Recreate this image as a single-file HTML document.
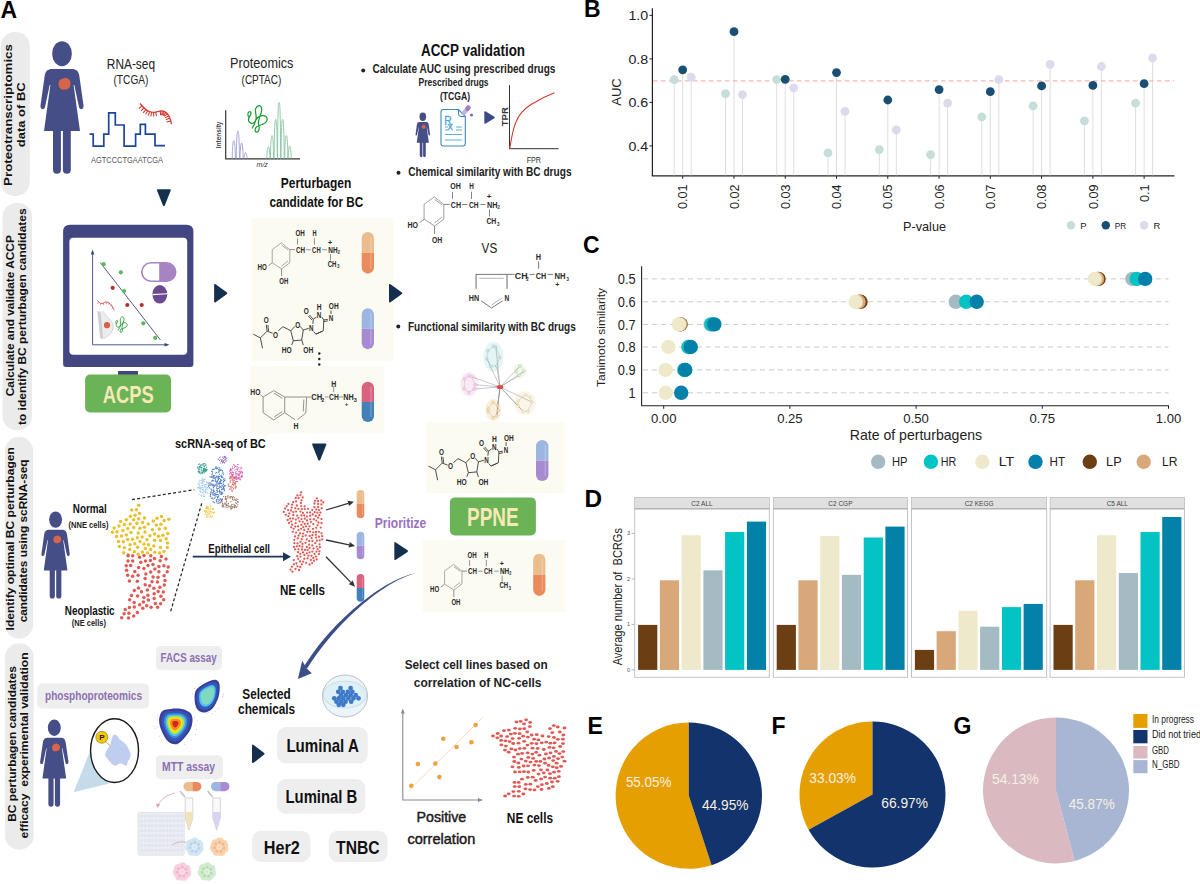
<!DOCTYPE html>
<html><head><meta charset="utf-8"><title>Figure</title>
<style>
html,body{margin:0;padding:0;background:#fff;}
body{width:1200px;height:884px;overflow:hidden;}
svg{display:block;font-family:"Liberation Sans", sans-serif;}
</style></head>
<body>
<svg width="1200" height="884" viewBox="0 0 1200 884">
<rect x="0" y="0" width="1200" height="884" fill="#fff"/>
<defs>
<filter id="soft" x="-20%" y="-20%" width="140%" height="140%"><feGaussianBlur stdDeviation="0.5"/></filter>
<g id="woman">
<ellipse cx="0" cy="0" rx="9.85" ry="12.5" fill="#454e86"/>
<path d="M-10,15.4 L10,15.4 C14,15.4 16.6,17.5 17.3,22 L21.5,51.8 C22,55.8 17.8,56.8 17,53.3 L12.3,31.3 L11.6,31.3 L18,77.3 L-18,77.3 L-11.6,31.3 L-12.3,31.3 L-17,53.3 C-17.8,56.8 -22,55.8 -21.5,51.8 L-17.3,22 C-16.6,17.5 -14,15.4 -10,15.4 Z" fill="#454e86"/>
<rect x="-9" y="72" width="7.9" height="48" rx="3.9" fill="#454e86"/>
<rect x="0.9" y="72" width="7.9" height="48" rx="3.9" fill="#454e86"/>
<path d="M2.8,24.2 C4.6,23.8 5.5,25.2 6.8,25.6 C8.6,26.6 8.3,28.6 8.5,30.2 C8.6,32.6 7.6,34.4 5.6,35.2 C4.2,36.2 2.4,35.6 1,36 C-1.6,35.9 -3.2,34 -3.3,31.6 C-3.8,29.8 -3.2,27.6 -2,26.4 C-0.9,24.9 1,24.5 2.8,24.2 Z" fill="#d6654b"/>
</g>
</defs>
<rect x="0.8" y="32.0" width="29.0" height="164.0" rx="14" fill="#ebebeb" />
<rect x="2.5" y="203.0" width="29.5" height="227.0" rx="14" fill="#ebebeb" />
<rect x="4.9" y="436.8" width="28.2" height="201.8" rx="14" fill="#ebebeb" />
<rect x="5.0" y="643.3" width="28.7" height="206.4" rx="14" fill="#ebebeb" />
<text transform="translate(11.8,115.0) rotate(-90)" font-size="11.2" font-weight="bold" fill="#111" text-anchor="middle" textLength="141.8" lengthAdjust="spacingAndGlyphs">Proteotranscriptomics</text>
<text transform="translate(25.0,114.8) rotate(-90)" font-size="11.2" font-weight="bold" fill="#111" text-anchor="middle" textLength="64.8" lengthAdjust="spacingAndGlyphs">data of BC</text>
<text transform="translate(14.0,315.7) rotate(-90)" font-size="10.9" font-weight="bold" fill="#111" text-anchor="middle" textLength="161.0" lengthAdjust="spacingAndGlyphs">Calculate and validate ACCP</text>
<text transform="translate(25.9,316.7) rotate(-90)" font-size="10.9" font-weight="bold" fill="#111" text-anchor="middle" textLength="216.6" lengthAdjust="spacingAndGlyphs">to identify BC perturbagen candidates</text>
<text transform="translate(14.3,538.8) rotate(-90)" font-size="11" font-weight="bold" fill="#111" text-anchor="middle" textLength="183.2" lengthAdjust="spacingAndGlyphs">Identify optimal BC perturbagen</text>
<text transform="translate(26.9,540.9) rotate(-90)" font-size="11" font-weight="bold" fill="#111" text-anchor="middle" textLength="162.9" lengthAdjust="spacingAndGlyphs">candidates using scRNA-seq</text>
<text transform="translate(15.7,744.0) rotate(-90)" font-size="11" font-weight="bold" fill="#111" text-anchor="middle" textLength="155.7" lengthAdjust="spacingAndGlyphs">BC perturbagen candidates</text>
<text transform="translate(27.6,745.5) rotate(-90)" font-size="11" font-weight="bold" fill="#111" text-anchor="middle" textLength="186.2" lengthAdjust="spacingAndGlyphs">efficacy&#160; experimental validation</text>
<text x="0.5" y="17.8" font-size="23" font-weight="bold" fill="#000" text-anchor="start">A</text>
<use href="#woman" transform="translate(62,53.7) scale(1.0)"/>
<text x="106.8" y="68.7" font-size="14" fill="#222" text-anchor="start" textLength="48.2" lengthAdjust="spacingAndGlyphs">RNA-seq</text>
<text x="113.5" y="84.1" font-size="13" fill="#222" text-anchor="start" textLength="34.9" lengthAdjust="spacingAndGlyphs">(TCGA)</text>
<polyline points="89.6,134.1 93.2,134.1 93.2,146.2 103.8,146.2 103.8,134.1 108.7,134.1 108.7,112.8 115.3,112.8 115.3,125 124.1,125 124.1,146.2 135.6,146.2 135.6,134.1 140.3,134.1 140.3,124.3 145.4,124.3 145.4,134.1 155,134.1 155,145.6 165,145.6" fill="none" stroke="#1c45a0" stroke-width="1.7"/>
<text x="91.0" y="162.8" font-size="8.5" fill="#555" text-anchor="start" textLength="72.0" lengthAdjust="spacingAndGlyphs">AGTCCCTGAATCGA</text>
<path d="M140,103.5 C146,111 151,114 158,111.5 C165,109 169.5,114 171.5,124" fill="none" stroke="#d2352f" stroke-width="1.3"/>
<path d="M142.0,105.8 l-3.12,2.81 M143.9,107.8 l-2.89,3.05 M145.8,109.5 l-2.55,3.33 M147.7,110.7 l-2.08,3.65 M149.6,111.7 l-1.45,3.94 M151.6,112.2 l-0.69,4.14 M153.6,112.4 l0.11,4.20 M155.7,112.1 l0.84,4.12 M160.2,110.9 l0.51,4.17 M162.3,110.9 l-0.55,4.16 M164.2,111.4 l-1.66,3.86 M165.9,112.4 l-2.60,3.30 M167.4,113.8 l-3.25,2.66 M168.7,115.8 l-3.66,2.07 M169.8,118.1 l-3.90,1.56 M170.7,120.9 l-4.04,1.15" stroke="#d2352f" stroke-width="1.05" fill="none"/>
<text x="230.1" y="68.4" font-size="14" fill="#222" text-anchor="start" textLength="63.3" lengthAdjust="spacingAndGlyphs">Proteomics</text>
<text x="241.6" y="84.0" font-size="13" fill="#222" text-anchor="start" textLength="39.7" lengthAdjust="spacingAndGlyphs">(CPTAC)</text>
<path d="M225.7,110.3 L225.7,158.8 L300,158.8" fill="none" stroke="#333" stroke-width="1.2"/>
<text transform="translate(221,134.9) rotate(-90)" font-size="6.5" font-weight="bold" fill="#444" text-anchor="middle">Intensity</text>
<text x="256.6" y="167" font-size="7" font-style="italic" fill="#333">m/z</text>
<path d="M232.2,158.5 C232.5,143.7 233.2,140.7 233.8,140.7 C234.4,140.7 235.1,143.7 235.4,158.5 M236.3,158.5 C236.6,134.2 237.3,131.2 237.9,131.2 C238.5,131.2 239.2,134.2 239.5,158.5 M240.0,158.5 C240.3,146.0 241.0,143.0 241.6,143.0 C242.2,143.0 242.9,146.0 243.2,158.5 M244.0,158.5 C244.3,155.5 245.0,152.5 245.6,152.5 C246.2,152.5 246.9,155.5 247.2,158.5" fill="none" stroke="#a09cd0" stroke-width="0.9"/>
<path d="M266.8,158.5 C267.1,149.8 267.8,146.8 268.4,146.8 C269.0,146.8 269.7,149.8 270.0,158.5 M270.4,158.5 C270.7,138.6 271.4,135.6 272.0,135.6 C272.6,135.6 273.3,138.6 273.6,158.5 M274.1,158.5 C274.4,122.4 275.1,119.4 275.7,119.4 C276.3,119.4 277.0,122.4 277.3,158.5 M277.5,158.5 C277.8,105.5 278.5,102.5 279.1,102.5 C279.7,102.5 280.4,105.5 280.7,158.5 M281.0,158.5 C281.3,122.4 282.0,119.4 282.6,119.4 C283.2,119.4 283.9,122.4 284.2,158.5 M284.7,158.5 C285.0,138.6 285.7,135.6 286.3,135.6 C286.9,135.6 287.6,138.6 287.9,158.5 M288.1,158.5 C288.4,149.0 289.1,146.0 289.7,146.0 C290.3,146.0 291.0,149.0 291.3,158.5" fill="none" stroke="#86c3a0" stroke-width="0.9"/>
<path d="M220,700 C260,640 300,560 320,470 C340,380 290,300 310,220 C330,140 420,110 450,180 C480,260 440,340 410,420 C380,500 370,580 390,640 C410,720 380,800 330,790 C280,780 290,680 350,645 C420,610 560,600 590,500 C610,420 540,370 460,385 C380,400 330,460 300,520 C270,580 190,590 150,540 C110,480 150,420 180,380 C210,330 190,270 150,290 C110,310 110,380 150,440" transform="translate(243,100) scale(0.0407)" fill="none" stroke="#1a9a2e" stroke-width="30"/>
<path d="M157.8,189.3 L169.9,189.3 Q171.4,189.3 170.6,190.8 L164.7,205.8 Q163.9,206.6 163.1,205.8 L157.1,190.8 Q156.3,189.3 157.8,189.3 Z" fill="#15304f"/>
<path d="M70,224.7 L186.4,224.7 Q193.4,224.7 193.4,231.7 L193.4,364 Q193.4,366.9 190.5,366.9 L66,366.9 Q63.1,366.9 63.1,364 L63.1,231.7 Q63.1,224.7 70,224.7 Z" fill="#434781"/>
<rect x="69.4" y="237.7" width="117.8" height="117.1" rx="4" fill="#ffffff" />
<rect x="118.0" y="371.0" width="20.0" height="4.0" rx="0" fill="#434781" />
<rect x="85.1" y="374.5" width="85.9" height="38.0" rx="5" fill="#6ab457" />
<text x="128.2" y="402.9" font-size="24.5" font-weight="bold" fill="#f7e8b6" text-anchor="middle" textLength="51.0" lengthAdjust="spacingAndGlyphs">ACPS</text>
<path d="M92.6,252 L92.6,344.8 L167.5,344.8" fill="none" stroke="#3d4a7c" stroke-width="0.9"/>
<polygon points="92.6,249.5 90.8,254.5 94.4,254.5" fill="#3d4a7c" />
<polygon points="169.5,344.8 164.5,343.0 164.5,346.6" fill="#3d4a7c" />
<line x1="100.20" y1="262.50" x2="160.50" y2="340.00" stroke="#3d4a7c" stroke-width="0.9" />
<circle cx="103.70" cy="264.20" r="2.1" fill="#5cb85c" />
<circle cx="120.80" cy="272.30" r="2.1" fill="#5cb85c" />
<circle cx="124.10" cy="291.00" r="2.1" fill="#5cb85c" />
<circle cx="143.30" cy="323.30" r="2.1" fill="#5cb85c" />
<circle cx="155.20" cy="337.90" r="2.1" fill="#5cb85c" />
<circle cx="112.70" cy="287.80" r="2.1" fill="#b03030" />
<circle cx="127.30" cy="305.00" r="2.1" fill="#b03030" />
<circle cx="141.70" cy="305.00" r="2.1" fill="#b03030" />
<path d="M151,262.8 L166.5,262.8 A9.2,9.2 0 0 1 166.5,281.2 L151,281.2 A9.2,9.2 0 0 1 151,262.8 Z" fill="#fff" stroke="#a683c3" stroke-width="1.6"/>
<path d="M159.2,262.8 L166.5,262.8 A9.2,9.2 0 0 1 166.5,281.2 L159.2,281.2 Z" fill="#a683c3"/>
<ellipse cx="159.8" cy="294.3" rx="7.4" ry="9.3" fill="#6b4a91"/>
<line x1="152.50" y1="294.60" x2="167.20" y2="293.80" stroke="#ffffff" stroke-width="1.1" />
<path d="M97.5,300.5 C99,302 100,303.5 102,303.5 C104,303 105,301.5 107,302 C109.5,302.5 111,304.5 112,306 C113,307.5 113.5,309 114.3,310.3" fill="none" stroke="#d04848" stroke-width="0.9"/>
<path d="M98.5,302 l-0.8,1.8 M100.8,303.4 l-0.4,1.9 M103.5,303 l0.1,1.9 M106.2,302.3 l0.2,1.9 M108.8,302.9 l0.1,1.9 M111,304.6 l-0.3,1.8 M112.7,306.9 l-0.6,1.6" stroke="#d04848" stroke-width="0.6" fill="none"/>
<path d="M97.3,311.4 L103.2,311.4 C106.5,317 112.5,320.5 113.3,326 C113.8,332 108.5,336.5 103.2,338.6 L100.2,338.6 Z" fill="#ececec"/>
<path d="M103.2,311.4 C106.5,317 112.5,320.5 113.3,326 C113.8,332 108.5,336.5 103.2,338.6" fill="none" stroke="#c8c8c8" stroke-width="0.7"/>
<path d="M97.5,311.5 L100.5,311.5 L103.2,338.5 L100.2,338.5 Z" fill="#cfcfcf"/>
<circle cx="107.00" cy="325.20" r="3.1" fill="#d86048" />
<path d="M220,700 C260,640 300,560 320,470 C340,380 290,300 310,220 C330,140 420,110 450,180 C480,260 440,340 410,420 C380,500 370,580 390,640 C410,720 380,800 330,790 C280,780 290,680 350,645 C420,610 560,600 590,500 C610,420 540,370 460,385 C380,400 330,460 300,520 C270,580 190,590 150,540 C110,480 150,420 180,380 C210,330 190,270 150,290 C110,310 110,380 150,440" transform="translate(112.94,313.5) scale(0.024)" fill="none" stroke="#1f9a32" stroke-width="36"/>
<path d="M214.1,285.0 Q214.1,283.5 215.6,284.3 L227.0,292.4 Q227.8,293.2 227.0,294.1 L215.6,302.2 Q214.1,303.0 214.1,301.5 Z" fill="#15304f"/>
<text x="280.8" y="188.2" font-size="15.5" font-weight="bold" fill="#111" text-anchor="start" textLength="70.5" lengthAdjust="spacingAndGlyphs">Perturbagen</text>
<text x="269.4" y="206.6" font-size="15.5" font-weight="bold" fill="#111" text-anchor="start" textLength="93.8" lengthAdjust="spacingAndGlyphs">candidate for BC</text>
<rect x="251.3" y="218.0" width="142.2" height="143.0" rx="0" fill="#fbfbf1" />
<rect x="250.4" y="366.0" width="134.0" height="67.7" rx="0" fill="#fbfbf1" />
<path d="M361.7,252.8 L361.7,238.2 A6.15,6.15 0 0 1 374.0,238.2 L374.0,252.8 Z" fill="#ebbd8c"/>
<path d="M361.7,252.8 L361.7,267.5 A6.15,6.15 0 0 0 374.0,267.5 L374.0,252.8 Z" fill="#e98b5c"/>
<rect x="370.3" y="236.9" width="1.23" height="31.9" fill="#fff" opacity="0.25"/>
<path d="M361.7,328.8 L361.7,314.5 A6.15,6.15 0 0 1 374.0,314.5 L374.0,328.8 Z" fill="#9cb5e1"/>
<path d="M361.7,328.8 L361.7,343.0 A6.15,6.15 0 0 0 374.0,343.0 L374.0,328.8 Z" fill="#a78bd2"/>
<rect x="370.3" y="313.2" width="1.23" height="31.1" fill="#fff" opacity="0.25"/>
<path d="M361.7,401.9 L361.7,387.9 A6.15,6.15 0 0 1 374.0,387.9 L374.0,401.9 Z" fill="#d9637f"/>
<path d="M361.7,401.9 L361.7,415.9 A6.15,6.15 0 0 0 374.0,415.9 L374.0,401.9 Z" fill="#4380b9"/>
<rect x="370.3" y="386.6" width="1.23" height="30.5" fill="#fff" opacity="0.25"/>
<circle cx="319.30" cy="353.50" r="1.2" fill="#222" />
<circle cx="319.30" cy="359.00" r="1.2" fill="#222" />
<circle cx="319.30" cy="364.50" r="1.2" fill="#222" />
<path d="M389.0,285.0 Q389.0,283.5 390.5,284.3 L401.9,292.4 Q402.7,293.2 401.9,294.1 L390.5,302.2 Q389.0,303.0 389.0,301.5 Z" fill="#15304f"/>
<defs><g id="epi"><polygon points="424.1,204.4 434.3,196.8 443.8,204.4 443.8,219.2 434.6,226 424.1,219.2" fill="none" stroke="#888" stroke-width="0.8"/><path d="M434.6,199.4 L442.1,204.8 M441.8,217.2 L434.6,222.9" stroke="#888" stroke-width="0.8" fill="none"/><path d="M443.8,204.4 L449.6,204.4 M452.5,192 L452.5,198.7 M471.5,191.7 L471.5,199 M462.2,204.5 L467.4,204.5 M480.3,204.5 L485.5,204.5 M489.5,209.5 L489.5,216.5 M419.7,222.6 L424.1,219.2 M434.6,226 L434.6,234.1" stroke="#666" stroke-width="0.8" fill="none"/><text x="450.2" y="189" font-size="9.3" font-weight="bold" fill="#2a2a2a" text-anchor="start" textLength="10.5" lengthAdjust="spacingAndGlyphs">OH</text><text x="469.2" y="189" font-size="9.3" font-weight="bold" fill="#2a2a2a" text-anchor="start" textLength="4.6" lengthAdjust="spacingAndGlyphs">H</text><text x="450.8" y="207.9" font-size="9.3" font-weight="bold" fill="#2a2a2a" text-anchor="start" textLength="10.2" lengthAdjust="spacingAndGlyphs">CH</text><text x="468.9" y="207.9" font-size="9.3" font-weight="bold" fill="#2a2a2a" text-anchor="start" textLength="9.6" lengthAdjust="spacingAndGlyphs">CH</text><text x="487" y="207.9" font-size="9.3" font-weight="bold" fill="#2a2a2a" text-anchor="start" textLength="10.5" lengthAdjust="spacingAndGlyphs">NH</text><text x="497.6" y="209.2" font-size="6" font-weight="bold" fill="#2a2a2a" text-anchor="start" textLength="2.4" lengthAdjust="spacingAndGlyphs">2</text><text x="489.2" y="198.9" font-size="8" font-weight="bold" fill="#2a2a2a" text-anchor="middle">+</text><text x="486.4" y="224" font-size="9.3" font-weight="bold" fill="#2a2a2a" text-anchor="start" textLength="9.9" lengthAdjust="spacingAndGlyphs">CH</text><text x="497" y="225.5" font-size="6" font-weight="bold" fill="#2a2a2a" text-anchor="start" textLength="2.5" lengthAdjust="spacingAndGlyphs">3</text><text x="407.5" y="227.7" font-size="9.3" font-weight="bold" fill="#2a2a2a" text-anchor="start" textLength="10.5" lengthAdjust="spacingAndGlyphs">HO</text><text x="431.9" y="242.8" font-size="9.3" font-weight="bold" fill="#2a2a2a" text-anchor="start" textLength="10.2" lengthAdjust="spacingAndGlyphs">OH</text></g><g id="nuc"><path d="M253.3,334.2 L260.4,337.9 L262.5,348.3 M260.4,337.9 L267.1,331.2 L272.6,333.2 M267.1,331.2 L266.3,324.8 M268.6,331 L267.8,325 M278.3,330.8 L282.9,326.7 L290.8,330.8 L295,326.3 M300,326.3 L303.3,330 L301.7,340 L293.3,340.8 L290.8,330.8 M293.3,340.8 L291.7,345 M301.7,340 L303.3,345 M303.3,330 L308.8,328.3 M312.8,323.8 L313.3,319.2 L316.5,317 M313.3,319.2 L309.5,315 M312,320 L308.3,316 M321.8,317 L323.8,320 L323.3,330.8 L315.8,334.2 L313.6,331.5 M322.3,331.3 L316.3,334 M323.8,320 L327.8,319.3 M323.8,321.6 L327.8,320.9 M331,314 L331,310.5" stroke="#3a3a3a" stroke-width="0.9" fill="none"/><text x="266.3" y="323.3" font-size="9" font-weight="bold" fill="#2a2a2a" text-anchor="middle" textLength="5" lengthAdjust="spacingAndGlyphs">O</text><text x="275.4" y="337.5" font-size="9" font-weight="bold" fill="#2a2a2a" text-anchor="middle" textLength="5" lengthAdjust="spacingAndGlyphs">O</text><text x="297.7" y="327.5" font-size="9" font-weight="bold" fill="#2a2a2a" text-anchor="middle" textLength="5" lengthAdjust="spacingAndGlyphs">O</text><text x="286.7" y="352.9" font-size="9.3" font-weight="bold" fill="#2a2a2a" text-anchor="middle" textLength="10" lengthAdjust="spacingAndGlyphs">HO</text><text x="308.3" y="352.9" font-size="9.3" font-weight="bold" fill="#2a2a2a" text-anchor="middle" textLength="10" lengthAdjust="spacingAndGlyphs">OH</text><text x="311.3" y="330.8" font-size="9" font-weight="bold" fill="#2a2a2a" text-anchor="middle" textLength="4.5" lengthAdjust="spacingAndGlyphs">N</text><text x="306.3" y="314.2" font-size="9" font-weight="bold" fill="#2a2a2a" text-anchor="middle" textLength="5" lengthAdjust="spacingAndGlyphs">O</text><text x="319.1" y="318.3" font-size="9" font-weight="bold" fill="#2a2a2a" text-anchor="middle" textLength="4.5" lengthAdjust="spacingAndGlyphs">N</text><text x="319.2" y="310" font-size="9" font-weight="bold" fill="#2a2a2a" text-anchor="middle" textLength="4.8" lengthAdjust="spacingAndGlyphs">H</text><text x="331" y="321.3" font-size="9" font-weight="bold" fill="#2a2a2a" text-anchor="middle" textLength="4.5" lengthAdjust="spacingAndGlyphs">N</text><text x="333.7" y="308.8" font-size="9.3" font-weight="bold" fill="#2a2a2a" text-anchor="middle" textLength="9.8" lengthAdjust="spacingAndGlyphs">OH</text></g></defs>
<use href="#epi" transform="translate(-105.2,67.7) scale(0.89)"/>
<use href="#nuc"/>
<path d="M263.1,397 L273.7,390.6 L284.7,397 L284.7,412.6 L273.7,420 L263.1,412.6 Z M274,393.2 L282.3,398.3 M282.3,411.5 L274,417.2 M284.7,397 L306.7,397 L305.8,413.1 L297.6,419.6 M303.9,399.5 L303.2,411.5 M284.7,412.6 L294.8,419.6 M260.4,394.6 L263.1,397 M306.7,397 L311,397 M325,397 L328.5,397 M339,397 L343,397 M333.7,386 L333.7,392" stroke="#777" stroke-width="0.8" fill="none"/>
<text x="250.3" y="394.6" font-size="9" font-weight="bold" fill="#2a2a2a" text-anchor="start" textLength="10.1" lengthAdjust="spacingAndGlyphs">HO</text>
<text x="296.1" y="428.5" font-size="9" font-weight="bold" fill="#2a2a2a" text-anchor="middle" textLength="5" lengthAdjust="spacingAndGlyphs">H</text>
<text x="311.3" y="400.4" font-size="9" font-weight="bold" fill="#2a2a2a" text-anchor="start" textLength="11" lengthAdjust="spacingAndGlyphs">CH</text>
<text x="321.3" y="402" font-size="5.5" font-weight="bold" fill="#2a2a2a" text-anchor="start">2</text>
<text x="329.1" y="400.4" font-size="9" font-weight="bold" fill="#2a2a2a" text-anchor="start" textLength="9.7" lengthAdjust="spacingAndGlyphs">CH</text>
<text x="333.7" y="386.5" font-size="9" font-weight="bold" fill="#2a2a2a" text-anchor="middle" textLength="5" lengthAdjust="spacingAndGlyphs">H</text>
<text x="343.3" y="400.4" font-size="9" font-weight="bold" fill="#2a2a2a" text-anchor="start" textLength="10.5" lengthAdjust="spacingAndGlyphs">NH</text>
<text x="353.8" y="402" font-size="5.5" font-weight="bold" fill="#2a2a2a" text-anchor="start">3</text>
<text x="346.5" y="406" font-size="6" font-weight="bold" fill="#2a2a2a" text-anchor="middle">+</text>
<text x="421.0" y="56.0" font-size="16" font-weight="bold" fill="#111" text-anchor="start" textLength="104.0" lengthAdjust="spacingAndGlyphs">ACCP validation</text>
<circle cx="363.20" cy="70.60" r="2" fill="#222" />
<text x="372.4" y="73.4" font-size="13" font-weight="bold" fill="#222" text-anchor="start" textLength="183.0" lengthAdjust="spacingAndGlyphs">Calculate AUC using prescribed drugs</text>
<text x="418.6" y="86.0" font-size="10" font-weight="bold" fill="#222" text-anchor="start" textLength="70.0" lengthAdjust="spacingAndGlyphs">Prescribed drugs</text>
<text x="440.0" y="100.4" font-size="10.5" font-weight="bold" fill="#222" text-anchor="start" textLength="30.0" lengthAdjust="spacingAndGlyphs">(TCGA)</text>
<use href="#woman" transform="translate(422.8,116.7) scale(0.337)"/>
<path d="M443.5,109.5 L458.5,109.5 L465.3,116.5 L465.3,143.5 Q465.3,146 462.8,146 L443.5,146 Q441,146 441,143.5 L441,112 Q441,109.5 443.5,109.5 Z" fill="#fff" stroke="#3a89b5" stroke-width="1.1"/>
<path d="M458.5,109.5 L458.5,114 Q458.5,116.5 461,116.5 L465.3,116.5" fill="none" stroke="#3a89b5" stroke-width="1"/>
<text x="444.3" y="125.3" font-size="13" fill="#4aa6dc" stroke="#4aa6dc" stroke-width="0.3" textLength="7.5" lengthAdjust="spacingAndGlyphs">R</text>
<text x="447.6" y="129.8" font-size="10.5" fill="#4aa6dc" stroke="#4aa6dc" stroke-width="0.3">x</text>
<path d="M445,127 L448,127 M445,130 L448,130 M456,127 L462,127 M456,130 L462,130 M445,134.5 L462,134.5 M445,140 L462,140" stroke="#4aa6dc" stroke-width="0.9" fill="none"/>
<g transform="translate(466,110.5) rotate(-50)"><rect x="-6" y="-2.2" width="12" height="4.4" rx="2.2" fill="#c7b0e0"/><rect x="0" y="-2.2" width="6" height="4.4" rx="2.2" fill="#9d7cc9"/></g>
<circle cx="471.50" cy="115.00" r="1.6" fill="#8a68b8" />
<path d="M484.3,112.2 Q484.3,110.7 485.8,111.5 L494.4,116.7 Q495.2,117.5 494.4,118.2 L485.8,123.4 Q484.3,124.2 484.3,122.7 Z" fill="#3d4a88"/>
<path d="M509.5,85.2 L509.5,148.7 L558.7,148.7" fill="none" stroke="#333" stroke-width="1"/>
<path d="M509.8,148 C511.5,138 513,128 516,122 C519,114 524,109 531,104.5 C539,99.5 547,95.5 554.5,92.7" fill="none" stroke="#d63a2a" stroke-width="1.1"/>
<text transform="translate(507.8,116.7) rotate(-90)" font-size="9.5" font-weight="bold" fill="#333" text-anchor="middle">TPR</text>
<text x="526.7" y="162.5" font-size="9" fill="#333" text-anchor="start" textLength="14.3" lengthAdjust="spacingAndGlyphs">FPR</text>
<circle cx="398.50" cy="172.70" r="2" fill="#222" />
<text x="408.3" y="176.1" font-size="12.5" font-weight="bold" fill="#222" text-anchor="start" textLength="163.2" lengthAdjust="spacingAndGlyphs">Chemical similarity with BC drugs</text>
<use href="#epi"/>
<text x="481.6" y="252.5" font-size="14" fill="#222" text-anchor="start" textLength="15.6" lengthAdjust="spacingAndGlyphs">VS</text>
<path d="M475.8,274.4 L512.5,274.4 M512.5,274.4 L514.5,274.4 M476.1,274.4 L476.1,288.8 M507,274.4 L507,288.8 M481.1,300.8 L491.6,308 L502.6,300.8 M529.5,274.4 L534.7,274.4 M547.7,274.4 L553,274.4 M538.6,261.5 L538.6,268.7" stroke="#555" stroke-width="0.8" fill="none"/>
<path d="M479.2,278.3 L503.6,278.3 M476.1,276 L476.1,288.8 M507,276 L507,288.8 M491.6,305.1 L502.2,297.9" stroke="#aaa" stroke-width="0.9" fill="none"/>
<text x="468.8" y="300.6" font-size="9" font-weight="bold" fill="#2a2a2a" text-anchor="start" textLength="10.4" lengthAdjust="spacingAndGlyphs">HN</text>
<text x="504.6" y="300.6" font-size="9" font-weight="bold" fill="#2a2a2a" text-anchor="start" textLength="4.8" lengthAdjust="spacingAndGlyphs">N</text>
<text x="535.7" y="259.6" font-size="9" font-weight="bold" fill="#2a2a2a" text-anchor="start" textLength="5.3" lengthAdjust="spacingAndGlyphs">H</text>
<text x="514.8" y="278.7" font-size="9" font-weight="bold" fill="#2a2a2a" text-anchor="start" textLength="12.8" lengthAdjust="spacingAndGlyphs">CH</text>
<text x="526.2" y="280.5" font-size="5.5" font-weight="bold" fill="#2a2a2a" text-anchor="start" textLength="2.4" lengthAdjust="spacingAndGlyphs">2</text>
<text x="535.7" y="278.7" font-size="9" font-weight="bold" fill="#2a2a2a" text-anchor="start" textLength="10.5" lengthAdjust="spacingAndGlyphs">CH</text>
<text x="554.4" y="278.7" font-size="9" font-weight="bold" fill="#2a2a2a" text-anchor="start" textLength="11" lengthAdjust="spacingAndGlyphs">NH</text>
<text x="566.4" y="280.5" font-size="5.5" font-weight="bold" fill="#2a2a2a" text-anchor="start" textLength="2.4" lengthAdjust="spacingAndGlyphs">3</text>
<text x="557.3" y="286.5" font-size="7" font-weight="bold" fill="#2a2a2a" text-anchor="middle">+</text>
<circle cx="398.30" cy="326.60" r="2" fill="#222" />
<text x="408.0" y="331.3" font-size="12.5" font-weight="bold" fill="#222" text-anchor="start" textLength="167.8" lengthAdjust="spacingAndGlyphs">Functional similarity with BC drugs</text>
<ellipse cx="493.3" cy="356.7" rx="10" ry="15" fill="#d4eeee" opacity="0.6" filter="url(#soft)"/><ellipse cx="520" cy="370.8" rx="6.5" ry="7" fill="#e6f4df" opacity="0.6" filter="url(#soft)"/><ellipse cx="469.2" cy="384.2" rx="9" ry="12" fill="#f6dcf0" opacity="0.6" filter="url(#soft)"/><ellipse cx="493.3" cy="410" rx="8" ry="11" fill="#f7e5c4" opacity="0.6" filter="url(#soft)"/><ellipse cx="525" cy="403.3" rx="11" ry="12" fill="#f8f0da" opacity="0.6" filter="url(#soft)"/><line x1="499.8" y1="357.5" x2="496.6" y2="365.8" stroke="#999" stroke-width="0.3"/><line x1="496.6" y1="365.8" x2="490.8" y2="366.4" stroke="#999" stroke-width="0.3"/><line x1="490.8" y1="366.4" x2="486.9" y2="358.6" stroke="#999" stroke-width="0.3"/><line x1="486.9" y1="358.6" x2="487.9" y2="350.8" stroke="#999" stroke-width="0.3"/><line x1="487.9" y1="350.8" x2="493.5" y2="346.2" stroke="#999" stroke-width="0.3"/><line x1="493.5" y1="346.2" x2="495.8" y2="347.0" stroke="#999" stroke-width="0.3"/><line x1="495.8" y1="347.0" x2="499.8" y2="357.5" stroke="#999" stroke-width="0.3"/><line x1="500" y1="387" x2="486.9" y2="358.6" stroke="#666" stroke-width="0.35"/><line x1="500" y1="387" x2="495.8" y2="347.0" stroke="#666" stroke-width="0.35"/><line x1="500" y1="387" x2="496.6" y2="365.8" stroke="#666" stroke-width="0.35"/><circle cx="499.8" cy="357.5" r="1.3" fill="#d4eeee" stroke="#7fbcbc" stroke-width="0.45"/><circle cx="496.6" cy="365.8" r="1.3" fill="#d4eeee" stroke="#7fbcbc" stroke-width="0.45"/><circle cx="490.8" cy="366.4" r="1.3" fill="#d4eeee" stroke="#7fbcbc" stroke-width="0.45"/><circle cx="486.9" cy="358.6" r="1.3" fill="#d4eeee" stroke="#7fbcbc" stroke-width="0.45"/><circle cx="487.9" cy="350.8" r="1.3" fill="#d4eeee" stroke="#7fbcbc" stroke-width="0.45"/><circle cx="493.5" cy="346.2" r="1.3" fill="#d4eeee" stroke="#7fbcbc" stroke-width="0.45"/><circle cx="495.8" cy="347.0" r="1.3" fill="#d4eeee" stroke="#7fbcbc" stroke-width="0.45"/><line x1="524.2" y1="371.2" x2="519.0" y2="375.6" stroke="#999" stroke-width="0.3"/><line x1="519.0" y1="375.6" x2="515.9" y2="371.9" stroke="#999" stroke-width="0.3"/><line x1="515.9" y1="371.9" x2="519.9" y2="365.9" stroke="#999" stroke-width="0.3"/><line x1="519.9" y1="365.9" x2="524.2" y2="371.2" stroke="#999" stroke-width="0.3"/><line x1="500" y1="387" x2="519.0" y2="375.6" stroke="#666" stroke-width="0.35"/><line x1="500" y1="387" x2="519.9" y2="365.9" stroke="#666" stroke-width="0.35"/><line x1="500" y1="387" x2="524.2" y2="371.2" stroke="#666" stroke-width="0.35"/><circle cx="524.2" cy="371.2" r="1.3" fill="#e6f4df" stroke="#9acb8a" stroke-width="0.45"/><circle cx="519.0" cy="375.6" r="1.3" fill="#e6f4df" stroke="#9acb8a" stroke-width="0.45"/><circle cx="515.9" cy="371.9" r="1.3" fill="#e6f4df" stroke="#9acb8a" stroke-width="0.45"/><circle cx="519.9" cy="365.9" r="1.3" fill="#e6f4df" stroke="#9acb8a" stroke-width="0.45"/><line x1="475.0" y1="384.6" x2="474.0" y2="389.0" stroke="#999" stroke-width="0.3"/><line x1="474.0" y1="389.0" x2="468.9" y2="392.6" stroke="#999" stroke-width="0.3"/><line x1="468.9" y1="392.6" x2="464.3" y2="388.8" stroke="#999" stroke-width="0.3"/><line x1="464.3" y1="388.8" x2="464.7" y2="378.8" stroke="#999" stroke-width="0.3"/><line x1="464.7" y1="378.8" x2="468.8" y2="375.8" stroke="#999" stroke-width="0.3"/><line x1="468.8" y1="375.8" x2="471.8" y2="376.7" stroke="#999" stroke-width="0.3"/><line x1="471.8" y1="376.7" x2="475.0" y2="384.6" stroke="#999" stroke-width="0.3"/><line x1="500" y1="387" x2="471.8" y2="376.7" stroke="#666" stroke-width="0.35"/><line x1="500" y1="387" x2="475.0" y2="384.6" stroke="#666" stroke-width="0.35"/><line x1="500" y1="387" x2="474.0" y2="389.0" stroke="#666" stroke-width="0.35"/><circle cx="475.0" cy="384.6" r="1.3" fill="#f6dcf0" stroke="#d59acb" stroke-width="0.45"/><circle cx="474.0" cy="389.0" r="1.3" fill="#f6dcf0" stroke="#d59acb" stroke-width="0.45"/><circle cx="468.9" cy="392.6" r="1.3" fill="#f6dcf0" stroke="#d59acb" stroke-width="0.45"/><circle cx="464.3" cy="388.8" r="1.3" fill="#f6dcf0" stroke="#d59acb" stroke-width="0.45"/><circle cx="464.7" cy="378.8" r="1.3" fill="#f6dcf0" stroke="#d59acb" stroke-width="0.45"/><circle cx="468.8" cy="375.8" r="1.3" fill="#f6dcf0" stroke="#d59acb" stroke-width="0.45"/><circle cx="471.8" cy="376.7" r="1.3" fill="#f6dcf0" stroke="#d59acb" stroke-width="0.45"/><line x1="498.5" y1="410.5" x2="496.7" y2="415.9" stroke="#999" stroke-width="0.3"/><line x1="496.7" y1="415.9" x2="493.3" y2="417.7" stroke="#999" stroke-width="0.3"/><line x1="493.3" y1="417.7" x2="488.2" y2="411.3" stroke="#999" stroke-width="0.3"/><line x1="488.2" y1="411.3" x2="488.2" y2="408.8" stroke="#999" stroke-width="0.3"/><line x1="488.2" y1="408.8" x2="493.0" y2="402.3" stroke="#999" stroke-width="0.3"/><line x1="493.0" y1="402.3" x2="497.5" y2="405.5" stroke="#999" stroke-width="0.3"/><line x1="497.5" y1="405.5" x2="498.5" y2="410.5" stroke="#999" stroke-width="0.3"/><line x1="500" y1="387" x2="496.7" y2="415.9" stroke="#666" stroke-width="0.35"/><line x1="500" y1="387" x2="497.5" y2="405.5" stroke="#666" stroke-width="0.35"/><line x1="500" y1="387" x2="496.7" y2="415.9" stroke="#666" stroke-width="0.35"/><circle cx="498.5" cy="410.5" r="1.3" fill="#f7e5c4" stroke="#d6b070" stroke-width="0.45"/><circle cx="496.7" cy="415.9" r="1.3" fill="#f7e5c4" stroke="#d6b070" stroke-width="0.45"/><circle cx="493.3" cy="417.7" r="1.3" fill="#f7e5c4" stroke="#d6b070" stroke-width="0.45"/><circle cx="488.2" cy="411.3" r="1.3" fill="#f7e5c4" stroke="#d6b070" stroke-width="0.45"/><circle cx="488.2" cy="408.8" r="1.3" fill="#f7e5c4" stroke="#d6b070" stroke-width="0.45"/><circle cx="493.0" cy="402.3" r="1.3" fill="#f7e5c4" stroke="#d6b070" stroke-width="0.45"/><circle cx="497.5" cy="405.5" r="1.3" fill="#f7e5c4" stroke="#d6b070" stroke-width="0.45"/><line x1="532.1" y1="402.2" x2="527.8" y2="411.0" stroke="#999" stroke-width="0.3"/><line x1="527.8" y1="411.0" x2="523.2" y2="411.4" stroke="#999" stroke-width="0.3"/><line x1="523.2" y1="411.4" x2="518.3" y2="406.1" stroke="#999" stroke-width="0.3"/><line x1="518.3" y1="406.1" x2="518.1" y2="401.0" stroke="#999" stroke-width="0.3"/><line x1="518.1" y1="401.0" x2="525.3" y2="394.9" stroke="#999" stroke-width="0.3"/><line x1="525.3" y1="394.9" x2="530.1" y2="397.4" stroke="#999" stroke-width="0.3"/><line x1="530.1" y1="397.4" x2="532.1" y2="402.2" stroke="#999" stroke-width="0.3"/><line x1="500" y1="387" x2="518.3" y2="406.1" stroke="#666" stroke-width="0.35"/><line x1="500" y1="387" x2="523.2" y2="411.4" stroke="#666" stroke-width="0.35"/><line x1="500" y1="387" x2="532.1" y2="402.2" stroke="#666" stroke-width="0.35"/><circle cx="532.1" cy="402.2" r="1.3" fill="#f8f0da" stroke="#d8c48e" stroke-width="0.45"/><circle cx="527.8" cy="411.0" r="1.3" fill="#f8f0da" stroke="#d8c48e" stroke-width="0.45"/><circle cx="523.2" cy="411.4" r="1.3" fill="#f8f0da" stroke="#d8c48e" stroke-width="0.45"/><circle cx="518.3" cy="406.1" r="1.3" fill="#f8f0da" stroke="#d8c48e" stroke-width="0.45"/><circle cx="518.1" cy="401.0" r="1.3" fill="#f8f0da" stroke="#d8c48e" stroke-width="0.45"/><circle cx="525.3" cy="394.9" r="1.3" fill="#f8f0da" stroke="#d8c48e" stroke-width="0.45"/><circle cx="530.1" cy="397.4" r="1.3" fill="#f8f0da" stroke="#d8c48e" stroke-width="0.45"/><rect x="496.6" y="385.3" width="6.8" height="3.6" rx="1.8" fill="#dd4a48"/>
<path d="M313.0,443.5 L325.5,443.5 Q327.0,443.5 326.2,445.0 L320.1,460.2 Q319.2,461.0 318.4,460.2 L312.3,445.0 Q311.5,443.5 313.0,443.5 Z" fill="#15304f"/>
<use href="#woman" transform="translate(55.6,519.6) scale(0.657)"/>
<text x="72.8" y="512.6" font-size="12" font-weight="bold" fill="#111" text-anchor="start" textLength="33.9" lengthAdjust="spacingAndGlyphs">Normal</text>
<text x="68.6" y="528.3" font-size="9" font-weight="bold" fill="#222" text-anchor="start" textLength="39.8" lengthAdjust="spacingAndGlyphs">(NNE cells)</text>
<text x="64.8" y="614.6" font-size="12" font-weight="bold" fill="#111" text-anchor="start" textLength="49.8" lengthAdjust="spacingAndGlyphs">Neoplastic</text>
<text x="71.8" y="626.0" font-size="9" font-weight="bold" fill="#222" text-anchor="start" textLength="34.1" lengthAdjust="spacingAndGlyphs">(NE cells)</text>
<text x="175.0" y="448.3" font-size="13.5" font-weight="bold" fill="#111" text-anchor="start" textLength="90.7" lengthAdjust="spacingAndGlyphs">scRNA-seq of BC</text>
<g fill="#e8c12e"><circle cx="138.3" cy="533.0" r="1.75"/><circle cx="165.4" cy="528.2" r="1.75"/><circle cx="122.9" cy="530.5" r="1.75"/><circle cx="148.5" cy="544.8" r="1.75"/><circle cx="149.9" cy="535.8" r="1.75"/><circle cx="114.1" cy="528.1" r="1.75"/><circle cx="137.6" cy="547.3" r="1.75"/><circle cx="142.1" cy="537.0" r="1.75"/><circle cx="138.6" cy="518.7" r="1.75"/><circle cx="160.5" cy="540.5" r="1.75"/><circle cx="130.4" cy="516.2" r="1.75"/><circle cx="156.3" cy="524.9" r="1.75"/><circle cx="160.9" cy="524.2" r="1.75"/><circle cx="167.3" cy="547.5" r="1.75"/><circle cx="116.5" cy="536.5" r="1.75"/><circle cx="157.0" cy="518.2" r="1.75"/><circle cx="167.6" cy="543.0" r="1.75"/><circle cx="144.4" cy="527.3" r="1.75"/><circle cx="123.3" cy="541.7" r="1.75"/><circle cx="119.0" cy="525.9" r="1.75"/><circle cx="129.8" cy="549.5" r="1.75"/><circle cx="124.4" cy="524.6" r="1.75"/><circle cx="126.3" cy="535.1" r="1.75"/><circle cx="133.7" cy="527.6" r="1.75"/><circle cx="145.3" cy="548.5" r="1.75"/><circle cx="154.8" cy="552.3" r="1.75"/><circle cx="123.6" cy="552.8" r="1.75"/><circle cx="162.9" cy="535.2" r="1.75"/><circle cx="136.5" cy="509.8" r="1.75"/><circle cx="140.0" cy="541.6" r="1.75"/><circle cx="154.6" cy="540.3" r="1.75"/><circle cx="132.5" cy="539.3" r="1.75"/><circle cx="148.2" cy="524.0" r="1.75"/><circle cx="154.5" cy="534.0" r="1.75"/><circle cx="152.4" cy="529.8" r="1.75"/><circle cx="160.4" cy="547.6" r="1.75"/><circle cx="130.1" cy="544.7" r="1.75"/><circle cx="139.6" cy="513.6" r="1.75"/><circle cx="153.8" cy="546.1" r="1.75"/><circle cx="130.2" cy="523.9" r="1.75"/><circle cx="124.3" cy="547.7" r="1.75"/><circle cx="127.8" cy="528.6" r="1.75"/><circle cx="118.4" cy="541.6" r="1.75"/><circle cx="161.5" cy="516.4" r="1.75"/><circle cx="164.1" cy="520.6" r="1.75"/><circle cx="167.8" cy="533.4" r="1.75"/><circle cx="142.4" cy="552.1" r="1.75"/><circle cx="131.0" cy="532.4" r="1.75"/><circle cx="136.9" cy="523.3" r="1.75"/><circle cx="159.2" cy="528.9" r="1.75"/><circle cx="128.1" cy="554.8" r="1.75"/><circle cx="139.9" cy="528.3" r="1.75"/><circle cx="144.5" cy="518.0" r="1.75"/><circle cx="119.4" cy="546.4" r="1.75"/><circle cx="126.3" cy="519.7" r="1.75"/><circle cx="134.4" cy="551.7" r="1.75"/><circle cx="145.0" cy="532.1" r="1.75"/><circle cx="147.6" cy="553.0" r="1.75"/><circle cx="121.5" cy="536.1" r="1.75"/><circle cx="153.4" cy="521.1" r="1.75"/><circle cx="146.9" cy="539.8" r="1.75"/><circle cx="133.5" cy="519.8" r="1.75"/><circle cx="163.9" cy="551.4" r="1.75"/><circle cx="142.6" cy="522.5" r="1.75"/><circle cx="137.3" cy="537.7" r="1.75"/><circle cx="112.4" cy="532.3" r="1.75"/><circle cx="131.7" cy="509.9" r="1.75"/><circle cx="138.7" cy="505.3" r="1.75"/><circle cx="168.9" cy="519.2" r="1.75"/><circle cx="134.8" cy="543.8" r="1.75"/><circle cx="166.2" cy="538.7" r="1.75"/><circle cx="117.0" cy="531.8" r="1.75"/><circle cx="135.1" cy="515.2" r="1.75"/><circle cx="120.6" cy="521.5" r="1.75"/><circle cx="138.2" cy="554.3" r="1.75"/><circle cx="159.6" cy="552.9" r="1.75"/><circle cx="127.7" cy="539.5" r="1.75"/><circle cx="144.0" cy="544.0" r="1.75"/><circle cx="150.7" cy="549.6" r="1.75"/><circle cx="158.5" cy="536.2" r="1.75"/></g>
<g fill="#e05a55"><circle cx="143.9" cy="597.4" r="1.75"/><circle cx="153.0" cy="564.4" r="1.75"/><circle cx="134.3" cy="607.1" r="1.75"/><circle cx="154.2" cy="593.8" r="1.75"/><circle cx="128.9" cy="613.2" r="1.75"/><circle cx="137.3" cy="581.2" r="1.75"/><circle cx="161.4" cy="556.5" r="1.75"/><circle cx="124.1" cy="613.8" r="1.75"/><circle cx="145.5" cy="561.1" r="1.75"/><circle cx="127.6" cy="575.3" r="1.75"/><circle cx="154.5" cy="558.6" r="1.75"/><circle cx="129.4" cy="607.5" r="1.75"/><circle cx="149.7" cy="585.8" r="1.75"/><circle cx="139.6" cy="557.2" r="1.75"/><circle cx="154.2" cy="598.4" r="1.75"/><circle cx="126.6" cy="570.3" r="1.75"/><circle cx="138.5" cy="588.0" r="1.75"/><circle cx="159.9" cy="587.3" r="1.75"/><circle cx="139.7" cy="604.7" r="1.75"/><circle cx="129.7" cy="599.8" r="1.75"/><circle cx="137.6" cy="596.0" r="1.75"/><circle cx="138.6" cy="567.4" r="1.75"/><circle cx="158.0" cy="577.2" r="1.75"/><circle cx="132.7" cy="555.8" r="1.75"/><circle cx="160.9" cy="596.2" r="1.75"/><circle cx="133.7" cy="615.9" r="1.75"/><circle cx="163.9" cy="565.7" r="1.75"/><circle cx="154.9" cy="569.0" r="1.75"/><circle cx="134.8" cy="571.6" r="1.75"/><circle cx="147.9" cy="595.3" r="1.75"/><circle cx="157.5" cy="582.0" r="1.75"/><circle cx="146.7" cy="605.8" r="1.75"/><circle cx="138.1" cy="575.3" r="1.75"/><circle cx="128.0" cy="561.1" r="1.75"/><circle cx="153.1" cy="577.1" r="1.75"/><circle cx="132.6" cy="576.2" r="1.75"/><circle cx="145.1" cy="578.4" r="1.75"/><circle cx="164.1" cy="575.8" r="1.75"/><circle cx="150.7" cy="572.1" r="1.75"/><circle cx="143.9" cy="568.5" r="1.75"/><circle cx="132.7" cy="560.9" r="1.75"/><circle cx="160.6" cy="603.7" r="1.75"/><circle cx="145.2" cy="584.7" r="1.75"/><circle cx="129.4" cy="580.9" r="1.75"/><circle cx="155.4" cy="603.4" r="1.75"/><circle cx="147.4" cy="590.1" r="1.75"/><circle cx="148.4" cy="600.1" r="1.75"/><circle cx="166.0" cy="559.0" r="1.75"/><circle cx="153.9" cy="588.3" r="1.75"/><circle cx="134.3" cy="590.4" r="1.75"/><circle cx="144.0" cy="555.6" r="1.75"/><circle cx="165.0" cy="580.4" r="1.75"/><circle cx="158.9" cy="571.7" r="1.75"/><circle cx="160.1" cy="560.8" r="1.75"/><circle cx="167.2" cy="571.7" r="1.75"/><circle cx="148.0" cy="565.5" r="1.75"/><circle cx="141.5" cy="591.7" r="1.75"/><circle cx="151.1" cy="607.3" r="1.75"/><circle cx="137.4" cy="612.4" r="1.75"/><circle cx="130.7" cy="565.6" r="1.75"/><circle cx="131.5" cy="595.6" r="1.75"/><circle cx="150.8" cy="555.8" r="1.75"/><circle cx="128.5" cy="617.9" r="1.75"/><circle cx="163.3" cy="592.0" r="1.75"/><circle cx="140.8" cy="562.2" r="1.75"/><circle cx="152.0" cy="581.7" r="1.75"/><circle cx="158.9" cy="566.6" r="1.75"/><circle cx="163.7" cy="599.8" r="1.75"/><circle cx="134.1" cy="602.4" r="1.75"/><circle cx="145.9" cy="573.9" r="1.75"/><circle cx="121.7" cy="617.7" r="1.75"/><circle cx="126.2" cy="565.7" r="1.75"/><circle cx="150.4" cy="560.6" r="1.75"/><circle cx="128.1" cy="555.7" r="1.75"/><circle cx="158.2" cy="591.6" r="1.75"/><circle cx="142.8" cy="608.3" r="1.75"/><circle cx="143.4" cy="602.0" r="1.75"/><circle cx="164.3" cy="585.0" r="1.75"/><circle cx="125.2" cy="609.4" r="1.75"/><circle cx="168.2" cy="567.1" r="1.75"/><circle cx="157.6" cy="607.3" r="1.75"/></g>
<path d="M132,499.6 L194.3,489.7 M201.7,503.4 L170.6,611.6" stroke="#222" stroke-width="1.2" stroke-dasharray="3,2.2" fill="none"/>
<circle cx="201.5" cy="470.8" r="0.6" fill="#2f9e8c"/><circle cx="201.6" cy="467.4" r="0.6" fill="#2f9e8c"/><circle cx="199.4" cy="467.9" r="0.6" fill="#2f9e8c"/><circle cx="205.8" cy="470.2" r="0.6" fill="#2f9e8c"/><circle cx="205.7" cy="469.6" r="0.6" fill="#2f9e8c"/><circle cx="203.8" cy="469.5" r="0.6" fill="#2f9e8c"/><circle cx="198.3" cy="471.2" r="0.6" fill="#2f9e8c"/><circle cx="204.1" cy="470.7" r="0.6" fill="#2f9e8c"/><circle cx="198.9" cy="464.5" r="0.6" fill="#2f9e8c"/><circle cx="199.6" cy="466.9" r="0.6" fill="#2f9e8c"/><circle cx="203.5" cy="468.5" r="0.6" fill="#2f9e8c"/><circle cx="204.1" cy="466.2" r="0.6" fill="#2f9e8c"/><circle cx="203.5" cy="470.3" r="0.6" fill="#2f9e8c"/><circle cx="200.7" cy="473.8" r="0.6" fill="#2f9e8c"/><circle cx="204.0" cy="472.8" r="0.6" fill="#2f9e8c"/><circle cx="200.4" cy="465.9" r="0.6" fill="#2f9e8c"/><circle cx="201.2" cy="468.3" r="0.6" fill="#2f9e8c"/><circle cx="204.6" cy="469.7" r="0.6" fill="#2f9e8c"/><circle cx="201.0" cy="465.1" r="0.6" fill="#2f9e8c"/><circle cx="200.9" cy="472.9" r="0.6" fill="#2f9e8c"/><circle cx="199.7" cy="469.7" r="0.6" fill="#2f9e8c"/><circle cx="203.6" cy="463.9" r="0.6" fill="#2f9e8c"/><circle cx="202.5" cy="473.2" r="0.6" fill="#2f9e8c"/><circle cx="197.7" cy="467.8" r="0.6" fill="#2f9e8c"/><circle cx="202.0" cy="465.5" r="0.6" fill="#2f9e8c"/><circle cx="204.1" cy="468.4" r="0.6" fill="#2f9e8c"/><circle cx="198.5" cy="471.3" r="0.6" fill="#2f9e8c"/><circle cx="204.5" cy="472.1" r="0.6" fill="#2f9e8c"/><circle cx="206.4" cy="469.9" r="0.6" fill="#2f9e8c"/><circle cx="202.8" cy="464.2" r="0.6" fill="#2f9e8c"/><circle cx="204.4" cy="466.3" r="0.6" fill="#2f9e8c"/><circle cx="201.1" cy="464.3" r="0.6" fill="#2f9e8c"/><circle cx="199.4" cy="466.7" r="0.6" fill="#2f9e8c"/><circle cx="205.1" cy="463.8" r="0.6" fill="#2f9e8c"/><circle cx="198.3" cy="469.5" r="0.6" fill="#2f9e8c"/><circle cx="206.4" cy="470.6" r="0.6" fill="#2f9e8c"/><circle cx="199.3" cy="463.9" r="0.6" fill="#2f9e8c"/><circle cx="203.6" cy="465.8" r="0.6" fill="#2f9e8c"/><circle cx="199.3" cy="471.9" r="0.6" fill="#2f9e8c"/><circle cx="205.8" cy="469.3" r="0.6" fill="#2f9e8c"/><circle cx="203.3" cy="470.5" r="0.6" fill="#2f9e8c"/><circle cx="206.6" cy="470.6" r="0.6" fill="#2f9e8c"/><circle cx="204.1" cy="470.9" r="0.6" fill="#2f9e8c"/><circle cx="198.7" cy="472.2" r="0.6" fill="#2f9e8c"/><circle cx="205.4" cy="470.7" r="0.6" fill="#2f9e8c"/><circle cx="197.8" cy="467.0" r="0.6" fill="#2f9e8c"/><circle cx="204.4" cy="463.6" r="0.6" fill="#2f9e8c"/><circle cx="201.8" cy="472.5" r="0.6" fill="#2f9e8c"/><circle cx="199.4" cy="473.1" r="0.6" fill="#2f9e8c"/><circle cx="204.3" cy="468.1" r="0.6" fill="#2f9e8c"/><circle cx="203.5" cy="471.3" r="0.6" fill="#2f9e8c"/><circle cx="202.8" cy="472.9" r="0.6" fill="#2f9e8c"/><circle cx="200.2" cy="467.1" r="0.6" fill="#2f9e8c"/><circle cx="205.7" cy="468.8" r="0.6" fill="#2f9e8c"/><circle cx="199.8" cy="472.0" r="0.6" fill="#2f9e8c"/><circle cx="206.5" cy="467.3" r="0.6" fill="#2f9e8c"/><circle cx="198.4" cy="468.2" r="0.6" fill="#2f9e8c"/><circle cx="201.9" cy="467.5" r="0.6" fill="#2f9e8c"/><circle cx="206.0" cy="465.6" r="0.6" fill="#2f9e8c"/><circle cx="205.6" cy="464.9" r="0.6" fill="#2f9e8c"/><circle cx="199.9" cy="471.1" r="0.6" fill="#2f9e8c"/><circle cx="205.6" cy="471.6" r="0.6" fill="#2f9e8c"/><circle cx="203.6" cy="469.3" r="0.6" fill="#2f9e8c"/><circle cx="202.9" cy="471.0" r="0.6" fill="#2f9e8c"/><circle cx="201.8" cy="469.9" r="0.6" fill="#2f9e8c"/><circle cx="204.4" cy="468.7" r="0.6" fill="#2f9e8c"/><circle cx="204.9" cy="470.9" r="0.6" fill="#2f9e8c"/><circle cx="207.1" cy="469.6" r="0.6" fill="#2f9e8c"/><circle cx="200.9" cy="467.2" r="0.6" fill="#2f9e8c"/><circle cx="202.4" cy="472.2" r="0.6" fill="#2f9e8c"/><circle cx="221.6" cy="460.8" r="0.6" fill="#9470c0"/><circle cx="225.2" cy="456.7" r="0.6" fill="#9470c0"/><circle cx="219.5" cy="460.4" r="0.6" fill="#9470c0"/><circle cx="223.8" cy="460.4" r="0.6" fill="#9470c0"/><circle cx="221.3" cy="461.4" r="0.6" fill="#9470c0"/><circle cx="223.5" cy="458.5" r="0.6" fill="#9470c0"/><circle cx="226.9" cy="460.3" r="0.6" fill="#9470c0"/><circle cx="220.9" cy="459.5" r="0.6" fill="#9470c0"/><circle cx="221.9" cy="459.6" r="0.6" fill="#9470c0"/><circle cx="218.2" cy="459.1" r="0.6" fill="#9470c0"/><circle cx="225.1" cy="457.4" r="0.6" fill="#9470c0"/><circle cx="222.4" cy="462.1" r="0.6" fill="#9470c0"/><circle cx="224.6" cy="462.7" r="0.6" fill="#9470c0"/><circle cx="218.7" cy="459.1" r="0.6" fill="#9470c0"/><circle cx="221.6" cy="461.4" r="0.6" fill="#9470c0"/><circle cx="224.3" cy="456.3" r="0.6" fill="#9470c0"/><circle cx="225.0" cy="457.1" r="0.6" fill="#9470c0"/><circle cx="224.2" cy="456.8" r="0.6" fill="#9470c0"/><circle cx="223.1" cy="462.5" r="0.6" fill="#9470c0"/><circle cx="222.1" cy="460.3" r="0.6" fill="#9470c0"/><circle cx="224.9" cy="460.2" r="0.6" fill="#9470c0"/><circle cx="222.4" cy="463.0" r="0.6" fill="#9470c0"/><circle cx="225.5" cy="459.1" r="0.6" fill="#9470c0"/><circle cx="226.7" cy="458.3" r="0.6" fill="#9470c0"/><circle cx="225.2" cy="459.2" r="0.6" fill="#9470c0"/><circle cx="223.0" cy="461.6" r="0.6" fill="#9470c0"/><circle cx="223.3" cy="461.4" r="0.6" fill="#9470c0"/><circle cx="219.6" cy="457.3" r="0.6" fill="#9470c0"/><circle cx="224.3" cy="457.6" r="0.6" fill="#9470c0"/><circle cx="220.3" cy="457.0" r="0.6" fill="#9470c0"/><circle cx="225.8" cy="461.4" r="0.6" fill="#9470c0"/><circle cx="226.0" cy="458.0" r="0.6" fill="#9470c0"/><circle cx="222.6" cy="457.2" r="0.6" fill="#9470c0"/><circle cx="224.3" cy="462.8" r="0.6" fill="#9470c0"/><circle cx="220.6" cy="462.8" r="0.6" fill="#9470c0"/><circle cx="240.5" cy="471.9" r="0.6" fill="#d663b2"/><circle cx="230.9" cy="477.9" r="0.6" fill="#d663b2"/><circle cx="235.9" cy="469.3" r="0.6" fill="#d663b2"/><circle cx="238.1" cy="475.4" r="0.6" fill="#d663b2"/><circle cx="241.3" cy="468.4" r="0.6" fill="#d663b2"/><circle cx="240.1" cy="479.3" r="0.6" fill="#d663b2"/><circle cx="241.8" cy="472.0" r="0.6" fill="#d663b2"/><circle cx="233.3" cy="478.2" r="0.6" fill="#d663b2"/><circle cx="236.9" cy="473.7" r="0.6" fill="#d663b2"/><circle cx="241.7" cy="471.6" r="0.6" fill="#d663b2"/><circle cx="229.8" cy="471.5" r="0.6" fill="#d663b2"/><circle cx="230.5" cy="476.3" r="0.6" fill="#d663b2"/><circle cx="237.7" cy="469.3" r="0.6" fill="#d663b2"/><circle cx="236.3" cy="477.7" r="0.6" fill="#d663b2"/><circle cx="236.6" cy="479.7" r="0.6" fill="#d663b2"/><circle cx="236.0" cy="478.7" r="0.6" fill="#d663b2"/><circle cx="240.7" cy="479.1" r="0.6" fill="#d663b2"/><circle cx="233.5" cy="477.7" r="0.6" fill="#d663b2"/><circle cx="230.7" cy="468.7" r="0.6" fill="#d663b2"/><circle cx="230.6" cy="477.0" r="0.6" fill="#d663b2"/><circle cx="231.3" cy="472.8" r="0.6" fill="#d663b2"/><circle cx="235.4" cy="472.7" r="0.6" fill="#d663b2"/><circle cx="233.6" cy="474.3" r="0.6" fill="#d663b2"/><circle cx="242.4" cy="473.1" r="0.6" fill="#d663b2"/><circle cx="238.5" cy="478.3" r="0.6" fill="#d663b2"/><circle cx="235.5" cy="466.3" r="0.6" fill="#d663b2"/><circle cx="234.1" cy="478.6" r="0.6" fill="#d663b2"/><circle cx="230.6" cy="470.2" r="0.6" fill="#d663b2"/><circle cx="240.3" cy="477.0" r="0.6" fill="#d663b2"/><circle cx="236.3" cy="477.6" r="0.6" fill="#d663b2"/><circle cx="237.0" cy="466.6" r="0.6" fill="#d663b2"/><circle cx="230.8" cy="470.0" r="0.6" fill="#d663b2"/><circle cx="240.2" cy="469.8" r="0.6" fill="#d663b2"/><circle cx="232.6" cy="468.8" r="0.6" fill="#d663b2"/><circle cx="230.7" cy="472.3" r="0.6" fill="#d663b2"/><circle cx="231.6" cy="474.8" r="0.6" fill="#d663b2"/><circle cx="229.8" cy="474.1" r="0.6" fill="#d663b2"/><circle cx="234.3" cy="465.0" r="0.6" fill="#d663b2"/><circle cx="239.5" cy="471.3" r="0.6" fill="#d663b2"/><circle cx="230.2" cy="469.7" r="0.6" fill="#d663b2"/><circle cx="237.6" cy="470.1" r="0.6" fill="#d663b2"/><circle cx="239.6" cy="477.0" r="0.6" fill="#d663b2"/><circle cx="239.3" cy="474.8" r="0.6" fill="#d663b2"/><circle cx="241.3" cy="476.1" r="0.6" fill="#d663b2"/><circle cx="237.7" cy="464.7" r="0.6" fill="#d663b2"/><circle cx="239.6" cy="479.1" r="0.6" fill="#d663b2"/><circle cx="234.9" cy="470.1" r="0.6" fill="#d663b2"/><circle cx="241.3" cy="467.0" r="0.6" fill="#d663b2"/><circle cx="237.6" cy="481.4" r="0.6" fill="#d663b2"/><circle cx="232.5" cy="476.6" r="0.6" fill="#d663b2"/><circle cx="242.5" cy="472.4" r="0.6" fill="#d663b2"/><circle cx="238.7" cy="477.9" r="0.6" fill="#d663b2"/><circle cx="232.4" cy="472.4" r="0.6" fill="#d663b2"/><circle cx="237.6" cy="477.6" r="0.6" fill="#d663b2"/><circle cx="236.1" cy="471.7" r="0.6" fill="#d663b2"/><circle cx="232.0" cy="470.9" r="0.6" fill="#d663b2"/><circle cx="240.2" cy="473.5" r="0.6" fill="#d663b2"/><circle cx="232.8" cy="468.4" r="0.6" fill="#d663b2"/><circle cx="242.5" cy="476.4" r="0.6" fill="#d663b2"/><circle cx="237.9" cy="464.4" r="0.6" fill="#d663b2"/><circle cx="239.1" cy="475.7" r="0.6" fill="#d663b2"/><circle cx="242.1" cy="474.8" r="0.6" fill="#d663b2"/><circle cx="236.0" cy="476.1" r="0.6" fill="#d663b2"/><circle cx="230.6" cy="476.9" r="0.6" fill="#d663b2"/><circle cx="237.8" cy="468.8" r="0.6" fill="#d663b2"/><circle cx="240.2" cy="479.8" r="0.6" fill="#d663b2"/><circle cx="231.2" cy="469.7" r="0.6" fill="#d663b2"/><circle cx="237.7" cy="474.0" r="0.6" fill="#d663b2"/><circle cx="234.6" cy="467.5" r="0.6" fill="#d663b2"/><circle cx="242.2" cy="476.7" r="0.6" fill="#d663b2"/><circle cx="232.3" cy="466.9" r="0.6" fill="#d663b2"/><circle cx="241.7" cy="477.0" r="0.6" fill="#d663b2"/><circle cx="242.1" cy="476.3" r="0.6" fill="#d663b2"/><circle cx="232.5" cy="474.4" r="0.6" fill="#d663b2"/><circle cx="230.1" cy="470.1" r="0.6" fill="#d663b2"/><circle cx="236.0" cy="476.1" r="0.6" fill="#d663b2"/><circle cx="233.0" cy="472.2" r="0.6" fill="#d663b2"/><circle cx="238.4" cy="475.2" r="0.6" fill="#d663b2"/><circle cx="239.2" cy="474.1" r="0.6" fill="#d663b2"/><circle cx="234.9" cy="477.4" r="0.6" fill="#d663b2"/><circle cx="236.5" cy="468.1" r="0.6" fill="#d663b2"/><circle cx="233.4" cy="472.9" r="0.6" fill="#d663b2"/><circle cx="235.8" cy="473.9" r="0.6" fill="#d663b2"/><circle cx="236.3" cy="474.0" r="0.6" fill="#d663b2"/><circle cx="235.8" cy="466.3" r="0.6" fill="#d663b2"/><circle cx="238.0" cy="478.6" r="0.6" fill="#d663b2"/><circle cx="238.3" cy="471.7" r="0.6" fill="#d663b2"/><circle cx="238.2" cy="467.6" r="0.6" fill="#d663b2"/><circle cx="230.1" cy="473.2" r="0.6" fill="#d663b2"/><circle cx="232.5" cy="476.8" r="0.6" fill="#d663b2"/><circle cx="233.7" cy="464.7" r="0.6" fill="#d663b2"/><circle cx="232.9" cy="479.7" r="0.6" fill="#d663b2"/><circle cx="234.8" cy="466.1" r="0.6" fill="#d663b2"/><circle cx="233.0" cy="475.9" r="0.6" fill="#d663b2"/><circle cx="238.6" cy="474.0" r="0.6" fill="#d663b2"/><circle cx="241.6" cy="476.2" r="0.6" fill="#d663b2"/><circle cx="236.2" cy="476.5" r="0.6" fill="#d663b2"/><circle cx="241.7" cy="477.0" r="0.6" fill="#d663b2"/><circle cx="240.1" cy="467.6" r="0.6" fill="#d663b2"/><circle cx="235.6" cy="477.2" r="0.6" fill="#d663b2"/><circle cx="235.1" cy="478.7" r="0.6" fill="#d663b2"/><circle cx="238.8" cy="477.9" r="0.6" fill="#d663b2"/><circle cx="235.7" cy="481.6" r="0.6" fill="#d663b2"/><circle cx="241.3" cy="471.8" r="0.6" fill="#d663b2"/><circle cx="236.5" cy="481.6" r="0.6" fill="#d663b2"/><circle cx="234.8" cy="477.8" r="0.6" fill="#d663b2"/><circle cx="240.5" cy="472.9" r="0.6" fill="#d663b2"/><circle cx="231.5" cy="473.9" r="0.6" fill="#d663b2"/><circle cx="237.8" cy="478.9" r="0.6" fill="#d663b2"/><circle cx="239.8" cy="473.0" r="0.6" fill="#d663b2"/><circle cx="206.0" cy="490.7" r="0.6" fill="#a3cdee"/><circle cx="203.8" cy="487.9" r="0.6" fill="#a3cdee"/><circle cx="202.1" cy="491.8" r="0.6" fill="#a3cdee"/><circle cx="199.4" cy="484.0" r="0.6" fill="#a3cdee"/><circle cx="203.0" cy="479.8" r="0.6" fill="#a3cdee"/><circle cx="201.9" cy="478.8" r="0.6" fill="#a3cdee"/><circle cx="200.5" cy="491.0" r="0.6" fill="#a3cdee"/><circle cx="205.2" cy="487.1" r="0.6" fill="#a3cdee"/><circle cx="202.3" cy="480.0" r="0.6" fill="#a3cdee"/><circle cx="208.0" cy="489.9" r="0.6" fill="#a3cdee"/><circle cx="206.5" cy="482.8" r="0.6" fill="#a3cdee"/><circle cx="202.5" cy="479.0" r="0.6" fill="#a3cdee"/><circle cx="205.6" cy="492.8" r="0.6" fill="#a3cdee"/><circle cx="197.8" cy="487.3" r="0.6" fill="#a3cdee"/><circle cx="204.7" cy="479.4" r="0.6" fill="#a3cdee"/><circle cx="198.3" cy="483.0" r="0.6" fill="#a3cdee"/><circle cx="201.1" cy="480.3" r="0.6" fill="#a3cdee"/><circle cx="203.1" cy="489.2" r="0.6" fill="#a3cdee"/><circle cx="205.3" cy="491.7" r="0.6" fill="#a3cdee"/><circle cx="207.1" cy="492.8" r="0.6" fill="#a3cdee"/><circle cx="198.8" cy="484.8" r="0.6" fill="#a3cdee"/><circle cx="199.7" cy="481.9" r="0.6" fill="#a3cdee"/><circle cx="202.7" cy="487.5" r="0.6" fill="#a3cdee"/><circle cx="204.5" cy="479.6" r="0.6" fill="#a3cdee"/><circle cx="198.8" cy="487.4" r="0.6" fill="#a3cdee"/><circle cx="202.2" cy="485.4" r="0.6" fill="#a3cdee"/><circle cx="202.8" cy="482.7" r="0.6" fill="#a3cdee"/><circle cx="205.6" cy="489.7" r="0.6" fill="#a3cdee"/><circle cx="202.7" cy="483.2" r="0.6" fill="#a3cdee"/><circle cx="202.6" cy="478.1" r="0.6" fill="#a3cdee"/><circle cx="199.5" cy="487.7" r="0.6" fill="#a3cdee"/><circle cx="198.3" cy="488.5" r="0.6" fill="#a3cdee"/><circle cx="203.5" cy="480.1" r="0.6" fill="#a3cdee"/><circle cx="202.0" cy="485.4" r="0.6" fill="#a3cdee"/><circle cx="204.7" cy="491.3" r="0.6" fill="#a3cdee"/><circle cx="202.9" cy="482.3" r="0.6" fill="#a3cdee"/><circle cx="202.4" cy="487.1" r="0.6" fill="#a3cdee"/><circle cx="205.7" cy="489.3" r="0.6" fill="#a3cdee"/><circle cx="200.8" cy="480.5" r="0.6" fill="#a3cdee"/><circle cx="201.6" cy="482.9" r="0.6" fill="#a3cdee"/><circle cx="199.1" cy="486.8" r="0.6" fill="#a3cdee"/><circle cx="201.1" cy="488.2" r="0.6" fill="#a3cdee"/><circle cx="205.0" cy="484.9" r="0.6" fill="#a3cdee"/><circle cx="208.5" cy="486.2" r="0.6" fill="#a3cdee"/><circle cx="206.8" cy="488.2" r="0.6" fill="#a3cdee"/><circle cx="205.4" cy="479.0" r="0.6" fill="#a3cdee"/><circle cx="200.2" cy="489.0" r="0.6" fill="#a3cdee"/><circle cx="204.4" cy="496.4" r="0.6" fill="#a3cdee"/><circle cx="204.1" cy="494.5" r="0.6" fill="#a3cdee"/><circle cx="205.6" cy="492.8" r="0.6" fill="#a3cdee"/><circle cx="205.0" cy="486.5" r="0.6" fill="#a3cdee"/><circle cx="204.7" cy="481.4" r="0.6" fill="#a3cdee"/><circle cx="206.6" cy="482.3" r="0.6" fill="#a3cdee"/><circle cx="203.6" cy="496.4" r="0.6" fill="#a3cdee"/><circle cx="202.1" cy="487.6" r="0.6" fill="#a3cdee"/><circle cx="207.0" cy="487.7" r="0.6" fill="#a3cdee"/><circle cx="200.0" cy="489.1" r="0.6" fill="#a3cdee"/><circle cx="205.1" cy="491.8" r="0.6" fill="#a3cdee"/><circle cx="200.9" cy="495.5" r="0.6" fill="#a3cdee"/><circle cx="207.9" cy="487.6" r="0.6" fill="#a3cdee"/><circle cx="204.0" cy="484.7" r="0.6" fill="#a3cdee"/><circle cx="207.3" cy="483.9" r="0.6" fill="#a3cdee"/><circle cx="205.5" cy="484.5" r="0.6" fill="#a3cdee"/><circle cx="200.5" cy="491.8" r="0.6" fill="#a3cdee"/><circle cx="207.4" cy="487.4" r="0.6" fill="#a3cdee"/><circle cx="200.6" cy="492.3" r="0.6" fill="#a3cdee"/><circle cx="202.8" cy="489.6" r="0.6" fill="#a3cdee"/><circle cx="207.2" cy="492.7" r="0.6" fill="#a3cdee"/><circle cx="201.8" cy="496.5" r="0.6" fill="#a3cdee"/><circle cx="203.0" cy="492.4" r="0.6" fill="#a3cdee"/><circle cx="200.5" cy="487.2" r="0.6" fill="#a3cdee"/><circle cx="199.1" cy="494.1" r="0.6" fill="#a3cdee"/><circle cx="206.8" cy="481.8" r="0.6" fill="#a3cdee"/><circle cx="199.3" cy="480.8" r="0.6" fill="#a3cdee"/><circle cx="206.9" cy="484.9" r="0.6" fill="#a3cdee"/><circle cx="202.8" cy="485.4" r="0.6" fill="#a3cdee"/><circle cx="202.6" cy="481.2" r="0.6" fill="#a3cdee"/><circle cx="203.1" cy="479.9" r="0.6" fill="#a3cdee"/><circle cx="202.7" cy="489.5" r="0.6" fill="#a3cdee"/><circle cx="204.8" cy="486.0" r="0.6" fill="#a3cdee"/><circle cx="199.7" cy="488.5" r="0.6" fill="#a3cdee"/><circle cx="201.6" cy="495.3" r="0.6" fill="#a3cdee"/><circle cx="205.9" cy="486.8" r="0.6" fill="#a3cdee"/><circle cx="201.3" cy="483.2" r="0.6" fill="#a3cdee"/><circle cx="199.7" cy="485.4" r="0.6" fill="#a3cdee"/><circle cx="204.1" cy="490.8" r="0.6" fill="#a3cdee"/><circle cx="204.4" cy="496.2" r="0.6" fill="#a3cdee"/><circle cx="200.3" cy="487.6" r="0.6" fill="#a3cdee"/><circle cx="207.7" cy="482.2" r="0.6" fill="#a3cdee"/><circle cx="201.0" cy="488.6" r="0.6" fill="#a3cdee"/><circle cx="203.6" cy="490.2" r="0.6" fill="#a3cdee"/><circle cx="202.1" cy="489.9" r="0.6" fill="#a3cdee"/><circle cx="203.2" cy="492.3" r="0.6" fill="#a3cdee"/><circle cx="198.1" cy="483.7" r="0.6" fill="#a3cdee"/><circle cx="203.0" cy="481.4" r="0.6" fill="#a3cdee"/><circle cx="199.5" cy="491.0" r="0.6" fill="#a3cdee"/><circle cx="200.6" cy="491.4" r="0.6" fill="#a3cdee"/><circle cx="205.8" cy="489.4" r="0.6" fill="#a3cdee"/><circle cx="205.0" cy="486.8" r="0.6" fill="#a3cdee"/><circle cx="198.5" cy="487.3" r="0.6" fill="#a3cdee"/><circle cx="219.6" cy="478.6" r="0.6" fill="#4d7cc2"/><circle cx="216.4" cy="494.4" r="0.6" fill="#4d7cc2"/><circle cx="212.4" cy="492.6" r="0.6" fill="#4d7cc2"/><circle cx="224.5" cy="480.3" r="0.6" fill="#4d7cc2"/><circle cx="217.9" cy="483.2" r="0.6" fill="#4d7cc2"/><circle cx="224.0" cy="488.4" r="0.6" fill="#4d7cc2"/><circle cx="221.6" cy="477.4" r="0.6" fill="#4d7cc2"/><circle cx="216.9" cy="485.1" r="0.6" fill="#4d7cc2"/><circle cx="210.6" cy="496.5" r="0.6" fill="#4d7cc2"/><circle cx="220.6" cy="469.8" r="0.6" fill="#4d7cc2"/><circle cx="221.2" cy="483.6" r="0.6" fill="#4d7cc2"/><circle cx="219.6" cy="489.8" r="0.6" fill="#4d7cc2"/><circle cx="210.0" cy="483.0" r="0.6" fill="#4d7cc2"/><circle cx="223.7" cy="479.5" r="0.6" fill="#4d7cc2"/><circle cx="212.5" cy="472.1" r="0.6" fill="#4d7cc2"/><circle cx="210.9" cy="488.9" r="0.6" fill="#4d7cc2"/><circle cx="224.3" cy="489.3" r="0.6" fill="#4d7cc2"/><circle cx="217.9" cy="503.0" r="0.6" fill="#4d7cc2"/><circle cx="214.1" cy="477.0" r="0.6" fill="#4d7cc2"/><circle cx="220.0" cy="492.0" r="0.6" fill="#4d7cc2"/><circle cx="212.3" cy="473.4" r="0.6" fill="#4d7cc2"/><circle cx="218.7" cy="488.4" r="0.6" fill="#4d7cc2"/><circle cx="210.6" cy="483.0" r="0.6" fill="#4d7cc2"/><circle cx="213.9" cy="490.9" r="0.6" fill="#4d7cc2"/><circle cx="216.3" cy="484.1" r="0.6" fill="#4d7cc2"/><circle cx="215.2" cy="497.2" r="0.6" fill="#4d7cc2"/><circle cx="223.6" cy="481.4" r="0.6" fill="#4d7cc2"/><circle cx="221.4" cy="476.6" r="0.6" fill="#4d7cc2"/><circle cx="217.4" cy="494.5" r="0.6" fill="#4d7cc2"/><circle cx="223.9" cy="481.4" r="0.6" fill="#4d7cc2"/><circle cx="216.6" cy="487.8" r="0.6" fill="#4d7cc2"/><circle cx="210.0" cy="485.4" r="0.6" fill="#4d7cc2"/><circle cx="213.2" cy="489.8" r="0.6" fill="#4d7cc2"/><circle cx="212.9" cy="469.6" r="0.6" fill="#4d7cc2"/><circle cx="217.2" cy="488.6" r="0.6" fill="#4d7cc2"/><circle cx="214.1" cy="495.5" r="0.6" fill="#4d7cc2"/><circle cx="215.4" cy="477.6" r="0.6" fill="#4d7cc2"/><circle cx="219.1" cy="469.8" r="0.6" fill="#4d7cc2"/><circle cx="213.2" cy="484.9" r="0.6" fill="#4d7cc2"/><circle cx="221.7" cy="483.2" r="0.6" fill="#4d7cc2"/><circle cx="218.7" cy="477.1" r="0.6" fill="#4d7cc2"/><circle cx="218.3" cy="501.2" r="0.6" fill="#4d7cc2"/><circle cx="214.7" cy="502.7" r="0.6" fill="#4d7cc2"/><circle cx="213.3" cy="485.4" r="0.6" fill="#4d7cc2"/><circle cx="217.9" cy="497.1" r="0.6" fill="#4d7cc2"/><circle cx="212.8" cy="469.5" r="0.6" fill="#4d7cc2"/><circle cx="220.2" cy="494.5" r="0.6" fill="#4d7cc2"/><circle cx="218.9" cy="503.2" r="0.6" fill="#4d7cc2"/><circle cx="218.2" cy="488.5" r="0.6" fill="#4d7cc2"/><circle cx="222.0" cy="489.5" r="0.6" fill="#4d7cc2"/><circle cx="223.4" cy="474.7" r="0.6" fill="#4d7cc2"/><circle cx="216.1" cy="466.6" r="0.6" fill="#4d7cc2"/><circle cx="221.4" cy="480.7" r="0.6" fill="#4d7cc2"/><circle cx="220.2" cy="501.8" r="0.6" fill="#4d7cc2"/><circle cx="217.0" cy="481.9" r="0.6" fill="#4d7cc2"/><circle cx="214.3" cy="475.3" r="0.6" fill="#4d7cc2"/><circle cx="213.6" cy="492.9" r="0.6" fill="#4d7cc2"/><circle cx="217.2" cy="486.1" r="0.6" fill="#4d7cc2"/><circle cx="216.1" cy="496.1" r="0.6" fill="#4d7cc2"/><circle cx="219.9" cy="483.4" r="0.6" fill="#4d7cc2"/><circle cx="220.8" cy="483.3" r="0.6" fill="#4d7cc2"/><circle cx="212.2" cy="498.5" r="0.6" fill="#4d7cc2"/><circle cx="219.4" cy="474.1" r="0.6" fill="#4d7cc2"/><circle cx="222.6" cy="489.1" r="0.6" fill="#4d7cc2"/><circle cx="211.3" cy="498.1" r="0.6" fill="#4d7cc2"/><circle cx="218.8" cy="495.8" r="0.6" fill="#4d7cc2"/><circle cx="218.2" cy="483.2" r="0.6" fill="#4d7cc2"/><circle cx="210.5" cy="494.2" r="0.6" fill="#4d7cc2"/><circle cx="217.2" cy="481.5" r="0.6" fill="#4d7cc2"/><circle cx="219.1" cy="486.2" r="0.6" fill="#4d7cc2"/><circle cx="220.8" cy="480.6" r="0.6" fill="#4d7cc2"/><circle cx="216.9" cy="467.5" r="0.6" fill="#4d7cc2"/><circle cx="214.6" cy="493.5" r="0.6" fill="#4d7cc2"/><circle cx="223.4" cy="481.3" r="0.6" fill="#4d7cc2"/><circle cx="216.5" cy="501.0" r="0.6" fill="#4d7cc2"/><circle cx="215.2" cy="494.2" r="0.6" fill="#4d7cc2"/><circle cx="224.4" cy="485.6" r="0.6" fill="#4d7cc2"/><circle cx="222.9" cy="477.7" r="0.6" fill="#4d7cc2"/><circle cx="218.2" cy="484.2" r="0.6" fill="#4d7cc2"/><circle cx="217.6" cy="498.0" r="0.6" fill="#4d7cc2"/><circle cx="225.0" cy="480.3" r="0.6" fill="#4d7cc2"/><circle cx="213.8" cy="491.3" r="0.6" fill="#4d7cc2"/><circle cx="211.6" cy="490.8" r="0.6" fill="#4d7cc2"/><circle cx="220.3" cy="481.7" r="0.6" fill="#4d7cc2"/><circle cx="219.4" cy="470.0" r="0.6" fill="#4d7cc2"/><circle cx="220.3" cy="470.4" r="0.6" fill="#4d7cc2"/><circle cx="213.2" cy="478.5" r="0.6" fill="#4d7cc2"/><circle cx="214.8" cy="495.4" r="0.6" fill="#4d7cc2"/><circle cx="217.5" cy="480.1" r="0.6" fill="#4d7cc2"/><circle cx="219.4" cy="500.5" r="0.6" fill="#4d7cc2"/><circle cx="217.0" cy="490.0" r="0.6" fill="#4d7cc2"/><circle cx="223.2" cy="488.1" r="0.6" fill="#4d7cc2"/><circle cx="213.1" cy="501.7" r="0.6" fill="#4d7cc2"/><circle cx="223.3" cy="472.8" r="0.6" fill="#4d7cc2"/><circle cx="216.8" cy="490.6" r="0.6" fill="#4d7cc2"/><circle cx="221.9" cy="492.7" r="0.6" fill="#4d7cc2"/><circle cx="215.6" cy="473.1" r="0.6" fill="#4d7cc2"/><circle cx="217.5" cy="497.2" r="0.6" fill="#4d7cc2"/><circle cx="211.9" cy="474.7" r="0.6" fill="#4d7cc2"/><circle cx="216.9" cy="468.0" r="0.6" fill="#4d7cc2"/><circle cx="215.5" cy="479.6" r="0.6" fill="#4d7cc2"/><circle cx="219.5" cy="476.7" r="0.6" fill="#4d7cc2"/><circle cx="212.3" cy="480.5" r="0.6" fill="#4d7cc2"/><circle cx="216.7" cy="476.9" r="0.6" fill="#4d7cc2"/><circle cx="217.1" cy="494.5" r="0.6" fill="#4d7cc2"/><circle cx="221.6" cy="499.6" r="0.6" fill="#4d7cc2"/><circle cx="212.7" cy="480.2" r="0.6" fill="#4d7cc2"/><circle cx="210.3" cy="496.5" r="0.6" fill="#4d7cc2"/><circle cx="212.9" cy="484.8" r="0.6" fill="#4d7cc2"/><circle cx="219.5" cy="471.1" r="0.6" fill="#4d7cc2"/><circle cx="219.7" cy="484.9" r="0.6" fill="#4d7cc2"/><circle cx="209.4" cy="487.9" r="0.6" fill="#4d7cc2"/><circle cx="221.4" cy="470.1" r="0.6" fill="#4d7cc2"/><circle cx="221.5" cy="487.7" r="0.6" fill="#4d7cc2"/><circle cx="219.7" cy="490.7" r="0.6" fill="#4d7cc2"/><circle cx="223.4" cy="482.8" r="0.6" fill="#4d7cc2"/><circle cx="221.7" cy="480.4" r="0.6" fill="#4d7cc2"/><circle cx="220.8" cy="475.9" r="0.6" fill="#4d7cc2"/><circle cx="216.5" cy="501.7" r="0.6" fill="#4d7cc2"/><circle cx="219.6" cy="483.2" r="0.6" fill="#4d7cc2"/><circle cx="211.5" cy="476.8" r="0.6" fill="#4d7cc2"/><circle cx="218.0" cy="496.3" r="0.6" fill="#4d7cc2"/><circle cx="219.4" cy="491.8" r="0.6" fill="#4d7cc2"/><circle cx="216.8" cy="499.7" r="0.6" fill="#4d7cc2"/><circle cx="214.8" cy="478.3" r="0.6" fill="#4d7cc2"/><circle cx="221.9" cy="486.0" r="0.6" fill="#4d7cc2"/><circle cx="215.4" cy="478.0" r="0.6" fill="#4d7cc2"/><circle cx="215.5" cy="493.0" r="0.6" fill="#4d7cc2"/><circle cx="218.8" cy="471.9" r="0.6" fill="#4d7cc2"/><circle cx="219.5" cy="487.5" r="0.6" fill="#4d7cc2"/><circle cx="212.0" cy="493.7" r="0.6" fill="#4d7cc2"/><circle cx="215.4" cy="480.9" r="0.6" fill="#4d7cc2"/><circle cx="220.7" cy="498.6" r="0.6" fill="#4d7cc2"/><circle cx="213.2" cy="490.5" r="0.6" fill="#4d7cc2"/><circle cx="214.1" cy="502.3" r="0.6" fill="#4d7cc2"/><circle cx="214.6" cy="498.2" r="0.6" fill="#4d7cc2"/><circle cx="213.6" cy="494.6" r="0.6" fill="#4d7cc2"/><circle cx="222.6" cy="471.1" r="0.6" fill="#4d7cc2"/><circle cx="214.5" cy="491.5" r="0.6" fill="#4d7cc2"/><circle cx="216.5" cy="476.8" r="0.6" fill="#4d7cc2"/><circle cx="225.1" cy="485.9" r="0.6" fill="#4d7cc2"/><circle cx="210.2" cy="493.0" r="0.6" fill="#4d7cc2"/><circle cx="210.4" cy="495.0" r="0.6" fill="#4d7cc2"/><circle cx="213.7" cy="487.0" r="0.6" fill="#4d7cc2"/><circle cx="223.3" cy="486.5" r="0.6" fill="#4d7cc2"/><circle cx="211.9" cy="471.4" r="0.6" fill="#4d7cc2"/><circle cx="222.7" cy="493.0" r="0.6" fill="#4d7cc2"/><circle cx="212.8" cy="494.8" r="0.6" fill="#4d7cc2"/><circle cx="219.8" cy="493.1" r="0.6" fill="#4d7cc2"/><circle cx="208.9" cy="482.8" r="0.6" fill="#4d7cc2"/><circle cx="221.6" cy="493.5" r="0.6" fill="#4d7cc2"/><circle cx="219.8" cy="467.9" r="0.6" fill="#4d7cc2"/><circle cx="218.0" cy="491.5" r="0.6" fill="#4d7cc2"/><circle cx="224.9" cy="478.7" r="0.6" fill="#4d7cc2"/><circle cx="215.0" cy="485.7" r="0.6" fill="#4d7cc2"/><circle cx="221.7" cy="480.0" r="0.6" fill="#4d7cc2"/><circle cx="222.5" cy="476.9" r="0.6" fill="#4d7cc2"/><circle cx="218.5" cy="478.5" r="0.6" fill="#4d7cc2"/><circle cx="217.9" cy="476.6" r="0.6" fill="#4d7cc2"/><circle cx="210.5" cy="494.9" r="0.6" fill="#4d7cc2"/><circle cx="218.7" cy="478.2" r="0.6" fill="#4d7cc2"/><circle cx="218.1" cy="496.8" r="0.6" fill="#4d7cc2"/><circle cx="211.8" cy="483.9" r="0.6" fill="#4d7cc2"/><circle cx="220.0" cy="491.7" r="0.6" fill="#4d7cc2"/><circle cx="215.7" cy="467.7" r="0.6" fill="#4d7cc2"/><circle cx="223.2" cy="488.8" r="0.6" fill="#4d7cc2"/><circle cx="217.1" cy="481.6" r="0.6" fill="#4d7cc2"/><circle cx="218.5" cy="479.7" r="0.6" fill="#4d7cc2"/><circle cx="211.9" cy="477.1" r="0.6" fill="#4d7cc2"/><circle cx="213.7" cy="477.8" r="0.6" fill="#4d7cc2"/><circle cx="211.3" cy="492.1" r="0.6" fill="#4d7cc2"/><circle cx="210.8" cy="492.0" r="0.6" fill="#4d7cc2"/><circle cx="211.7" cy="489.3" r="0.6" fill="#4d7cc2"/><circle cx="223.6" cy="487.4" r="0.6" fill="#4d7cc2"/><circle cx="212.9" cy="485.8" r="0.6" fill="#4d7cc2"/><circle cx="217.6" cy="468.7" r="0.6" fill="#4d7cc2"/><circle cx="213.5" cy="487.3" r="0.6" fill="#4d7cc2"/><circle cx="214.3" cy="486.2" r="0.6" fill="#4d7cc2"/><circle cx="220.9" cy="494.1" r="0.6" fill="#4d7cc2"/><circle cx="221.7" cy="492.0" r="0.6" fill="#4d7cc2"/><circle cx="215.3" cy="485.0" r="0.6" fill="#4d7cc2"/><circle cx="215.4" cy="481.1" r="0.6" fill="#4d7cc2"/><circle cx="216.2" cy="468.8" r="0.6" fill="#4d7cc2"/><circle cx="215.0" cy="484.9" r="0.6" fill="#4d7cc2"/><circle cx="211.8" cy="484.9" r="0.6" fill="#4d7cc2"/><circle cx="220.0" cy="483.1" r="0.6" fill="#4d7cc2"/><circle cx="222.3" cy="470.6" r="0.6" fill="#4d7cc2"/><circle cx="216.1" cy="468.4" r="0.6" fill="#4d7cc2"/><circle cx="219.9" cy="502.6" r="0.6" fill="#4d7cc2"/><circle cx="208.7" cy="486.1" r="0.6" fill="#4d7cc2"/><circle cx="220.0" cy="481.4" r="0.6" fill="#4d7cc2"/><circle cx="219.0" cy="467.7" r="0.6" fill="#4d7cc2"/><circle cx="221.6" cy="489.6" r="0.6" fill="#4d7cc2"/><circle cx="217.1" cy="477.8" r="0.6" fill="#4d7cc2"/><circle cx="220.5" cy="479.3" r="0.6" fill="#4d7cc2"/><circle cx="218.3" cy="478.7" r="0.6" fill="#4d7cc2"/><circle cx="208.8" cy="485.0" r="0.6" fill="#4d7cc2"/><circle cx="218.1" cy="494.5" r="0.6" fill="#4d7cc2"/><circle cx="212.2" cy="484.8" r="0.6" fill="#4d7cc2"/><circle cx="220.5" cy="487.0" r="0.6" fill="#4d7cc2"/><circle cx="221.4" cy="500.6" r="0.6" fill="#4d7cc2"/><circle cx="213.6" cy="469.2" r="0.6" fill="#4d7cc2"/><circle cx="220.7" cy="499.7" r="0.6" fill="#4d7cc2"/><circle cx="221.6" cy="494.2" r="0.6" fill="#4d7cc2"/><circle cx="213.7" cy="476.7" r="0.6" fill="#4d7cc2"/><circle cx="221.4" cy="475.2" r="0.6" fill="#4d7cc2"/><circle cx="210.0" cy="476.7" r="0.6" fill="#4d7cc2"/><circle cx="223.7" cy="496.6" r="0.6" fill="#4d7cc2"/><circle cx="213.3" cy="476.7" r="0.6" fill="#4d7cc2"/><circle cx="218.3" cy="476.0" r="0.6" fill="#4d7cc2"/><circle cx="223.4" cy="484.4" r="0.6" fill="#4d7cc2"/><circle cx="212.3" cy="497.8" r="0.6" fill="#4d7cc2"/><circle cx="213.7" cy="488.0" r="0.6" fill="#4d7cc2"/><circle cx="216.9" cy="481.1" r="0.6" fill="#4d7cc2"/><circle cx="218.8" cy="476.7" r="0.6" fill="#4d7cc2"/><circle cx="211.6" cy="471.0" r="0.6" fill="#4d7cc2"/><circle cx="211.1" cy="477.4" r="0.6" fill="#4d7cc2"/><circle cx="216.9" cy="485.9" r="0.6" fill="#4d7cc2"/><circle cx="220.2" cy="486.7" r="0.6" fill="#4d7cc2"/><circle cx="212.8" cy="477.0" r="0.6" fill="#4d7cc2"/><circle cx="209.0" cy="483.8" r="0.6" fill="#4d7cc2"/><circle cx="219.7" cy="491.8" r="0.6" fill="#4d7cc2"/><circle cx="216.3" cy="482.9" r="0.6" fill="#4d7cc2"/><circle cx="222.1" cy="485.4" r="0.6" fill="#4d7cc2"/><circle cx="221.0" cy="492.1" r="0.6" fill="#4d7cc2"/><circle cx="218.0" cy="499.3" r="0.6" fill="#4d7cc2"/><circle cx="213.7" cy="480.7" r="0.6" fill="#4d7cc2"/><circle cx="212.8" cy="476.1" r="0.6" fill="#4d7cc2"/><circle cx="222.4" cy="498.8" r="0.6" fill="#4d7cc2"/><circle cx="217.1" cy="492.4" r="0.6" fill="#4d7cc2"/><circle cx="222.6" cy="493.7" r="0.6" fill="#4d7cc2"/><circle cx="222.2" cy="473.2" r="0.6" fill="#4d7cc2"/><circle cx="213.4" cy="490.8" r="0.6" fill="#4d7cc2"/><circle cx="223.8" cy="486.3" r="0.6" fill="#4d7cc2"/><circle cx="212.3" cy="481.0" r="0.6" fill="#4d7cc2"/><circle cx="213.5" cy="475.3" r="0.6" fill="#4d7cc2"/><circle cx="223.7" cy="479.0" r="0.6" fill="#4d7cc2"/><circle cx="217.1" cy="503.0" r="0.6" fill="#4d7cc2"/><circle cx="223.0" cy="488.9" r="0.6" fill="#4d7cc2"/><circle cx="213.6" cy="490.3" r="0.6" fill="#4d7cc2"/><circle cx="224.0" cy="491.1" r="0.6" fill="#4d7cc2"/><circle cx="223.3" cy="486.3" r="0.6" fill="#4d7cc2"/><circle cx="220.0" cy="482.6" r="0.6" fill="#4d7cc2"/><circle cx="219.1" cy="499.1" r="0.6" fill="#4d7cc2"/><circle cx="210.2" cy="484.5" r="0.6" fill="#4d7cc2"/><circle cx="218.4" cy="478.0" r="0.6" fill="#4d7cc2"/><circle cx="215.3" cy="494.7" r="0.6" fill="#4d7cc2"/><circle cx="224.6" cy="490.5" r="0.6" fill="#4d7cc2"/><circle cx="218.5" cy="469.7" r="0.6" fill="#4d7cc2"/><circle cx="224.8" cy="485.9" r="0.6" fill="#4d7cc2"/><circle cx="216.8" cy="472.5" r="0.6" fill="#4d7cc2"/><circle cx="216.7" cy="472.6" r="0.6" fill="#4d7cc2"/><circle cx="217.4" cy="491.2" r="0.6" fill="#4d7cc2"/><circle cx="217.2" cy="488.9" r="0.6" fill="#4d7cc2"/><circle cx="213.2" cy="499.1" r="0.6" fill="#4d7cc2"/><circle cx="214.4" cy="469.0" r="0.6" fill="#4d7cc2"/><circle cx="216.0" cy="475.8" r="0.6" fill="#4d7cc2"/><circle cx="211.7" cy="481.1" r="0.6" fill="#4d7cc2"/><circle cx="218.5" cy="472.1" r="0.6" fill="#4d7cc2"/><circle cx="216.3" cy="500.1" r="0.6" fill="#4d7cc2"/><circle cx="234.3" cy="482.7" r="0.6" fill="#e0706a"/><circle cx="232.7" cy="482.8" r="0.6" fill="#e0706a"/><circle cx="232.2" cy="487.4" r="0.6" fill="#e0706a"/><circle cx="232.1" cy="475.7" r="0.6" fill="#e0706a"/><circle cx="232.2" cy="478.9" r="0.6" fill="#e0706a"/><circle cx="234.2" cy="480.4" r="0.6" fill="#e0706a"/><circle cx="232.6" cy="491.1" r="0.6" fill="#e0706a"/><circle cx="229.7" cy="478.6" r="0.6" fill="#e0706a"/><circle cx="230.0" cy="476.7" r="0.6" fill="#e0706a"/><circle cx="228.3" cy="484.9" r="0.6" fill="#e0706a"/><circle cx="231.0" cy="476.5" r="0.6" fill="#e0706a"/><circle cx="228.8" cy="486.1" r="0.6" fill="#e0706a"/><circle cx="230.0" cy="481.6" r="0.6" fill="#e0706a"/><circle cx="233.1" cy="489.6" r="0.6" fill="#e0706a"/><circle cx="236.1" cy="487.1" r="0.6" fill="#e0706a"/><circle cx="232.8" cy="484.5" r="0.6" fill="#e0706a"/><circle cx="235.7" cy="488.3" r="0.6" fill="#e0706a"/><circle cx="231.3" cy="486.0" r="0.6" fill="#e0706a"/><circle cx="233.2" cy="483.8" r="0.6" fill="#e0706a"/><circle cx="231.0" cy="477.5" r="0.6" fill="#e0706a"/><circle cx="231.0" cy="477.0" r="0.6" fill="#e0706a"/><circle cx="235.5" cy="486.0" r="0.6" fill="#e0706a"/><circle cx="229.6" cy="489.0" r="0.6" fill="#e0706a"/><circle cx="234.1" cy="476.7" r="0.6" fill="#e0706a"/><circle cx="236.1" cy="486.5" r="0.6" fill="#e0706a"/><circle cx="236.1" cy="479.5" r="0.6" fill="#e0706a"/><circle cx="233.9" cy="485.8" r="0.6" fill="#e0706a"/><circle cx="232.9" cy="484.5" r="0.6" fill="#e0706a"/><circle cx="234.6" cy="477.6" r="0.6" fill="#e0706a"/><circle cx="229.6" cy="478.1" r="0.6" fill="#e0706a"/><circle cx="230.7" cy="480.3" r="0.6" fill="#e0706a"/><circle cx="233.4" cy="485.0" r="0.6" fill="#e0706a"/><circle cx="232.4" cy="479.9" r="0.6" fill="#e0706a"/><circle cx="231.1" cy="488.2" r="0.6" fill="#e0706a"/><circle cx="234.6" cy="484.0" r="0.6" fill="#e0706a"/><circle cx="231.5" cy="490.1" r="0.6" fill="#e0706a"/><circle cx="230.6" cy="486.8" r="0.6" fill="#e0706a"/><circle cx="235.4" cy="482.2" r="0.6" fill="#e0706a"/><circle cx="234.4" cy="478.4" r="0.6" fill="#e0706a"/><circle cx="235.1" cy="484.5" r="0.6" fill="#e0706a"/><circle cx="228.7" cy="486.2" r="0.6" fill="#e0706a"/><circle cx="230.1" cy="489.0" r="0.6" fill="#e0706a"/><circle cx="230.3" cy="482.6" r="0.6" fill="#e0706a"/><circle cx="233.2" cy="481.7" r="0.6" fill="#e0706a"/><circle cx="233.1" cy="480.5" r="0.6" fill="#e0706a"/><circle cx="234.3" cy="483.5" r="0.6" fill="#e0706a"/><circle cx="232.6" cy="475.6" r="0.6" fill="#e0706a"/><circle cx="235.5" cy="483.7" r="0.6" fill="#e0706a"/><circle cx="228.3" cy="483.9" r="0.6" fill="#e0706a"/><circle cx="233.6" cy="488.7" r="0.6" fill="#e0706a"/><circle cx="229.9" cy="489.5" r="0.6" fill="#e0706a"/><circle cx="232.0" cy="491.3" r="0.6" fill="#e0706a"/><circle cx="231.9" cy="487.1" r="0.6" fill="#e0706a"/><circle cx="231.3" cy="478.1" r="0.6" fill="#e0706a"/><circle cx="235.1" cy="487.6" r="0.6" fill="#e0706a"/><circle cx="235.8" cy="487.0" r="0.6" fill="#e0706a"/><circle cx="231.0" cy="476.8" r="0.6" fill="#e0706a"/><circle cx="230.4" cy="480.1" r="0.6" fill="#e0706a"/><circle cx="230.0" cy="486.4" r="0.6" fill="#e0706a"/><circle cx="233.3" cy="482.0" r="0.6" fill="#e0706a"/><circle cx="230.9" cy="501.7" r="0.6" fill="#9d6f5c"/><circle cx="231.0" cy="505.9" r="0.6" fill="#9d6f5c"/><circle cx="235.2" cy="499.5" r="0.6" fill="#9d6f5c"/><circle cx="223.2" cy="506.9" r="0.6" fill="#9d6f5c"/><circle cx="230.4" cy="507.1" r="0.6" fill="#9d6f5c"/><circle cx="221.6" cy="501.2" r="0.6" fill="#9d6f5c"/><circle cx="229.8" cy="496.8" r="0.6" fill="#9d6f5c"/><circle cx="226.6" cy="505.7" r="0.6" fill="#9d6f5c"/><circle cx="234.6" cy="507.7" r="0.6" fill="#9d6f5c"/><circle cx="225.4" cy="497.3" r="0.6" fill="#9d6f5c"/><circle cx="232.7" cy="506.5" r="0.6" fill="#9d6f5c"/><circle cx="230.8" cy="497.1" r="0.6" fill="#9d6f5c"/><circle cx="234.2" cy="505.8" r="0.6" fill="#9d6f5c"/><circle cx="233.2" cy="500.1" r="0.6" fill="#9d6f5c"/><circle cx="231.6" cy="506.0" r="0.6" fill="#9d6f5c"/><circle cx="227.2" cy="496.2" r="0.6" fill="#9d6f5c"/><circle cx="231.8" cy="504.7" r="0.6" fill="#9d6f5c"/><circle cx="229.8" cy="506.4" r="0.6" fill="#9d6f5c"/><circle cx="225.9" cy="502.0" r="0.6" fill="#9d6f5c"/><circle cx="227.8" cy="505.1" r="0.6" fill="#9d6f5c"/><circle cx="237.7" cy="501.5" r="0.6" fill="#9d6f5c"/><circle cx="237.2" cy="506.5" r="0.6" fill="#9d6f5c"/><circle cx="234.4" cy="505.0" r="0.6" fill="#9d6f5c"/><circle cx="238.1" cy="501.8" r="0.6" fill="#9d6f5c"/><circle cx="229.0" cy="497.8" r="0.6" fill="#9d6f5c"/><circle cx="232.2" cy="507.7" r="0.6" fill="#9d6f5c"/><circle cx="233.1" cy="504.4" r="0.6" fill="#9d6f5c"/><circle cx="228.4" cy="503.2" r="0.6" fill="#9d6f5c"/><circle cx="222.9" cy="506.1" r="0.6" fill="#9d6f5c"/><circle cx="227.4" cy="497.8" r="0.6" fill="#9d6f5c"/><circle cx="225.3" cy="498.9" r="0.6" fill="#9d6f5c"/><circle cx="234.3" cy="506.6" r="0.6" fill="#9d6f5c"/><circle cx="222.9" cy="505.8" r="0.6" fill="#9d6f5c"/><circle cx="234.9" cy="499.9" r="0.6" fill="#9d6f5c"/><circle cx="222.4" cy="499.7" r="0.6" fill="#9d6f5c"/><circle cx="225.7" cy="504.0" r="0.6" fill="#9d6f5c"/><circle cx="228.2" cy="495.9" r="0.6" fill="#9d6f5c"/><circle cx="230.9" cy="496.6" r="0.6" fill="#9d6f5c"/><circle cx="234.4" cy="497.8" r="0.6" fill="#9d6f5c"/><circle cx="225.7" cy="498.7" r="0.6" fill="#9d6f5c"/><circle cx="226.8" cy="507.5" r="0.6" fill="#9d6f5c"/><circle cx="234.7" cy="505.0" r="0.6" fill="#9d6f5c"/><circle cx="231.3" cy="496.6" r="0.6" fill="#9d6f5c"/><circle cx="226.4" cy="499.9" r="0.6" fill="#9d6f5c"/><circle cx="224.0" cy="504.6" r="0.6" fill="#9d6f5c"/><circle cx="225.3" cy="499.3" r="0.6" fill="#9d6f5c"/><circle cx="225.6" cy="496.4" r="0.6" fill="#9d6f5c"/><circle cx="232.8" cy="507.6" r="0.6" fill="#9d6f5c"/><circle cx="230.7" cy="498.1" r="0.6" fill="#9d6f5c"/><circle cx="220.3" cy="502.8" r="0.6" fill="#9d6f5c"/><circle cx="236.5" cy="503.6" r="0.6" fill="#9d6f5c"/><circle cx="234.2" cy="507.6" r="0.6" fill="#9d6f5c"/><circle cx="236.1" cy="500.6" r="0.6" fill="#9d6f5c"/><circle cx="235.5" cy="505.5" r="0.6" fill="#9d6f5c"/><circle cx="221.9" cy="500.9" r="0.6" fill="#9d6f5c"/><circle cx="222.1" cy="502.0" r="0.6" fill="#9d6f5c"/><circle cx="233.0" cy="498.0" r="0.6" fill="#9d6f5c"/><circle cx="221.9" cy="506.0" r="0.6" fill="#9d6f5c"/><circle cx="231.7" cy="508.0" r="0.6" fill="#9d6f5c"/><circle cx="223.2" cy="506.2" r="0.6" fill="#9d6f5c"/><circle cx="236.5" cy="507.2" r="0.6" fill="#9d6f5c"/><circle cx="228.3" cy="503.7" r="0.6" fill="#9d6f5c"/><circle cx="228.8" cy="506.8" r="0.6" fill="#9d6f5c"/><circle cx="235.8" cy="502.8" r="0.6" fill="#9d6f5c"/><circle cx="222.7" cy="505.2" r="0.6" fill="#9d6f5c"/><circle cx="226.8" cy="505.3" r="0.6" fill="#9d6f5c"/><circle cx="231.0" cy="508.3" r="0.6" fill="#9d6f5c"/><circle cx="236.1" cy="500.5" r="0.6" fill="#9d6f5c"/><circle cx="231.4" cy="508.5" r="0.6" fill="#9d6f5c"/><circle cx="226.3" cy="504.4" r="0.6" fill="#9d6f5c"/><circle cx="235.5" cy="506.9" r="0.6" fill="#9d6f5c"/><circle cx="232.5" cy="497.2" r="0.6" fill="#9d6f5c"/><circle cx="222.7" cy="503.4" r="0.6" fill="#9d6f5c"/><circle cx="231.1" cy="509.2" r="0.6" fill="#9d6f5c"/><circle cx="225.1" cy="506.9" r="0.6" fill="#9d6f5c"/><circle cx="233.3" cy="496.7" r="0.6" fill="#9d6f5c"/><circle cx="224.6" cy="503.2" r="0.6" fill="#9d6f5c"/><circle cx="226.5" cy="501.7" r="0.6" fill="#9d6f5c"/><circle cx="232.5" cy="498.8" r="0.6" fill="#9d6f5c"/><circle cx="232.6" cy="499.5" r="0.6" fill="#9d6f5c"/><circle cx="226.3" cy="504.9" r="0.6" fill="#9d6f5c"/><circle cx="226.0" cy="503.8" r="0.6" fill="#9d6f5c"/><circle cx="237.8" cy="502.5" r="0.6" fill="#9d6f5c"/><circle cx="228.8" cy="505.8" r="0.6" fill="#9d6f5c"/><circle cx="227.6" cy="507.0" r="0.6" fill="#9d6f5c"/><circle cx="222.9" cy="504.8" r="0.6" fill="#9d6f5c"/><circle cx="226.6" cy="498.9" r="0.6" fill="#9d6f5c"/><circle cx="237.6" cy="499.6" r="0.6" fill="#9d6f5c"/><circle cx="237.8" cy="504.6" r="0.6" fill="#9d6f5c"/><circle cx="236.7" cy="498.9" r="0.6" fill="#9d6f5c"/><circle cx="212.5" cy="516.2" r="0.6" fill="#ebc944"/><circle cx="209.0" cy="511.2" r="0.6" fill="#ebc944"/><circle cx="214.6" cy="512.2" r="0.6" fill="#ebc944"/><circle cx="207.9" cy="509.2" r="0.6" fill="#ebc944"/><circle cx="211.0" cy="513.2" r="0.6" fill="#ebc944"/><circle cx="209.9" cy="517.2" r="0.6" fill="#ebc944"/><circle cx="208.2" cy="513.8" r="0.6" fill="#ebc944"/><circle cx="213.3" cy="508.7" r="0.6" fill="#ebc944"/><circle cx="211.9" cy="516.9" r="0.6" fill="#ebc944"/><circle cx="205.8" cy="508.4" r="0.6" fill="#ebc944"/><circle cx="206.9" cy="506.7" r="0.6" fill="#ebc944"/><circle cx="210.6" cy="506.3" r="0.6" fill="#ebc944"/><circle cx="210.8" cy="516.7" r="0.6" fill="#ebc944"/><circle cx="204.9" cy="510.8" r="0.6" fill="#ebc944"/><circle cx="204.8" cy="514.0" r="0.6" fill="#ebc944"/><circle cx="206.8" cy="510.7" r="0.6" fill="#ebc944"/><circle cx="209.6" cy="514.1" r="0.6" fill="#ebc944"/><circle cx="208.1" cy="511.9" r="0.6" fill="#ebc944"/><circle cx="207.4" cy="512.3" r="0.6" fill="#ebc944"/><circle cx="205.7" cy="512.0" r="0.6" fill="#ebc944"/><circle cx="204.6" cy="510.4" r="0.6" fill="#ebc944"/><circle cx="214.3" cy="512.0" r="0.6" fill="#ebc944"/><circle cx="205.5" cy="512.7" r="0.6" fill="#ebc944"/><circle cx="206.9" cy="506.9" r="0.6" fill="#ebc944"/><circle cx="207.0" cy="514.6" r="0.6" fill="#ebc944"/><circle cx="210.8" cy="511.4" r="0.6" fill="#ebc944"/><circle cx="206.6" cy="508.0" r="0.6" fill="#ebc944"/><circle cx="213.5" cy="512.7" r="0.6" fill="#ebc944"/><circle cx="207.3" cy="506.3" r="0.6" fill="#ebc944"/><circle cx="206.9" cy="517.2" r="0.6" fill="#ebc944"/><circle cx="205.7" cy="511.5" r="0.6" fill="#ebc944"/><circle cx="210.2" cy="511.1" r="0.6" fill="#ebc944"/><circle cx="208.6" cy="507.0" r="0.6" fill="#ebc944"/><circle cx="206.8" cy="516.7" r="0.6" fill="#ebc944"/><circle cx="207.0" cy="515.0" r="0.6" fill="#ebc944"/><circle cx="204.8" cy="510.9" r="0.6" fill="#ebc944"/><circle cx="210.3" cy="515.8" r="0.6" fill="#ebc944"/><circle cx="205.9" cy="514.0" r="0.6" fill="#ebc944"/><circle cx="210.7" cy="508.8" r="0.6" fill="#ebc944"/><circle cx="211.0" cy="508.3" r="0.6" fill="#ebc944"/><circle cx="206.6" cy="511.7" r="0.6" fill="#ebc944"/><circle cx="204.2" cy="511.6" r="0.6" fill="#ebc944"/><circle cx="206.7" cy="507.2" r="0.6" fill="#ebc944"/><circle cx="207.9" cy="514.8" r="0.6" fill="#ebc944"/><circle cx="208.2" cy="516.3" r="0.6" fill="#ebc944"/><circle cx="206.3" cy="507.7" r="0.6" fill="#ebc944"/><circle cx="213.8" cy="513.1" r="0.6" fill="#ebc944"/><circle cx="212.3" cy="508.8" r="0.6" fill="#ebc944"/><circle cx="212.2" cy="512.8" r="0.6" fill="#ebc944"/><circle cx="211.7" cy="511.9" r="0.6" fill="#ebc944"/><circle cx="213.0" cy="509.5" r="0.6" fill="#ebc944"/><circle cx="206.8" cy="507.2" r="0.6" fill="#ebc944"/><circle cx="212.9" cy="509.2" r="0.6" fill="#ebc944"/><circle cx="206.3" cy="508.5" r="0.6" fill="#ebc944"/><circle cx="208.0" cy="507.3" r="0.6" fill="#ebc944"/><circle cx="208.4" cy="509.2" r="0.6" fill="#ebc944"/><circle cx="207.6" cy="508.2" r="0.6" fill="#ebc944"/><circle cx="209.5" cy="509.8" r="0.6" fill="#ebc944"/><circle cx="209.8" cy="512.9" r="0.6" fill="#ebc944"/><circle cx="210.2" cy="505.9" r="0.6" fill="#ebc944"/>
<text x="208.3" y="552.7" font-size="12.5" font-weight="bold" fill="#111" text-anchor="start" textLength="61.7" lengthAdjust="spacingAndGlyphs">Epithelial cell</text>
<line x1="192.70" y1="556.70" x2="284.00" y2="556.70" stroke="#1d3557" stroke-width="1.8" />
<polygon points="291.0,556.7 283.0,552.2 283.0,561.2" fill="#1d3557" />
<g fill="#e05a55"><circle cx="293.9" cy="546.9" r="1.15"/><circle cx="310.8" cy="560.0" r="1.15"/><circle cx="291.0" cy="510.5" r="1.15"/><circle cx="304.7" cy="509.1" r="1.15"/><circle cx="295.3" cy="526.6" r="1.15"/><circle cx="316.9" cy="540.7" r="1.15"/><circle cx="315.8" cy="556.6" r="1.15"/><circle cx="316.5" cy="551.6" r="1.15"/><circle cx="293.8" cy="560.1" r="1.15"/><circle cx="303.0" cy="552.5" r="1.15"/><circle cx="306.0" cy="526.4" r="1.15"/><circle cx="298.1" cy="526.4" r="1.15"/><circle cx="296.1" cy="501.4" r="1.15"/><circle cx="301.2" cy="506.1" r="1.15"/><circle cx="293.7" cy="528.8" r="1.15"/><circle cx="307.7" cy="523.7" r="1.15"/><circle cx="291.3" cy="521.3" r="1.15"/><circle cx="321.5" cy="523.2" r="1.15"/><circle cx="300.1" cy="561.5" r="1.15"/><circle cx="298.5" cy="549.4" r="1.15"/><circle cx="307.6" cy="549.9" r="1.15"/><circle cx="306.7" cy="539.4" r="1.15"/><circle cx="297.2" cy="515.6" r="1.15"/><circle cx="288.1" cy="510.1" r="1.15"/><circle cx="305.7" cy="535.5" r="1.15"/><circle cx="288.4" cy="516.1" r="1.15"/><circle cx="294.3" cy="539.8" r="1.15"/><circle cx="298.2" cy="558.8" r="1.15"/><circle cx="304.2" cy="530.0" r="1.15"/><circle cx="310.2" cy="515.7" r="1.15"/><circle cx="317.4" cy="512.7" r="1.15"/><circle cx="307.0" cy="520.5" r="1.15"/><circle cx="293.3" cy="515.0" r="1.15"/><circle cx="314.4" cy="507.2" r="1.15"/><circle cx="302.7" cy="536.4" r="1.15"/><circle cx="300.9" cy="503.0" r="1.15"/><circle cx="318.0" cy="501.0" r="1.15"/><circle cx="316.4" cy="509.5" r="1.15"/><circle cx="295.7" cy="523.1" r="1.15"/><circle cx="296.4" cy="563.5" r="1.15"/><circle cx="283.8" cy="511.9" r="1.15"/><circle cx="318.1" cy="504.0" r="1.15"/><circle cx="302.7" cy="521.8" r="1.15"/><circle cx="297.3" cy="556.2" r="1.15"/><circle cx="315.9" cy="534.7" r="1.15"/><circle cx="295.5" cy="569.0" r="1.15"/><circle cx="300.5" cy="541.8" r="1.15"/><circle cx="317.6" cy="525.3" r="1.15"/><circle cx="302.9" cy="512.9" r="1.15"/><circle cx="301.9" cy="564.3" r="1.15"/><circle cx="298.5" cy="530.1" r="1.15"/><circle cx="307.0" cy="516.6" r="1.15"/><circle cx="318.8" cy="531.8" r="1.15"/><circle cx="304.3" cy="558.8" r="1.15"/><circle cx="309.4" cy="526.3" r="1.15"/><circle cx="320.4" cy="512.6" r="1.15"/><circle cx="313.8" cy="519.2" r="1.15"/><circle cx="316.7" cy="546.6" r="1.15"/><circle cx="312.3" cy="545.4" r="1.15"/><circle cx="307.1" cy="512.6" r="1.15"/><circle cx="309.1" cy="540.9" r="1.15"/><circle cx="318.5" cy="522.5" r="1.15"/><circle cx="316.0" cy="532.0" r="1.15"/><circle cx="320.7" cy="527.6" r="1.15"/><circle cx="321.5" cy="519.1" r="1.15"/><circle cx="310.8" cy="522.1" r="1.15"/><circle cx="301.4" cy="524.9" r="1.15"/><circle cx="291.9" cy="566.8" r="1.15"/><circle cx="295.3" cy="508.3" r="1.15"/><circle cx="292.1" cy="504.7" r="1.15"/><circle cx="306.1" cy="562.8" r="1.15"/><circle cx="311.5" cy="555.8" r="1.15"/><circle cx="300.4" cy="511.6" r="1.15"/><circle cx="311.6" cy="538.1" r="1.15"/><circle cx="292.9" cy="518.6" r="1.15"/><circle cx="316.2" cy="527.8" r="1.15"/><circle cx="298.0" cy="552.2" r="1.15"/><circle cx="295.0" cy="536.5" r="1.15"/><circle cx="312.3" cy="551.6" r="1.15"/><circle cx="319.0" cy="536.7" r="1.15"/><circle cx="313.0" cy="528.8" r="1.15"/><circle cx="300.4" cy="495.1" r="1.15"/><circle cx="312.4" cy="541.0" r="1.15"/><circle cx="315.3" cy="543.2" r="1.15"/><circle cx="300.3" cy="566.9" r="1.15"/><circle cx="310.1" cy="531.6" r="1.15"/><circle cx="304.6" cy="506.4" r="1.15"/><circle cx="312.2" cy="563.1" r="1.15"/><circle cx="304.4" cy="555.0" r="1.15"/><circle cx="314.0" cy="560.7" r="1.15"/><circle cx="321.4" cy="504.4" r="1.15"/><circle cx="306.8" cy="547.0" r="1.15"/><circle cx="302.4" cy="546.7" r="1.15"/><circle cx="308.0" cy="508.8" r="1.15"/><circle cx="316.7" cy="559.4" r="1.15"/><circle cx="296.9" cy="505.5" r="1.15"/><circle cx="299.5" cy="521.4" r="1.15"/><circle cx="302.7" cy="497.4" r="1.15"/><circle cx="297.8" cy="538.4" r="1.15"/><circle cx="300.1" cy="533.4" r="1.15"/><circle cx="321.2" cy="500.6" r="1.15"/><circle cx="303.1" cy="533.6" r="1.15"/><circle cx="301.4" cy="515.5" r="1.15"/><circle cx="293.8" cy="564.4" r="1.15"/><circle cx="300.5" cy="556.6" r="1.15"/><circle cx="310.3" cy="519.3" r="1.15"/><circle cx="286.7" cy="506.1" r="1.15"/><circle cx="313.2" cy="532.3" r="1.15"/><circle cx="318.9" cy="554.1" r="1.15"/><circle cx="309.5" cy="552.3" r="1.15"/><circle cx="299.1" cy="570.0" r="1.15"/><circle cx="312.3" cy="510.1" r="1.15"/><circle cx="314.5" cy="503.5" r="1.15"/><circle cx="315.8" cy="515.9" r="1.15"/><circle cx="289.3" cy="513.4" r="1.15"/><circle cx="296.1" cy="532.6" r="1.15"/><circle cx="297.5" cy="543.4" r="1.15"/><circle cx="285.8" cy="514.8" r="1.15"/><circle cx="309.2" cy="544.7" r="1.15"/><circle cx="307.5" cy="558.4" r="1.15"/><circle cx="309.6" cy="547.9" r="1.15"/><circle cx="315.0" cy="500.8" r="1.15"/><circle cx="292.4" cy="571.7" r="1.15"/><circle cx="298.4" cy="508.9" r="1.15"/><circle cx="307.3" cy="531.9" r="1.15"/><circle cx="297.4" cy="495.4" r="1.15"/><circle cx="309.6" cy="536.0" r="1.15"/><circle cx="322.2" cy="536.2" r="1.15"/><circle cx="296.1" cy="511.6" r="1.15"/><circle cx="318.2" cy="517.7" r="1.15"/><circle cx="309.6" cy="564.5" r="1.15"/><circle cx="314.5" cy="553.8" r="1.15"/><circle cx="298.6" cy="535.7" r="1.15"/><circle cx="319.5" cy="544.3" r="1.15"/><circle cx="305.5" cy="542.8" r="1.15"/><circle cx="285.1" cy="508.5" r="1.15"/><circle cx="294.4" cy="543.2" r="1.15"/><circle cx="288.5" cy="503.9" r="1.15"/><circle cx="287.7" cy="520.0" r="1.15"/><circle cx="306.9" cy="553.3" r="1.15"/><circle cx="316.3" cy="520.6" r="1.15"/><circle cx="292.2" cy="524.7" r="1.15"/><circle cx="296.8" cy="546.3" r="1.15"/><circle cx="301.6" cy="519.1" r="1.15"/><circle cx="313.3" cy="524.1" r="1.15"/><circle cx="308.4" cy="555.7" r="1.15"/><circle cx="321.7" cy="508.3" r="1.15"/><circle cx="313.6" cy="548.5" r="1.15"/><circle cx="310.1" cy="512.4" r="1.15"/><circle cx="319.7" cy="540.4" r="1.15"/><circle cx="301.6" cy="500.3" r="1.15"/><circle cx="302.0" cy="549.5" r="1.15"/><circle cx="319.3" cy="515.2" r="1.15"/><circle cx="319.9" cy="547.2" r="1.15"/><circle cx="301.7" cy="539.2" r="1.15"/><circle cx="295.1" cy="549.4" r="1.15"/><circle cx="301.1" cy="528.8" r="1.15"/><circle cx="301.1" cy="492.4" r="1.15"/><circle cx="298.5" cy="498.0" r="1.15"/><circle cx="298.5" cy="518.1" r="1.15"/><circle cx="292.7" cy="531.8" r="1.15"/><circle cx="295.8" cy="519.6" r="1.15"/><circle cx="314.6" cy="512.1" r="1.15"/><circle cx="295.7" cy="498.0" r="1.15"/><circle cx="316.1" cy="537.6" r="1.15"/><circle cx="299.5" cy="545.9" r="1.15"/><circle cx="316.9" cy="498.3" r="1.15"/><circle cx="318.1" cy="507.0" r="1.15"/><circle cx="304.7" cy="523.9" r="1.15"/><circle cx="319.4" cy="551.4" r="1.15"/><circle cx="304.8" cy="518.7" r="1.15"/><circle cx="312.4" cy="535.2" r="1.15"/><circle cx="322.2" cy="539.3" r="1.15"/><circle cx="291.7" cy="507.6" r="1.15"/><circle cx="291.2" cy="527.3" r="1.15"/><circle cx="304.2" cy="515.5" r="1.15"/><circle cx="302.5" cy="543.9" r="1.15"/><circle cx="297.5" cy="566.3" r="1.15"/><circle cx="312.8" cy="514.5" r="1.15"/><circle cx="290.1" cy="518.6" r="1.15"/><circle cx="303.1" cy="561.7" r="1.15"/><circle cx="308.3" cy="529.2" r="1.15"/><circle cx="321.5" cy="533.3" r="1.15"/><circle cx="289.1" cy="523.0" r="1.15"/><circle cx="293.2" cy="502.2" r="1.15"/><circle cx="301.8" cy="509.1" r="1.15"/><circle cx="300.3" cy="553.8" r="1.15"/><circle cx="303.3" cy="527.1" r="1.15"/><circle cx="323.3" cy="502.4" r="1.15"/><circle cx="317.7" cy="549.1" r="1.15"/><circle cx="304.9" cy="549.9" r="1.15"/><circle cx="319.2" cy="510.1" r="1.15"/><circle cx="293.3" cy="512.1" r="1.15"/><circle cx="313.3" cy="557.9" r="1.15"/><circle cx="290.6" cy="569.6" r="1.15"/></g>
<text x="280.0" y="595.0" font-size="15" font-weight="bold" fill="#111" text-anchor="start" textLength="45.0" lengthAdjust="spacingAndGlyphs">NE cells</text>
<line x1="326.00" y1="510.00" x2="348.25" y2="503.41" stroke="#333" stroke-width="1.3" />
<polygon points="354.0,501.7 349.0,506.1 347.5,500.7" fill="#333" />
<line x1="326.00" y1="540.00" x2="349.12" y2="544.78" stroke="#333" stroke-width="1.3" />
<polygon points="355.0,546.0 348.6,547.5 349.7,542.0" fill="#333" />
<line x1="326.00" y1="556.70" x2="350.83" y2="582.39" stroke="#333" stroke-width="1.3" />
<polygon points="355.0,586.7 348.8,584.3 352.8,580.4" fill="#333" />
<path d="M356.7,504.1 L356.7,493.8 A3.80,3.80 0 0 1 364.3,493.8 L364.3,504.1 Z" fill="#ebbd8c"/>
<path d="M356.7,504.1 L356.7,514.5 A3.80,3.80 0 0 0 364.3,514.5 L364.3,504.1 Z" fill="#e98b5c"/>
<rect x="362.0" y="493.0" width="0.76" height="22.2" fill="#fff" opacity="0.25"/>
<path d="M356.7,545.5 L356.7,535.5 A3.80,3.80 0 0 1 364.3,535.5 L364.3,545.5 Z" fill="#9cb5e1"/>
<path d="M356.7,545.5 L356.7,555.5 A3.80,3.80 0 0 0 364.3,555.5 L364.3,545.5 Z" fill="#a78bd2"/>
<rect x="362.0" y="534.7" width="0.76" height="21.5" fill="#fff" opacity="0.25"/>
<path d="M356.7,587.9 L356.7,577.8 A3.80,3.80 0 0 1 364.3,577.8 L364.3,587.9 Z" fill="#d9637f"/>
<path d="M356.7,587.9 L356.7,597.9 A3.80,3.80 0 0 0 364.3,597.9 L364.3,587.9 Z" fill="#4380b9"/>
<rect x="362.0" y="577.0" width="0.76" height="21.6" fill="#fff" opacity="0.25"/>
<text x="374.7" y="528.0" font-size="14.5" font-weight="bold" fill="#9b70c2" text-anchor="start" textLength="51.6" lengthAdjust="spacingAndGlyphs">Prioritize</text>
<path d="M394.3,543.1 Q394.3,541.6 395.8,542.4 L407.6,550.3 Q408.4,551.1 407.6,551.9 L395.8,559.8 Q394.3,560.6 394.3,559.1 Z" fill="#15304f"/>
<rect x="426.3" y="422.2" width="138.9" height="70.6" rx="0" fill="#fbfbf1" />
<use href="#nuc" transform="translate(175.1,131.9)"/>
<path d="M536.0,460.5 L536.0,446.1 A6.20,6.20 0 0 1 548.4,446.1 L548.4,460.5 Z" fill="#9cb5e1"/>
<path d="M536.0,460.5 L536.0,474.9 A6.20,6.20 0 0 0 548.4,474.9 L548.4,460.5 Z" fill="#a78bd2"/>
<rect x="544.7" y="444.9" width="1.24" height="31.3" fill="#fff" opacity="0.25"/>
<rect x="449.9" y="497.4" width="86.0" height="38.0" rx="5" fill="#6ab457" />
<text x="492.9" y="525.5" font-size="25.2" font-weight="bold" fill="#f7e8b6" text-anchor="middle" textLength="51.6" lengthAdjust="spacingAndGlyphs">PPNE</text>
<rect x="422.8" y="540.3" width="142.4" height="71.9" rx="0" fill="#fbfbf1" />
<use href="#epi" transform="translate(71.4,391.2) scale(0.88)"/>
<path d="M533.2,574.8 L533.2,559.9 A6.10,6.10 0 0 1 545.4,559.9 L545.4,574.8 Z" fill="#ebbd8c"/>
<path d="M533.2,574.8 L533.2,589.8 A6.10,6.10 0 0 0 545.4,589.8 L545.4,574.8 Z" fill="#e98b5c"/>
<rect x="541.7" y="558.7" width="1.22" height="32.3" fill="#fff" opacity="0.25"/>
<path d="M414.57,573.48 L412.30,573.97 L409.94,574.58 L407.52,575.32 L405.02,576.18 L402.47,577.16 L399.85,578.25 L397.18,579.45 L394.46,580.76 L391.69,582.18 L388.88,583.71 L386.03,585.34 L383.14,587.07 L380.22,588.89 L377.27,590.82 L374.30,592.83 L371.31,594.93 L368.30,597.13 L365.29,599.40 L362.26,601.76 L359.23,604.21 L356.20,606.72 L353.17,609.32 L350.14,611.99 L347.13,614.73 L344.14,617.54 L341.16,620.41 L338.20,623.35 L335.27,626.35 L332.37,629.41 L329.51,632.52 L326.68,635.69 L323.89,638.91 L321.19,642.22 L318.54,645.57 L315.94,648.96 L313.41,652.40 L310.93,655.88 L308.52,659.39 L306.18,662.93 L303.92,666.50 L307.08,668.50 L309.32,664.97 L311.63,661.48 L314.00,658.02 L316.44,654.60 L318.94,651.22 L321.50,647.87 L324.11,644.57 L326.78,641.31 L329.44,638.06 L332.15,634.86 L334.90,631.71 L337.69,628.61 L340.51,625.57 L343.35,622.59 L346.22,619.67 L349.11,616.81 L352.02,614.02 L354.94,611.30 L357.86,608.65 L360.80,606.07 L363.73,603.57 L366.66,601.14 L369.59,598.80 L372.50,596.54 L375.40,594.37 L378.28,592.28 L381.14,590.29 L383.97,588.39 L386.78,586.58 L389.55,584.87 L392.29,583.27 L394.98,581.76 L397.63,580.36 L400.23,579.07 L402.78,577.89 L405.27,576.82 L407.71,575.87 L410.08,575.03 L412.39,574.32 L414.63,573.72 Z" fill="#3b4f86"/>
<polygon points="297.9,679.1 302.2,660.8 306.5,668.3 311.8,673.2" fill="#3b4f86" />
<use href="#woman" transform="translate(54.3,727.7) scale(0.658)"/>
<rect x="37.2" y="683.6" width="111.8" height="24.8" rx="5" fill="#eeeeee" />
<text x="45.0" y="699.8" font-size="12.5" font-weight="bold" fill="#8b70b2" text-anchor="start" textLength="97.0" lengthAdjust="spacingAndGlyphs">phosphoproteomics</text>
<polygon points="73.6,792.2 90.6,749.8 108.6,783.7" fill="#c5dbea" />
<ellipse cx="114.55" cy="750.6" rx="24" ry="31.9" fill="#fff" stroke="#1a1a1a" stroke-width="1.4"/>
<path d="M114.27,734.49 C115.12,734.49 116.72,735.33 117.67,736.18 C118.61,737.03 118.80,738.44 119.93,739.57 C121.06,740.71 123.13,741.65 124.45,742.97 C125.77,744.29 127.09,746.36 127.84,747.49 C128.60,748.62 128.50,748.62 128.97,749.75 C129.44,750.88 130.58,752.77 130.67,754.27 C130.76,755.78 130.01,757.57 129.54,758.80 C129.07,760.02 128.31,760.49 127.84,761.62 C127.37,762.75 127.47,765.11 126.71,765.58 C125.96,766.05 124.45,764.83 123.32,764.45 C122.19,764.07 121.06,763.13 119.93,763.32 C118.80,763.51 117.67,765.30 116.54,765.58 C115.40,765.86 114.27,765.68 113.14,765.02 C112.01,764.36 110.69,762.66 109.75,761.62 C108.81,760.59 108.24,759.83 107.49,758.80 C106.74,757.76 105.42,756.72 105.23,755.40 C105.04,754.09 105.79,752.20 106.36,750.88 C106.92,749.56 107.96,748.43 108.62,747.49 C109.28,746.55 109.85,746.55 110.32,745.23 C110.79,743.91 111.07,741.08 111.45,739.57 C111.82,738.07 112.11,737.03 112.58,736.18 C113.05,735.33 113.43,734.49 114.27,734.49 Z" fill="#bfcdf0"/>
<line x1="106.40" y1="742.40" x2="110.30" y2="745.80" stroke="#a58a30" stroke-width="0.8" />
<circle cx="101.8" cy="737.3" r="6" fill="#f5c800" stroke="#6a5a10" stroke-width="0.5"/>
<text x="101.8" y="740.2" font-size="8" font-weight="bold" fill="#222" text-anchor="middle">P</text>
<rect x="155.9" y="646.0" width="66.1" height="24.3" rx="5" fill="#eeeeee" />
<text x="160.6" y="661.8" font-size="12.5" font-weight="bold" fill="#8b70b2" text-anchor="start" textLength="56.0" lengthAdjust="spacingAndGlyphs">FACS assay</text>
<g filter="url(#soft)"><path d="M159.50,717.10 C160.03,714.83 160.82,712.07 162.70,710.70 C164.58,709.33 167.63,709.20 170.80,708.90 C173.97,708.60 178.53,708.30 181.70,708.90 C184.87,709.50 188.00,710.83 189.80,712.50 C191.60,714.17 192.35,716.18 192.50,718.90 C192.65,721.62 192.05,725.63 190.70,728.80 C189.35,731.97 186.82,735.33 184.40,737.90 C181.98,740.47 178.92,743.60 176.20,744.20 C173.48,744.80 170.35,743.32 168.10,741.50 C165.85,739.68 164.13,736.17 162.70,733.30 C161.27,730.43 160.03,727.00 159.50,724.30 C158.97,721.60 158.97,719.37 159.50,717.10 Z" fill="#34409c"/><path d="M161.71,718.04 C162.17,716.09 162.84,713.71 164.46,712.53 C166.08,711.36 168.71,711.24 171.43,710.99 C174.15,710.73 178.08,710.47 180.80,710.99 C183.53,711.50 186.22,712.65 187.77,714.08 C189.32,715.52 189.96,717.25 190.09,719.59 C190.22,721.92 189.70,725.38 188.54,728.10 C187.38,730.82 185.20,733.72 183.13,735.93 C181.05,738.13 178.41,740.83 176.07,741.34 C173.74,741.86 171.04,740.58 169.11,739.02 C167.17,737.46 165.70,734.44 164.46,731.97 C163.23,729.50 162.17,726.55 161.71,724.23 C161.25,721.91 161.25,719.99 161.71,718.04 Z" fill="#3a52b8"/><path d="M164.24,719.11 C164.61,717.52 165.16,715.59 166.48,714.63 C167.80,713.67 169.93,713.58 172.15,713.37 C174.37,713.16 177.56,712.95 179.78,713.37 C182.00,713.79 184.19,714.72 185.45,715.89 C186.71,717.06 187.24,718.47 187.34,720.37 C187.44,722.27 187.02,725.08 186.08,727.30 C185.13,729.52 183.36,731.87 181.67,733.67 C179.98,735.47 177.83,737.66 175.93,738.08 C174.03,738.50 171.83,737.46 170.26,736.19 C168.69,734.92 167.48,732.46 166.48,730.45 C165.48,728.44 164.61,726.04 164.24,724.15 C163.87,722.26 163.87,720.70 164.24,719.11 Z" fill="#3c8ad8"/><path d="M165.82,719.78 C166.14,718.42 166.61,716.76 167.74,715.94 C168.87,715.12 170.70,715.04 172.60,714.86 C174.50,714.68 177.24,714.50 179.14,714.86 C181.04,715.22 182.92,716.02 184.00,717.02 C185.08,718.02 185.53,719.23 185.62,720.86 C185.71,722.49 185.35,724.90 184.54,726.80 C183.73,728.70 182.21,730.72 180.76,732.26 C179.31,733.80 177.47,735.68 175.84,736.04 C174.21,736.40 172.33,735.51 170.98,734.42 C169.63,733.33 168.60,731.22 167.74,729.50 C166.88,727.78 166.14,725.72 165.82,724.10 C165.50,722.48 165.50,721.14 165.82,719.78 Z" fill="#48cce0"/><path d="M167.40,720.45 C167.67,719.32 168.06,717.93 169.00,717.25 C169.94,716.57 171.47,716.50 173.05,716.35 C174.63,716.20 176.92,716.05 178.50,716.35 C180.08,716.65 181.65,717.32 182.55,718.15 C183.45,718.98 183.83,719.99 183.90,721.35 C183.97,722.71 183.68,724.72 183.00,726.30 C182.32,727.88 181.06,729.57 179.85,730.85 C178.64,732.13 177.11,733.70 175.75,734.00 C174.39,734.30 172.82,733.56 171.70,732.65 C170.57,731.74 169.72,729.98 169.00,728.55 C168.28,727.12 167.67,725.40 167.40,724.05 C167.13,722.70 167.13,721.58 167.40,720.45 Z" fill="#c8e23c"/><path d="M168.66,720.99 C168.89,720.03 169.22,718.87 170.01,718.30 C170.80,717.72 172.08,717.67 173.41,717.54 C174.74,717.42 176.66,717.29 177.99,717.54 C179.32,717.79 180.63,718.35 181.39,719.05 C182.15,719.75 182.46,720.60 182.52,721.74 C182.59,722.88 182.34,724.57 181.77,725.90 C181.20,727.23 180.14,728.64 179.12,729.72 C178.11,730.80 176.82,732.12 175.68,732.37 C174.54,732.62 173.22,732.00 172.28,731.23 C171.33,730.47 170.61,728.99 170.01,727.79 C169.41,726.59 168.89,725.14 168.66,724.01 C168.44,722.88 168.44,721.94 168.66,720.99 Z" fill="#f6dc1e"/><path d="M170.24,721.66 C170.41,720.93 170.67,720.05 171.27,719.61 C171.87,719.17 172.85,719.13 173.86,719.03 C174.87,718.94 176.33,718.84 177.35,719.03 C178.36,719.22 179.36,719.65 179.94,720.18 C180.52,720.72 180.76,721.36 180.80,722.23 C180.85,723.10 180.66,724.39 180.23,725.40 C179.80,726.41 178.99,727.49 178.21,728.31 C177.44,729.13 176.46,730.14 175.59,730.33 C174.72,730.52 173.72,730.05 173.00,729.46 C172.28,728.88 171.73,727.76 171.27,726.84 C170.81,725.92 170.41,724.82 170.24,723.96 C170.07,723.10 170.07,722.38 170.24,721.66 Z" fill="#f48a1e"/><path d="M172.46,722.59 C172.55,722.19 172.69,721.69 173.03,721.44 C173.37,721.20 173.92,721.17 174.49,721.12 C175.06,721.06 175.88,721.01 176.45,721.12 C177.02,721.23 177.59,721.47 177.91,721.77 C178.23,722.07 178.37,722.43 178.40,722.92 C178.42,723.41 178.31,724.13 178.07,724.70 C177.83,725.27 177.37,725.88 176.94,726.34 C176.50,726.80 175.95,727.36 175.46,727.47 C174.97,727.58 174.41,727.31 174.00,726.99 C173.60,726.66 173.29,726.03 173.03,725.51 C172.77,724.99 172.55,724.38 172.46,723.89 C172.36,723.40 172.36,723.00 172.46,722.59 Z" fill="#d52222"/></g>
<g filter="url(#soft)"><path d="M195.20,692.00 C196.12,689.17 198.28,687.75 200.50,686.00 C202.72,684.25 206.00,682.53 208.50,681.50 C211.00,680.47 213.67,679.30 215.50,679.80 C217.33,680.30 219.00,681.63 219.50,684.50 C220.00,687.37 219.67,693.00 218.50,697.00 C217.33,701.00 214.87,705.92 212.50,708.50 C210.13,711.08 206.72,712.25 204.30,712.50 C201.88,712.75 199.55,711.58 198.00,710.00 C196.45,708.42 195.47,706.00 195.00,703.00 C194.53,700.00 194.28,694.83 195.20,692.00 Z" fill="#34409c"/><path d="M197.22,692.56 C197.99,690.18 199.81,688.99 201.67,687.52 C203.53,686.05 206.29,684.61 208.39,683.74 C210.49,682.87 212.73,681.89 214.27,682.31 C215.81,682.73 217.21,683.85 217.63,686.26 C218.05,688.67 217.77,693.40 216.79,696.76 C215.81,700.12 213.74,704.25 211.75,706.42 C209.76,708.59 206.89,709.57 204.86,709.78 C202.83,709.99 200.87,709.01 199.57,707.68 C198.27,706.35 197.44,704.32 197.05,701.80 C196.66,699.28 196.45,694.94 197.22,692.56 Z" fill="#3a56bc"/><path d="M199.48,693.19 C200.09,691.32 201.52,690.38 202.98,689.23 C204.44,688.08 206.61,686.94 208.26,686.26 C209.91,685.58 211.67,684.81 212.88,685.14 C214.09,685.47 215.19,686.35 215.52,688.24 C215.85,690.13 215.63,693.85 214.86,696.49 C214.09,699.13 212.46,702.38 210.90,704.08 C209.34,705.79 207.09,706.56 205.49,706.72 C203.90,706.88 202.35,706.12 201.33,705.07 C200.31,704.03 199.66,702.43 199.35,700.45 C199.04,698.47 198.88,695.06 199.48,693.19 Z" fill="#46c2ea"/><path d="M201.00,693.61 C201.49,692.08 202.66,691.32 203.86,690.37 C205.06,689.42 206.83,688.50 208.18,687.94 C209.53,687.38 210.97,686.75 211.96,687.02 C212.95,687.29 213.85,688.01 214.12,689.56 C214.39,691.11 214.21,694.15 213.58,696.31 C212.95,698.47 211.62,701.12 210.34,702.52 C209.06,703.91 207.22,704.54 205.91,704.68 C204.61,704.81 203.35,704.19 202.51,703.33 C201.67,702.48 201.14,701.17 200.89,699.55 C200.64,697.93 200.50,695.14 201.00,693.61 Z" fill="#7ed8c2"/></g>
<circle cx="215.2" cy="711.2" r="0.4" fill="#3a48a8" opacity="0.7"/><circle cx="155.1" cy="728.6" r="0.4" fill="#3a48a8" opacity="0.7"/><circle cx="212.6" cy="684.0" r="0.4" fill="#3a48a8" opacity="0.7"/><circle cx="177.7" cy="744.4" r="0.4" fill="#3a48a8" opacity="0.7"/><circle cx="157.9" cy="715.8" r="0.4" fill="#3a48a8" opacity="0.7"/><circle cx="178.0" cy="743.2" r="0.4" fill="#3a48a8" opacity="0.7"/><circle cx="223.9" cy="697.8" r="0.4" fill="#3a48a8" opacity="0.7"/><circle cx="161.6" cy="713.8" r="0.4" fill="#3a48a8" opacity="0.7"/><circle cx="154.3" cy="726.3" r="0.4" fill="#3a48a8" opacity="0.7"/><circle cx="161.7" cy="740.8" r="0.4" fill="#3a48a8" opacity="0.7"/><circle cx="218.0" cy="708.5" r="0.4" fill="#3a48a8" opacity="0.7"/><circle cx="157.2" cy="719.9" r="0.4" fill="#3a48a8" opacity="0.7"/><circle cx="184.2" cy="744.7" r="0.4" fill="#3a48a8" opacity="0.7"/><circle cx="208.4" cy="712.1" r="0.4" fill="#3a48a8" opacity="0.7"/><circle cx="223.2" cy="694.9" r="0.4" fill="#3a48a8" opacity="0.7"/><circle cx="208.3" cy="682.4" r="0.4" fill="#3a48a8" opacity="0.7"/><circle cx="191.2" cy="740.0" r="0.4" fill="#3a48a8" opacity="0.7"/><circle cx="212.1" cy="713.3" r="0.4" fill="#3a48a8" opacity="0.7"/><circle cx="159.3" cy="736.1" r="0.4" fill="#3a48a8" opacity="0.7"/><circle cx="195.4" cy="707.6" r="0.4" fill="#3a48a8" opacity="0.7"/><circle cx="196.5" cy="729.3" r="0.4" fill="#3a48a8" opacity="0.7"/><circle cx="195.9" cy="725.1" r="0.4" fill="#3a48a8" opacity="0.7"/><circle cx="192.8" cy="693.6" r="0.4" fill="#3a48a8" opacity="0.7"/><circle cx="194.5" cy="688.3" r="0.4" fill="#3a48a8" opacity="0.7"/><circle cx="184.2" cy="742.7" r="0.4" fill="#3a48a8" opacity="0.7"/><circle cx="194.2" cy="717.5" r="0.4" fill="#3a48a8" opacity="0.7"/><circle cx="169.6" cy="742.3" r="0.4" fill="#3a48a8" opacity="0.7"/><circle cx="213.0" cy="684.5" r="0.4" fill="#3a48a8" opacity="0.7"/><circle cx="200.1" cy="683.3" r="0.4" fill="#3a48a8" opacity="0.7"/><circle cx="197.1" cy="720.6" r="0.4" fill="#3a48a8" opacity="0.7"/><circle cx="223.4" cy="694.1" r="0.4" fill="#3a48a8" opacity="0.7"/><circle cx="157.0" cy="727.0" r="0.4" fill="#3a48a8" opacity="0.7"/><circle cx="189.0" cy="713.8" r="0.4" fill="#3a48a8" opacity="0.7"/><circle cx="212.3" cy="684.0" r="0.4" fill="#3a48a8" opacity="0.7"/><circle cx="185.9" cy="710.6" r="0.4" fill="#3a48a8" opacity="0.7"/><circle cx="171.4" cy="743.2" r="0.4" fill="#3a48a8" opacity="0.7"/><circle cx="195.5" cy="734.6" r="0.4" fill="#3a48a8" opacity="0.7"/><circle cx="222.6" cy="696.5" r="0.4" fill="#3a48a8" opacity="0.7"/><circle cx="206.8" cy="713.0" r="0.4" fill="#3a48a8" opacity="0.7"/><circle cx="173.5" cy="708.2" r="0.4" fill="#3a48a8" opacity="0.7"/>
<rect x="155.9" y="755.3" width="67.0" height="24.0" rx="5" fill="#eeeeee" />
<text x="162.0" y="770.8" font-size="12.5" font-weight="bold" fill="#8b70b2" text-anchor="start" textLength="53.0" lengthAdjust="spacingAndGlyphs">MTT assay</text>
<path d="M192.4,782.0 L188.0,782.0 A4.60,4.60 0 0 0 188.0,791.2 L192.4,791.2 Z" fill="#ebbd8c"/>
<path d="M192.4,782.0 L196.8,782.0 A4.60,4.60 0 0 1 196.8,791.2 L192.4,791.2 Z" fill="#e98b5c"/>
<path d="M220.2,782.0 L215.6,782.0 A4.60,4.60 0 0 0 215.6,791.2 L220.2,791.2 Z" fill="#9cb5e1"/>
<path d="M220.2,782.0 L224.9,782.0 A4.60,4.60 0 0 1 224.9,791.2 L220.2,791.2 Z" fill="#a78bd2"/>
<path d="M185.2,798 L192.8,798 L192.8,818 L189,830 L185.2,818 Z" fill="#fafafa" stroke="#bbb" stroke-width="0.6"/>
<path d="M185.5,812 L192.5,812 L192.5,818 L189,829 L185.5,818 Z" fill="#f3e2b8"/>
<path d="M185,797 L180,791" stroke="#bbb" stroke-width="1.2"/>
<path d="M212.79999999999998,798 L220.4,798 L220.4,818 L216.6,830 L212.79999999999998,818 Z" fill="#fafafa" stroke="#bbb" stroke-width="0.6"/>
<path d="M213.1,812 L220.1,812 L220.1,818 L216.6,829 L213.1,818 Z" fill="#d9d2f2"/>
<path d="M212.6,797 L207.6,791" stroke="#bbb" stroke-width="1.2"/>
<path d="M175,793 C166,795 160,800 158,806" fill="none" stroke="#d9a0b0" stroke-width="0.8"/>
<polygon points="157.5,808.0 156.0,803.5 160.0,804.5" fill="#d9a0b0" />
<rect x="138.0" y="812.4" width="46.3" height="42.8" rx="1.5" fill="#e9eef3" stroke="#d0d8e0" stroke-width="0.6"/>
<circle cx="141.5" cy="816.0" r="1.1" fill="none" stroke="#d2c8e6" stroke-width="0.35"/><circle cx="141.5" cy="820.9" r="1.1" fill="none" stroke="#d2c8e6" stroke-width="0.35"/><circle cx="141.5" cy="825.8" r="1.1" fill="none" stroke="#d2c8e6" stroke-width="0.35"/><circle cx="141.5" cy="830.7" r="1.1" fill="none" stroke="#d2c8e6" stroke-width="0.35"/><circle cx="141.5" cy="835.6" r="1.1" fill="none" stroke="#d2c8e6" stroke-width="0.35"/><circle cx="141.5" cy="840.5" r="1.1" fill="none" stroke="#d2c8e6" stroke-width="0.35"/><circle cx="141.5" cy="845.4" r="1.1" fill="none" stroke="#d2c8e6" stroke-width="0.35"/><circle cx="141.5" cy="850.3" r="1.1" fill="none" stroke="#d2c8e6" stroke-width="0.35"/><circle cx="145.2" cy="816.0" r="1.1" fill="none" stroke="#d2c8e6" stroke-width="0.35"/><circle cx="145.2" cy="820.9" r="1.1" fill="none" stroke="#d2c8e6" stroke-width="0.35"/><circle cx="145.2" cy="825.8" r="1.1" fill="none" stroke="#d2c8e6" stroke-width="0.35"/><circle cx="145.2" cy="830.7" r="1.1" fill="none" stroke="#d2c8e6" stroke-width="0.35"/><circle cx="145.2" cy="835.6" r="1.1" fill="none" stroke="#d2c8e6" stroke-width="0.35"/><circle cx="145.2" cy="840.5" r="1.1" fill="none" stroke="#d2c8e6" stroke-width="0.35"/><circle cx="145.2" cy="845.4" r="1.1" fill="none" stroke="#d2c8e6" stroke-width="0.35"/><circle cx="145.2" cy="850.3" r="1.1" fill="none" stroke="#d2c8e6" stroke-width="0.35"/><circle cx="148.8" cy="816.0" r="1.1" fill="none" stroke="#d2c8e6" stroke-width="0.35"/><circle cx="148.8" cy="820.9" r="1.1" fill="none" stroke="#d2c8e6" stroke-width="0.35"/><circle cx="148.8" cy="825.8" r="1.1" fill="none" stroke="#d2c8e6" stroke-width="0.35"/><circle cx="148.8" cy="830.7" r="1.1" fill="none" stroke="#d2c8e6" stroke-width="0.35"/><circle cx="148.8" cy="835.6" r="1.1" fill="none" stroke="#d2c8e6" stroke-width="0.35"/><circle cx="148.8" cy="840.5" r="1.1" fill="none" stroke="#d2c8e6" stroke-width="0.35"/><circle cx="148.8" cy="845.4" r="1.1" fill="none" stroke="#d2c8e6" stroke-width="0.35"/><circle cx="148.8" cy="850.3" r="1.1" fill="none" stroke="#d2c8e6" stroke-width="0.35"/><circle cx="152.4" cy="816.0" r="1.1" fill="none" stroke="#d2c8e6" stroke-width="0.35"/><circle cx="152.4" cy="820.9" r="1.1" fill="none" stroke="#d2c8e6" stroke-width="0.35"/><circle cx="152.4" cy="825.8" r="1.1" fill="none" stroke="#d2c8e6" stroke-width="0.35"/><circle cx="152.4" cy="830.7" r="1.1" fill="none" stroke="#d2c8e6" stroke-width="0.35"/><circle cx="152.4" cy="835.6" r="1.1" fill="none" stroke="#d2c8e6" stroke-width="0.35"/><circle cx="152.4" cy="840.5" r="1.1" fill="none" stroke="#d2c8e6" stroke-width="0.35"/><circle cx="152.4" cy="845.4" r="1.1" fill="none" stroke="#d2c8e6" stroke-width="0.35"/><circle cx="152.4" cy="850.3" r="1.1" fill="none" stroke="#d2c8e6" stroke-width="0.35"/><circle cx="156.1" cy="816.0" r="1.1" fill="none" stroke="#d2c8e6" stroke-width="0.35"/><circle cx="156.1" cy="820.9" r="1.1" fill="none" stroke="#d2c8e6" stroke-width="0.35"/><circle cx="156.1" cy="825.8" r="1.1" fill="none" stroke="#d2c8e6" stroke-width="0.35"/><circle cx="156.1" cy="830.7" r="1.1" fill="none" stroke="#d2c8e6" stroke-width="0.35"/><circle cx="156.1" cy="835.6" r="1.1" fill="none" stroke="#d2c8e6" stroke-width="0.35"/><circle cx="156.1" cy="840.5" r="1.1" fill="none" stroke="#d2c8e6" stroke-width="0.35"/><circle cx="156.1" cy="845.4" r="1.1" fill="none" stroke="#d2c8e6" stroke-width="0.35"/><circle cx="156.1" cy="850.3" r="1.1" fill="none" stroke="#d2c8e6" stroke-width="0.35"/><circle cx="159.8" cy="816.0" r="1.1" fill="none" stroke="#d2c8e6" stroke-width="0.35"/><circle cx="159.8" cy="820.9" r="1.1" fill="none" stroke="#d2c8e6" stroke-width="0.35"/><circle cx="159.8" cy="825.8" r="1.1" fill="none" stroke="#d2c8e6" stroke-width="0.35"/><circle cx="159.8" cy="830.7" r="1.1" fill="none" stroke="#d2c8e6" stroke-width="0.35"/><circle cx="159.8" cy="835.6" r="1.1" fill="none" stroke="#d2c8e6" stroke-width="0.35"/><circle cx="159.8" cy="840.5" r="1.1" fill="none" stroke="#d2c8e6" stroke-width="0.35"/><circle cx="159.8" cy="845.4" r="1.1" fill="none" stroke="#d2c8e6" stroke-width="0.35"/><circle cx="159.8" cy="850.3" r="1.1" fill="none" stroke="#d2c8e6" stroke-width="0.35"/><circle cx="163.4" cy="816.0" r="1.1" fill="none" stroke="#d2c8e6" stroke-width="0.35"/><circle cx="163.4" cy="820.9" r="1.1" fill="none" stroke="#d2c8e6" stroke-width="0.35"/><circle cx="163.4" cy="825.8" r="1.1" fill="none" stroke="#d2c8e6" stroke-width="0.35"/><circle cx="163.4" cy="830.7" r="1.1" fill="none" stroke="#d2c8e6" stroke-width="0.35"/><circle cx="163.4" cy="835.6" r="1.1" fill="none" stroke="#d2c8e6" stroke-width="0.35"/><circle cx="163.4" cy="840.5" r="1.1" fill="none" stroke="#d2c8e6" stroke-width="0.35"/><circle cx="163.4" cy="845.4" r="1.1" fill="none" stroke="#d2c8e6" stroke-width="0.35"/><circle cx="163.4" cy="850.3" r="1.1" fill="none" stroke="#d2c8e6" stroke-width="0.35"/><circle cx="167.1" cy="816.0" r="1.1" fill="none" stroke="#d2c8e6" stroke-width="0.35"/><circle cx="167.1" cy="820.9" r="1.1" fill="none" stroke="#d2c8e6" stroke-width="0.35"/><circle cx="167.1" cy="825.8" r="1.1" fill="none" stroke="#d2c8e6" stroke-width="0.35"/><circle cx="167.1" cy="830.7" r="1.1" fill="none" stroke="#d2c8e6" stroke-width="0.35"/><circle cx="167.1" cy="835.6" r="1.1" fill="none" stroke="#d2c8e6" stroke-width="0.35"/><circle cx="167.1" cy="840.5" r="1.1" fill="none" stroke="#d2c8e6" stroke-width="0.35"/><circle cx="167.1" cy="845.4" r="1.1" fill="none" stroke="#d2c8e6" stroke-width="0.35"/><circle cx="167.1" cy="850.3" r="1.1" fill="none" stroke="#d2c8e6" stroke-width="0.35"/><circle cx="170.7" cy="816.0" r="1.1" fill="none" stroke="#d2c8e6" stroke-width="0.35"/><circle cx="170.7" cy="820.9" r="1.1" fill="none" stroke="#d2c8e6" stroke-width="0.35"/><circle cx="170.7" cy="825.8" r="1.1" fill="none" stroke="#d2c8e6" stroke-width="0.35"/><circle cx="170.7" cy="830.7" r="1.1" fill="none" stroke="#d2c8e6" stroke-width="0.35"/><circle cx="170.7" cy="835.6" r="1.1" fill="none" stroke="#d2c8e6" stroke-width="0.35"/><circle cx="170.7" cy="840.5" r="1.1" fill="none" stroke="#d2c8e6" stroke-width="0.35"/><circle cx="170.7" cy="845.4" r="1.1" fill="none" stroke="#d2c8e6" stroke-width="0.35"/><circle cx="170.7" cy="850.3" r="1.1" fill="none" stroke="#d2c8e6" stroke-width="0.35"/><circle cx="174.3" cy="816.0" r="1.1" fill="none" stroke="#d2c8e6" stroke-width="0.35"/><circle cx="174.3" cy="820.9" r="1.1" fill="none" stroke="#d2c8e6" stroke-width="0.35"/><circle cx="174.3" cy="825.8" r="1.1" fill="none" stroke="#d2c8e6" stroke-width="0.35"/><circle cx="174.3" cy="830.7" r="1.1" fill="none" stroke="#d2c8e6" stroke-width="0.35"/><circle cx="174.3" cy="835.6" r="1.1" fill="none" stroke="#d2c8e6" stroke-width="0.35"/><circle cx="174.3" cy="840.5" r="1.1" fill="none" stroke="#d2c8e6" stroke-width="0.35"/><circle cx="174.3" cy="845.4" r="1.1" fill="none" stroke="#d2c8e6" stroke-width="0.35"/><circle cx="174.3" cy="850.3" r="1.1" fill="none" stroke="#d2c8e6" stroke-width="0.35"/><circle cx="178.0" cy="816.0" r="1.1" fill="none" stroke="#d2c8e6" stroke-width="0.35"/><circle cx="178.0" cy="820.9" r="1.1" fill="none" stroke="#d2c8e6" stroke-width="0.35"/><circle cx="178.0" cy="825.8" r="1.1" fill="none" stroke="#d2c8e6" stroke-width="0.35"/><circle cx="178.0" cy="830.7" r="1.1" fill="none" stroke="#d2c8e6" stroke-width="0.35"/><circle cx="178.0" cy="835.6" r="1.1" fill="none" stroke="#d2c8e6" stroke-width="0.35"/><circle cx="178.0" cy="840.5" r="1.1" fill="none" stroke="#d2c8e6" stroke-width="0.35"/><circle cx="178.0" cy="845.4" r="1.1" fill="none" stroke="#d2c8e6" stroke-width="0.35"/><circle cx="178.0" cy="850.3" r="1.1" fill="none" stroke="#d2c8e6" stroke-width="0.35"/><circle cx="181.7" cy="816.0" r="1.1" fill="none" stroke="#d2c8e6" stroke-width="0.35"/><circle cx="181.7" cy="820.9" r="1.1" fill="none" stroke="#d2c8e6" stroke-width="0.35"/><circle cx="181.7" cy="825.8" r="1.1" fill="none" stroke="#d2c8e6" stroke-width="0.35"/><circle cx="181.7" cy="830.7" r="1.1" fill="none" stroke="#d2c8e6" stroke-width="0.35"/><circle cx="181.7" cy="835.6" r="1.1" fill="none" stroke="#d2c8e6" stroke-width="0.35"/><circle cx="181.7" cy="840.5" r="1.1" fill="none" stroke="#d2c8e6" stroke-width="0.35"/><circle cx="181.7" cy="845.4" r="1.1" fill="none" stroke="#d2c8e6" stroke-width="0.35"/><circle cx="181.7" cy="850.3" r="1.1" fill="none" stroke="#d2c8e6" stroke-width="0.35"/>
<path d="M190,843 C182,841 176,842 172,845" fill="none" stroke="#d9a0b0" stroke-width="0.8"/>
<g filter="url(#soft)"><circle cx="194.5" cy="847" r="8.8" fill="#d3e4f3"/><circle cx="200.2" cy="848.8" r="3.4" fill="#d3e4f3"/><circle cx="198.9" cy="848.4" r="1.6" fill="#b9d3ec"/><circle cx="196.7" cy="852.6" r="3.4" fill="#d3e4f3"/><circle cx="196.2" cy="851.3" r="1.6" fill="#b9d3ec"/><circle cx="191.5" cy="852.2" r="3.4" fill="#d3e4f3"/><circle cx="192.2" cy="851.0" r="1.6" fill="#b9d3ec"/><circle cx="188.6" cy="847.9" r="3.4" fill="#d3e4f3"/><circle cx="190.0" cy="847.7" r="1.6" fill="#b9d3ec"/><circle cx="190.1" cy="842.9" r="3.4" fill="#d3e4f3"/><circle cx="191.1" cy="843.9" r="1.6" fill="#b9d3ec"/><circle cx="195.0" cy="841.0" r="3.4" fill="#d3e4f3"/><circle cx="194.8" cy="842.4" r="1.6" fill="#b9d3ec"/><circle cx="199.5" cy="843.6" r="3.4" fill="#d3e4f3"/><circle cx="198.3" cy="844.4" r="1.6" fill="#b9d3ec"/><circle cx="194.5" cy="847" r="2.3" fill="none" stroke="#fff" stroke-width="0.6" opacity="0.8"/></g>
<g filter="url(#soft)"><circle cx="219.3" cy="847" r="8.8" fill="#f9d2b0"/><circle cx="225.0" cy="848.8" r="3.4" fill="#f9d2b0"/><circle cx="223.7" cy="848.4" r="1.6" fill="#f3b88c"/><circle cx="221.5" cy="852.6" r="3.4" fill="#f9d2b0"/><circle cx="221.0" cy="851.3" r="1.6" fill="#f3b88c"/><circle cx="216.3" cy="852.2" r="3.4" fill="#f9d2b0"/><circle cx="217.0" cy="851.0" r="1.6" fill="#f3b88c"/><circle cx="213.4" cy="847.9" r="3.4" fill="#f9d2b0"/><circle cx="214.8" cy="847.7" r="1.6" fill="#f3b88c"/><circle cx="214.9" cy="842.9" r="3.4" fill="#f9d2b0"/><circle cx="215.9" cy="843.9" r="1.6" fill="#f3b88c"/><circle cx="219.8" cy="841.0" r="3.4" fill="#f9d2b0"/><circle cx="219.6" cy="842.4" r="1.6" fill="#f3b88c"/><circle cx="224.3" cy="843.6" r="3.4" fill="#f9d2b0"/><circle cx="223.1" cy="844.4" r="1.6" fill="#f3b88c"/><circle cx="219.3" cy="847" r="2.3" fill="none" stroke="#fff" stroke-width="0.6" opacity="0.8"/></g>
<g filter="url(#soft)"><circle cx="182" cy="871.7" r="8.8" fill="#f9d0e0"/><circle cx="187.7" cy="873.5" r="3.4" fill="#f9d0e0"/><circle cx="186.4" cy="873.1" r="1.6" fill="#f4b6cf"/><circle cx="184.2" cy="877.3" r="3.4" fill="#f9d0e0"/><circle cx="183.7" cy="876.0" r="1.6" fill="#f4b6cf"/><circle cx="179.0" cy="876.9" r="3.4" fill="#f9d0e0"/><circle cx="179.7" cy="875.7" r="1.6" fill="#f4b6cf"/><circle cx="176.1" cy="872.6" r="3.4" fill="#f9d0e0"/><circle cx="177.5" cy="872.4" r="1.6" fill="#f4b6cf"/><circle cx="177.6" cy="867.6" r="3.4" fill="#f9d0e0"/><circle cx="178.6" cy="868.6" r="1.6" fill="#f4b6cf"/><circle cx="182.5" cy="865.7" r="3.4" fill="#f9d0e0"/><circle cx="182.3" cy="867.1" r="1.6" fill="#f4b6cf"/><circle cx="187.0" cy="868.3" r="3.4" fill="#f9d0e0"/><circle cx="185.8" cy="869.1" r="1.6" fill="#f4b6cf"/><circle cx="182" cy="871.7" r="2.3" fill="none" stroke="#fff" stroke-width="0.6" opacity="0.8"/></g>
<g filter="url(#soft)"><circle cx="206.9" cy="871.7" r="8.8" fill="#d3ebd0"/><circle cx="212.6" cy="873.5" r="3.4" fill="#d3ebd0"/><circle cx="211.3" cy="873.1" r="1.6" fill="#b7dcb2"/><circle cx="209.1" cy="877.3" r="3.4" fill="#d3ebd0"/><circle cx="208.6" cy="876.0" r="1.6" fill="#b7dcb2"/><circle cx="203.9" cy="876.9" r="3.4" fill="#d3ebd0"/><circle cx="204.6" cy="875.7" r="1.6" fill="#b7dcb2"/><circle cx="201.0" cy="872.6" r="3.4" fill="#d3ebd0"/><circle cx="202.4" cy="872.4" r="1.6" fill="#b7dcb2"/><circle cx="202.5" cy="867.6" r="3.4" fill="#d3ebd0"/><circle cx="203.5" cy="868.6" r="1.6" fill="#b7dcb2"/><circle cx="207.4" cy="865.7" r="3.4" fill="#d3ebd0"/><circle cx="207.2" cy="867.1" r="1.6" fill="#b7dcb2"/><circle cx="211.9" cy="868.3" r="3.4" fill="#d3ebd0"/><circle cx="210.7" cy="869.1" r="1.6" fill="#b7dcb2"/><circle cx="206.9" cy="871.7" r="2.3" fill="none" stroke="#fff" stroke-width="0.6" opacity="0.8"/></g>
<text x="242.3" y="698.5" font-size="14" font-weight="bold" fill="#111" text-anchor="start" textLength="48.3" lengthAdjust="spacingAndGlyphs">Selected</text>
<text x="238.1" y="713.8" font-size="14" font-weight="bold" fill="#111" text-anchor="start" textLength="57.1" lengthAdjust="spacingAndGlyphs">chemicals</text>
<ellipse cx="345" cy="696" rx="22.6" ry="21" fill="#e9f5fa" stroke="#9a9a9a" stroke-width="0.6"/>
<ellipse cx="345" cy="694.6" rx="21.8" ry="13.5" fill="#dcf0f6" stroke="#b5c5cc" stroke-width="0.5"/>
<circle cx="340.45" cy="688.10" r="2.35" fill="#3f78c8"/><circle cx="350.63" cy="688.10" r="2.35" fill="#3f78c8"/><circle cx="338.19" cy="691.78" r="2.35" fill="#3f78c8"/><circle cx="342.71" cy="691.78" r="2.35" fill="#3f78c8"/><circle cx="347.81" cy="691.78" r="2.35" fill="#3f78c8"/><circle cx="352.33" cy="691.78" r="2.35" fill="#3f78c8"/><circle cx="341.02" cy="695.17" r="2.35" fill="#3f78c8"/><circle cx="345.83" cy="695.17" r="2.35" fill="#3f78c8"/><circle cx="350.63" cy="695.17" r="2.35" fill="#3f78c8"/><circle cx="355.72" cy="695.17" r="2.35" fill="#3f78c8"/><circle cx="334.23" cy="698.28" r="2.35" fill="#3f78c8"/><circle cx="338.76" cy="698.28" r="2.35" fill="#3f78c8"/><circle cx="343.28" cy="698.28" r="2.35" fill="#3f78c8"/><circle cx="348.37" cy="698.28" r="2.35" fill="#3f78c8"/><circle cx="353.46" cy="698.28" r="2.35" fill="#3f78c8"/><circle cx="358.55" cy="698.28" r="2.35" fill="#3f78c8"/><circle cx="336.49" cy="701.67" r="2.35" fill="#3f78c8"/><circle cx="341.02" cy="701.67" r="2.35" fill="#3f78c8"/><circle cx="345.54" cy="701.67" r="2.35" fill="#3f78c8"/><circle cx="351.20" cy="701.67" r="2.35" fill="#3f78c8"/><circle cx="338.76" cy="704.79" r="2.35" fill="#3f78c8"/><circle cx="343.28" cy="704.79" r="2.35" fill="#3f78c8"/>
<path d="M252.0,745.6 Q252.0,744.1 253.5,744.9 L264.2,753.1 Q265.0,753.9 264.2,754.6 L253.5,762.8 Q252.0,763.6 252.0,762.1 Z" fill="#15304f"/>
<rect x="277.1" y="727.0" width="90.6" height="36.6" rx="9" fill="#eeeeee" />
<text x="286.4" y="751.9" font-size="19" font-weight="bold" fill="#111" text-anchor="start" textLength="72.4" lengthAdjust="spacingAndGlyphs">Luminal A</text>
<rect x="277.1" y="779.0" width="88.2" height="34.7" rx="9" fill="#eeeeee" />
<text x="285.5" y="803.0" font-size="19" font-weight="bold" fill="#111" text-anchor="start" textLength="71.8" lengthAdjust="spacingAndGlyphs">Luminal B</text>
<rect x="252.0" y="830.8" width="58.5" height="31.2" rx="9" fill="#eeeeee" />
<text x="263.8" y="854.0" font-size="19" font-weight="bold" fill="#111" text-anchor="start" textLength="36.0" lengthAdjust="spacingAndGlyphs">Her2</text>
<rect x="328.7" y="830.8" width="58.9" height="31.2" rx="9" fill="#eeeeee" />
<text x="336.1" y="854.0" font-size="19" font-weight="bold" fill="#111" text-anchor="start" textLength="43.5" lengthAdjust="spacingAndGlyphs">TNBC</text>
<text x="404.7" y="669.0" font-size="13.5" font-weight="bold" fill="#222" text-anchor="start" textLength="142.9" lengthAdjust="spacingAndGlyphs">Select cell lines based on</text>
<text x="413.8" y="687.4" font-size="13.5" font-weight="bold" fill="#222" text-anchor="start" textLength="127.7" lengthAdjust="spacingAndGlyphs">correlation of NC-cells</text>
<path d="M402.8,711 L402.8,800 L480.5,800" fill="none" stroke="#8a8a8a" stroke-width="1.1"/>
<polygon points="402.8,708.5 400.8,713.5 404.8,713.5" fill="#8a8a8a" />
<polygon points="483.0,800.0 478.0,798.0 478.0,802.0" fill="#8a8a8a" />
<line x1="409.10" y1="790.30" x2="482.80" y2="717.20" stroke="#f6cfae" stroke-width="0.8" />
<circle cx="411.30" cy="785.70" r="2.3" fill="#f0a13f" />
<circle cx="417.90" cy="764.10" r="2.3" fill="#f0a13f" />
<circle cx="435.30" cy="763.60" r="2.3" fill="#f0a13f" />
<circle cx="439.40" cy="777.10" r="2.3" fill="#f0a13f" />
<circle cx="443.30" cy="738.80" r="2.3" fill="#f0a13f" />
<circle cx="456.60" cy="747.00" r="2.3" fill="#f0a13f" />
<circle cx="471.40" cy="742.30" r="2.3" fill="#f0a13f" />
<circle cx="475.60" cy="725.00" r="2.3" fill="#f0a13f" />
<text x="416.6" y="822.1" font-size="15" fill="#1a1a1a" text-anchor="start" textLength="49.6" lengthAdjust="spacingAndGlyphs" stroke="#1a1a1a" stroke-width="0.45">Positive</text>
<text x="407.4" y="844.1" font-size="15" fill="#1a1a1a" text-anchor="start" textLength="67.9" lengthAdjust="spacingAndGlyphs" stroke="#1a1a1a" stroke-width="0.45">correlation</text>
<g fill="#e05a55"><ellipse cx="512.6" cy="738.6" rx="1.96" ry="1.40"/><ellipse cx="547.4" cy="770.0" rx="1.96" ry="1.40"/><ellipse cx="515.0" cy="772.0" rx="1.96" ry="1.40"/><ellipse cx="522.0" cy="779.2" rx="1.96" ry="1.40"/><ellipse cx="501.1" cy="736.0" rx="1.96" ry="1.40"/><ellipse cx="560.1" cy="746.5" rx="1.96" ry="1.40"/><ellipse cx="533.7" cy="770.4" rx="1.96" ry="1.40"/><ellipse cx="501.4" cy="744.9" rx="1.96" ry="1.40"/><ellipse cx="537.9" cy="786.6" rx="1.96" ry="1.40"/><ellipse cx="558.0" cy="758.7" rx="1.96" ry="1.40"/><ellipse cx="529.8" cy="726.6" rx="1.96" ry="1.40"/><ellipse cx="553.8" cy="725.6" rx="1.96" ry="1.40"/><ellipse cx="528.3" cy="772.0" rx="1.96" ry="1.40"/><ellipse cx="532.4" cy="754.1" rx="1.96" ry="1.40"/><ellipse cx="527.9" cy="737.1" rx="1.96" ry="1.40"/><ellipse cx="545.1" cy="763.2" rx="1.96" ry="1.40"/><ellipse cx="563.3" cy="751.6" rx="1.96" ry="1.40"/><ellipse cx="518.3" cy="763.0" rx="1.96" ry="1.40"/><ellipse cx="562.9" cy="739.2" rx="1.96" ry="1.40"/><ellipse cx="514.9" cy="733.4" rx="1.96" ry="1.40"/><ellipse cx="539.5" cy="755.2" rx="1.96" ry="1.40"/><ellipse cx="511.4" cy="748.9" rx="1.96" ry="1.40"/><ellipse cx="513.4" cy="791.6" rx="1.96" ry="1.40"/><ellipse cx="519.1" cy="738.3" rx="1.96" ry="1.40"/><ellipse cx="507.1" cy="736.6" rx="1.96" ry="1.40"/><ellipse cx="557.9" cy="739.3" rx="1.96" ry="1.40"/><ellipse cx="549.5" cy="747.4" rx="1.96" ry="1.40"/><ellipse cx="534.4" cy="765.1" rx="1.96" ry="1.40"/><ellipse cx="530.4" cy="784.2" rx="1.96" ry="1.40"/><ellipse cx="519.7" cy="748.6" rx="1.96" ry="1.40"/><ellipse cx="564.5" cy="761.2" rx="1.96" ry="1.40"/><ellipse cx="550.4" cy="743.2" rx="1.96" ry="1.40"/><ellipse cx="561.1" cy="766.4" rx="1.96" ry="1.40"/><ellipse cx="527.5" cy="745.1" rx="1.96" ry="1.40"/><ellipse cx="525.8" cy="761.1" rx="1.96" ry="1.40"/><ellipse cx="524.2" cy="728.7" rx="1.96" ry="1.40"/><ellipse cx="508.9" cy="730.1" rx="1.96" ry="1.40"/><ellipse cx="542.5" cy="736.0" rx="1.96" ry="1.40"/><ellipse cx="540.9" cy="769.8" rx="1.96" ry="1.40"/><ellipse cx="518.8" cy="791.3" rx="1.96" ry="1.40"/><ellipse cx="522.1" cy="753.4" rx="1.96" ry="1.40"/><ellipse cx="525.5" cy="788.8" rx="1.96" ry="1.40"/><ellipse cx="535.6" cy="780.5" rx="1.96" ry="1.40"/><ellipse cx="524.0" cy="771.7" rx="1.96" ry="1.40"/><ellipse cx="521.4" cy="759.1" rx="1.96" ry="1.40"/><ellipse cx="541.1" cy="779.0" rx="1.96" ry="1.40"/><ellipse cx="527.8" cy="777.4" rx="1.96" ry="1.40"/><ellipse cx="554.6" cy="742.9" rx="1.96" ry="1.40"/><ellipse cx="515.4" cy="750.0" rx="1.96" ry="1.40"/><ellipse cx="528.0" cy="765.8" rx="1.96" ry="1.40"/><ellipse cx="518.7" cy="782.4" rx="1.96" ry="1.40"/><ellipse cx="559.8" cy="732.0" rx="1.96" ry="1.40"/><ellipse cx="550.5" cy="752.8" rx="1.96" ry="1.40"/><ellipse cx="550.2" cy="778.2" rx="1.96" ry="1.40"/><ellipse cx="554.0" cy="737.5" rx="1.96" ry="1.40"/><ellipse cx="536.7" cy="734.7" rx="1.96" ry="1.40"/><ellipse cx="532.7" cy="777.2" rx="1.96" ry="1.40"/><ellipse cx="526.1" cy="719.8" rx="1.96" ry="1.40"/><ellipse cx="564.5" cy="728.0" rx="1.96" ry="1.40"/><ellipse cx="541.8" cy="742.8" rx="1.96" ry="1.40"/><ellipse cx="508.7" cy="793.8" rx="1.96" ry="1.40"/><ellipse cx="556.0" cy="751.4" rx="1.96" ry="1.40"/><ellipse cx="530.1" cy="789.6" rx="1.96" ry="1.40"/><ellipse cx="515.2" cy="728.3" rx="1.96" ry="1.40"/><ellipse cx="524.1" cy="741.3" rx="1.96" ry="1.40"/><ellipse cx="545.9" cy="754.0" rx="1.96" ry="1.40"/><ellipse cx="514.0" cy="757.1" rx="1.96" ry="1.40"/><ellipse cx="546.8" cy="783.5" rx="1.96" ry="1.40"/><ellipse cx="557.8" cy="727.0" rx="1.96" ry="1.40"/><ellipse cx="493.0" cy="736.0" rx="1.96" ry="1.40"/><ellipse cx="552.8" cy="766.8" rx="1.96" ry="1.40"/><ellipse cx="516.5" cy="721.9" rx="1.96" ry="1.40"/><ellipse cx="531.8" cy="743.3" rx="1.96" ry="1.40"/><ellipse cx="537.7" cy="748.4" rx="1.96" ry="1.40"/><ellipse cx="553.2" cy="760.6" rx="1.96" ry="1.40"/><ellipse cx="514.7" cy="786.6" rx="1.96" ry="1.40"/><ellipse cx="514.3" cy="761.5" rx="1.96" ry="1.40"/><ellipse cx="554.0" cy="772.2" rx="1.96" ry="1.40"/><ellipse cx="513.2" cy="743.5" rx="1.96" ry="1.40"/><ellipse cx="512.4" cy="766.8" rx="1.96" ry="1.40"/><ellipse cx="505.0" cy="750.1" rx="1.96" ry="1.40"/><ellipse cx="552.8" cy="786.7" rx="1.96" ry="1.40"/><ellipse cx="552.3" cy="732.7" rx="1.96" ry="1.40"/><ellipse cx="497.7" cy="733.5" rx="1.96" ry="1.40"/><ellipse cx="538.5" cy="774.1" rx="1.96" ry="1.40"/><ellipse cx="505.4" cy="740.8" rx="1.96" ry="1.40"/><ellipse cx="563.4" cy="735.0" rx="1.96" ry="1.40"/><ellipse cx="533.2" cy="758.4" rx="1.96" ry="1.40"/><ellipse cx="518.0" cy="754.2" rx="1.96" ry="1.40"/><ellipse cx="543.7" cy="772.8" rx="1.96" ry="1.40"/><ellipse cx="527.7" cy="752.9" rx="1.96" ry="1.40"/><ellipse cx="543.8" cy="749.5" rx="1.96" ry="1.40"/><ellipse cx="558.9" cy="776.7" rx="1.96" ry="1.40"/><ellipse cx="548.7" cy="736.6" rx="1.96" ry="1.40"/><ellipse cx="519.6" cy="733.7" rx="1.96" ry="1.40"/><ellipse cx="556.8" cy="767.7" rx="1.96" ry="1.40"/><ellipse cx="519.7" cy="771.9" rx="1.96" ry="1.40"/><ellipse cx="557.6" cy="781.3" rx="1.96" ry="1.40"/><ellipse cx="518.8" cy="767.4" rx="1.96" ry="1.40"/><ellipse cx="545.1" cy="777.1" rx="1.96" ry="1.40"/><ellipse cx="527.2" cy="731.9" rx="1.96" ry="1.40"/><ellipse cx="497.3" cy="737.8" rx="1.96" ry="1.40"/><ellipse cx="524.4" cy="748.3" rx="1.96" ry="1.40"/><ellipse cx="520.7" cy="721.4" rx="1.96" ry="1.40"/><ellipse cx="558.7" cy="771.3" rx="1.96" ry="1.40"/><ellipse cx="538.4" cy="739.9" rx="1.96" ry="1.40"/><ellipse cx="541.9" cy="784.7" rx="1.96" ry="1.40"/><ellipse cx="503.9" cy="730.7" rx="1.96" ry="1.40"/><ellipse cx="519.2" cy="786.7" rx="1.96" ry="1.40"/><ellipse cx="525.8" cy="784.4" rx="1.96" ry="1.40"/><ellipse cx="523.4" cy="794.0" rx="1.96" ry="1.40"/><ellipse cx="505.9" cy="746.1" rx="1.96" ry="1.40"/><ellipse cx="519.9" cy="728.9" rx="1.96" ry="1.40"/><ellipse cx="540.4" cy="761.4" rx="1.96" ry="1.40"/><ellipse cx="553.9" cy="756.4" rx="1.96" ry="1.40"/><ellipse cx="553.6" cy="747.8" rx="1.96" ry="1.40"/><ellipse cx="531.7" cy="735.0" rx="1.96" ry="1.40"/><ellipse cx="508.7" cy="752.2" rx="1.96" ry="1.40"/><ellipse cx="536.4" cy="743.7" rx="1.96" ry="1.40"/><ellipse cx="514.1" cy="796.1" rx="1.96" ry="1.40"/><ellipse cx="548.9" cy="788.4" rx="1.96" ry="1.40"/><ellipse cx="550.0" cy="728.6" rx="1.96" ry="1.40"/><ellipse cx="546.2" cy="742.1" rx="1.96" ry="1.40"/><ellipse cx="518.5" cy="743.2" rx="1.96" ry="1.40"/><ellipse cx="534.5" cy="789.9" rx="1.96" ry="1.40"/><ellipse cx="562.2" cy="757.1" rx="1.96" ry="1.40"/><ellipse cx="548.6" cy="765.4" rx="1.96" ry="1.40"/><ellipse cx="532.5" cy="748.2" rx="1.96" ry="1.40"/><ellipse cx="523.2" cy="736.2" rx="1.96" ry="1.40"/><ellipse cx="552.0" cy="782.0" rx="1.96" ry="1.40"/><ellipse cx="534.1" cy="739.2" rx="1.96" ry="1.40"/><ellipse cx="524.0" cy="723.9" rx="1.96" ry="1.40"/><ellipse cx="544.4" cy="759.0" rx="1.96" ry="1.40"/><ellipse cx="518.7" cy="796.3" rx="1.96" ry="1.40"/><ellipse cx="523.6" cy="766.0" rx="1.96" ry="1.40"/><ellipse cx="528.3" cy="757.4" rx="1.96" ry="1.40"/><ellipse cx="559.5" cy="753.6" rx="1.96" ry="1.40"/><ellipse cx="501.2" cy="740.4" rx="1.96" ry="1.40"/><ellipse cx="549.1" cy="758.0" rx="1.96" ry="1.40"/><ellipse cx="541.5" cy="789.5" rx="1.96" ry="1.40"/><ellipse cx="539.0" cy="765.6" rx="1.96" ry="1.40"/><ellipse cx="550.0" cy="773.7" rx="1.96" ry="1.40"/><ellipse cx="554.7" cy="778.2" rx="1.96" ry="1.40"/><ellipse cx="556.6" cy="763.2" rx="1.96" ry="1.40"/><ellipse cx="530.4" cy="762.1" rx="1.96" ry="1.40"/><ellipse cx="509.6" cy="741.6" rx="1.96" ry="1.40"/><ellipse cx="530.1" cy="722.4" rx="1.96" ry="1.40"/><ellipse cx="505.1" cy="796.0" rx="1.96" ry="1.40"/><ellipse cx="563.0" cy="743.6" rx="1.96" ry="1.40"/><ellipse cx="536.2" cy="752.3" rx="1.96" ry="1.40"/><ellipse cx="510.8" cy="734.1" rx="1.96" ry="1.40"/><ellipse cx="514.5" cy="782.4" rx="1.96" ry="1.40"/><ellipse cx="536.2" cy="761.4" rx="1.96" ry="1.40"/></g>
<text x="506.8" y="822.6" font-size="15" font-weight="bold" fill="#111" text-anchor="start" textLength="46.3" lengthAdjust="spacingAndGlyphs">NE cells</text>
<text x="584.1" y="17.0" font-size="23" font-weight="bold" fill="#000" text-anchor="start">B</text>
<line x1="652.40" y1="8.20" x2="652.40" y2="175.90" stroke="#222" stroke-width="1.2" />
<line x1="651.80" y1="175.90" x2="1174.50" y2="175.90" stroke="#222" stroke-width="1.2" />
<line x1="649.50" y1="15.40" x2="652.40" y2="15.40" stroke="#222" stroke-width="1" />
<text x="648.2" y="20.0" font-size="13" fill="#222" text-anchor="end" textLength="19.8" lengthAdjust="spacingAndGlyphs">1.0</text>
<line x1="649.50" y1="58.90" x2="652.40" y2="58.90" stroke="#222" stroke-width="1" />
<text x="648.2" y="63.5" font-size="13" fill="#222" text-anchor="end" textLength="19.8" lengthAdjust="spacingAndGlyphs">0.8</text>
<line x1="649.50" y1="102.40" x2="652.40" y2="102.40" stroke="#222" stroke-width="1" />
<text x="648.2" y="107.0" font-size="13" fill="#222" text-anchor="end" textLength="19.8" lengthAdjust="spacingAndGlyphs">0.6</text>
<line x1="649.50" y1="145.90" x2="652.40" y2="145.90" stroke="#222" stroke-width="1" />
<text x="648.2" y="150.5" font-size="13" fill="#222" text-anchor="end" textLength="19.8" lengthAdjust="spacingAndGlyphs">0.4</text>
<text transform="translate(620.8,92.0) rotate(-90)" x="0" y="0" font-size="12.5" fill="#222" text-anchor="middle" textLength="27.5" lengthAdjust="spacingAndGlyphs">AUC</text>
<line x1="674.2" y1="79.6" x2="674.2" y2="175.3" stroke="#dedede" stroke-width="1"/><line x1="682.7" y1="69.8" x2="682.7" y2="175.3" stroke="#dedede" stroke-width="1"/><line x1="691.2" y1="77.2" x2="691.2" y2="175.3" stroke="#dedede" stroke-width="1"/><line x1="725.5" y1="93.7" x2="725.5" y2="175.3" stroke="#dedede" stroke-width="1"/><line x1="734.0" y1="31.7" x2="734.0" y2="175.3" stroke="#dedede" stroke-width="1"/><line x1="742.5" y1="94.6" x2="742.5" y2="175.3" stroke="#dedede" stroke-width="1"/><line x1="776.7" y1="79.6" x2="776.7" y2="175.3" stroke="#dedede" stroke-width="1"/><line x1="785.2" y1="79.3" x2="785.2" y2="175.3" stroke="#dedede" stroke-width="1"/><line x1="793.7" y1="87.8" x2="793.7" y2="175.3" stroke="#dedede" stroke-width="1"/><line x1="828.0" y1="152.9" x2="828.0" y2="175.3" stroke="#dedede" stroke-width="1"/><line x1="836.5" y1="72.6" x2="836.5" y2="175.3" stroke="#dedede" stroke-width="1"/><line x1="845.0" y1="111.3" x2="845.0" y2="175.3" stroke="#dedede" stroke-width="1"/><line x1="879.3" y1="149.6" x2="879.3" y2="175.3" stroke="#dedede" stroke-width="1"/><line x1="887.8" y1="100.0" x2="887.8" y2="175.3" stroke="#dedede" stroke-width="1"/><line x1="896.3" y1="129.8" x2="896.3" y2="175.3" stroke="#dedede" stroke-width="1"/><line x1="930.6" y1="154.6" x2="930.6" y2="175.3" stroke="#dedede" stroke-width="1"/><line x1="939.1" y1="89.6" x2="939.1" y2="175.3" stroke="#dedede" stroke-width="1"/><line x1="947.6" y1="103.1" x2="947.6" y2="175.3" stroke="#dedede" stroke-width="1"/><line x1="981.8" y1="116.8" x2="981.8" y2="175.3" stroke="#dedede" stroke-width="1"/><line x1="990.3" y1="91.7" x2="990.3" y2="175.3" stroke="#dedede" stroke-width="1"/><line x1="998.8" y1="79.6" x2="998.8" y2="175.3" stroke="#dedede" stroke-width="1"/><line x1="1033.1" y1="105.9" x2="1033.1" y2="175.3" stroke="#dedede" stroke-width="1"/><line x1="1041.6" y1="85.9" x2="1041.6" y2="175.3" stroke="#dedede" stroke-width="1"/><line x1="1050.1" y1="64.3" x2="1050.1" y2="175.3" stroke="#dedede" stroke-width="1"/><line x1="1084.4" y1="120.9" x2="1084.4" y2="175.3" stroke="#dedede" stroke-width="1"/><line x1="1092.9" y1="85.4" x2="1092.9" y2="175.3" stroke="#dedede" stroke-width="1"/><line x1="1101.4" y1="66.5" x2="1101.4" y2="175.3" stroke="#dedede" stroke-width="1"/><line x1="1135.6" y1="103.1" x2="1135.6" y2="175.3" stroke="#dedede" stroke-width="1"/><line x1="1144.1" y1="83.7" x2="1144.1" y2="175.3" stroke="#dedede" stroke-width="1"/><line x1="1152.6" y1="58.0" x2="1152.6" y2="175.3" stroke="#dedede" stroke-width="1"/>
<line x1="653" y1="80.9" x2="1174" y2="80.9" stroke="#f4a3a3" stroke-width="1" stroke-dasharray="4.5,3.5"/>
<circle cx="674.2" cy="79.6" r="4.4" fill="#c6ddd9"/><circle cx="682.7" cy="69.8" r="4.4" fill="#1b4e73"/><circle cx="691.2" cy="77.2" r="4.4" fill="#dcdaec"/><circle cx="725.5" cy="93.7" r="4.4" fill="#c6ddd9"/><circle cx="734.0" cy="31.7" r="4.4" fill="#1b4e73"/><circle cx="742.5" cy="94.6" r="4.4" fill="#dcdaec"/><circle cx="776.7" cy="79.6" r="4.4" fill="#c6ddd9"/><circle cx="785.2" cy="79.3" r="4.4" fill="#1b4e73"/><circle cx="793.7" cy="87.8" r="4.4" fill="#dcdaec"/><circle cx="828.0" cy="152.9" r="4.4" fill="#c6ddd9"/><circle cx="836.5" cy="72.6" r="4.4" fill="#1b4e73"/><circle cx="845.0" cy="111.3" r="4.4" fill="#dcdaec"/><circle cx="879.3" cy="149.6" r="4.4" fill="#c6ddd9"/><circle cx="887.8" cy="100.0" r="4.4" fill="#1b4e73"/><circle cx="896.3" cy="129.8" r="4.4" fill="#dcdaec"/><circle cx="930.6" cy="154.6" r="4.4" fill="#c6ddd9"/><circle cx="939.1" cy="89.6" r="4.4" fill="#1b4e73"/><circle cx="947.6" cy="103.1" r="4.4" fill="#dcdaec"/><circle cx="981.8" cy="116.8" r="4.4" fill="#c6ddd9"/><circle cx="990.3" cy="91.7" r="4.4" fill="#1b4e73"/><circle cx="998.8" cy="79.6" r="4.4" fill="#dcdaec"/><circle cx="1033.1" cy="105.9" r="4.4" fill="#c6ddd9"/><circle cx="1041.6" cy="85.9" r="4.4" fill="#1b4e73"/><circle cx="1050.1" cy="64.3" r="4.4" fill="#dcdaec"/><circle cx="1084.4" cy="120.9" r="4.4" fill="#c6ddd9"/><circle cx="1092.9" cy="85.4" r="4.4" fill="#1b4e73"/><circle cx="1101.4" cy="66.5" r="4.4" fill="#dcdaec"/><circle cx="1135.6" cy="103.1" r="4.4" fill="#c6ddd9"/><circle cx="1144.1" cy="83.7" r="4.4" fill="#1b4e73"/><circle cx="1152.6" cy="58.0" r="4.4" fill="#dcdaec"/>
<line x1="682.70" y1="175.90" x2="682.70" y2="178.80" stroke="#222" stroke-width="1" />
<line x1="733.97" y1="175.90" x2="733.97" y2="178.80" stroke="#222" stroke-width="1" />
<line x1="785.24" y1="175.90" x2="785.24" y2="178.80" stroke="#222" stroke-width="1" />
<line x1="836.51" y1="175.90" x2="836.51" y2="178.80" stroke="#222" stroke-width="1" />
<line x1="887.78" y1="175.90" x2="887.78" y2="178.80" stroke="#222" stroke-width="1" />
<line x1="939.05" y1="175.90" x2="939.05" y2="178.80" stroke="#222" stroke-width="1" />
<line x1="990.32" y1="175.90" x2="990.32" y2="178.80" stroke="#222" stroke-width="1" />
<line x1="1041.59" y1="175.90" x2="1041.59" y2="178.80" stroke="#222" stroke-width="1" />
<line x1="1092.86" y1="175.90" x2="1092.86" y2="178.80" stroke="#222" stroke-width="1" />
<line x1="1144.13" y1="175.90" x2="1144.13" y2="178.80" stroke="#222" stroke-width="1" />
<text transform="translate(687.3,184.6) rotate(-90)" font-size="13" fill="#222" text-anchor="end" textLength="24.5" lengthAdjust="spacingAndGlyphs">0.01</text>
<text transform="translate(738.6,184.6) rotate(-90)" font-size="13" fill="#222" text-anchor="end" textLength="24.5" lengthAdjust="spacingAndGlyphs">0.02</text>
<text transform="translate(789.8,184.6) rotate(-90)" font-size="13" fill="#222" text-anchor="end" textLength="24.5" lengthAdjust="spacingAndGlyphs">0.03</text>
<text transform="translate(841.1,184.6) rotate(-90)" font-size="13" fill="#222" text-anchor="end" textLength="24.5" lengthAdjust="spacingAndGlyphs">0.04</text>
<text transform="translate(892.4,184.6) rotate(-90)" font-size="13" fill="#222" text-anchor="end" textLength="24.5" lengthAdjust="spacingAndGlyphs">0.05</text>
<text transform="translate(943.7,184.6) rotate(-90)" font-size="13" fill="#222" text-anchor="end" textLength="24.5" lengthAdjust="spacingAndGlyphs">0.06</text>
<text transform="translate(994.9,184.6) rotate(-90)" font-size="13" fill="#222" text-anchor="end" textLength="24.5" lengthAdjust="spacingAndGlyphs">0.07</text>
<text transform="translate(1046.2,184.6) rotate(-90)" font-size="13" fill="#222" text-anchor="end" textLength="24.5" lengthAdjust="spacingAndGlyphs">0.08</text>
<text transform="translate(1097.5,184.6) rotate(-90)" font-size="13" fill="#222" text-anchor="end" textLength="24.5" lengthAdjust="spacingAndGlyphs">0.09</text>
<text transform="translate(1148.7,184.6) rotate(-90)" font-size="13" fill="#222" text-anchor="end" textLength="17.5" lengthAdjust="spacingAndGlyphs">0.1</text>
<text x="903.0" y="230.7" font-size="13" fill="#222" text-anchor="start" textLength="43.0" lengthAdjust="spacingAndGlyphs">P-value</text>
<circle cx="1071.00" cy="225.30" r="4.2" fill="#c6ddd9" />
<text x="1080.3" y="228.6" font-size="9.5" fill="#222" text-anchor="start">P</text>
<circle cx="1105.80" cy="225.30" r="4.2" fill="#1b4e73" />
<text x="1114.8" y="228.6" font-size="9.5" fill="#222" text-anchor="start" textLength="11.5" lengthAdjust="spacingAndGlyphs">PR</text>
<circle cx="1144.10" cy="225.30" r="4.2" fill="#dcdaec" />
<text x="1153.6" y="228.6" font-size="9.5" fill="#222" text-anchor="start">R</text>
<text x="583.0" y="253.3" font-size="23" font-weight="bold" fill="#000" text-anchor="start">C</text>
<line x1="643" y1="278.9" x2="1168.5" y2="278.9" stroke="#c9c9c9" stroke-width="1" stroke-dasharray="5,4"/><line x1="643" y1="301.8" x2="1168.5" y2="301.8" stroke="#c9c9c9" stroke-width="1" stroke-dasharray="5,4"/><line x1="643" y1="324.4" x2="1168.5" y2="324.4" stroke="#c9c9c9" stroke-width="1" stroke-dasharray="5,4"/><line x1="643" y1="347" x2="1168.5" y2="347" stroke="#c9c9c9" stroke-width="1" stroke-dasharray="5,4"/><line x1="643" y1="369.9" x2="1168.5" y2="369.9" stroke="#c9c9c9" stroke-width="1" stroke-dasharray="5,4"/><line x1="643" y1="392.8" x2="1168.5" y2="392.8" stroke="#c9c9c9" stroke-width="1" stroke-dasharray="5,4"/>
<line x1="641.60" y1="266.20" x2="641.60" y2="405.80" stroke="#222" stroke-width="1.1" />
<line x1="641.00" y1="405.80" x2="1168.90" y2="405.80" stroke="#222" stroke-width="1.1" />
<text x="635.6" y="284.2" font-size="13.8" fill="#222" text-anchor="end" textLength="17.8" lengthAdjust="spacingAndGlyphs">0.5</text>
<text x="635.6" y="307.1" font-size="13.8" fill="#222" text-anchor="end" textLength="17.8" lengthAdjust="spacingAndGlyphs">0.6</text>
<text x="635.6" y="329.7" font-size="13.8" fill="#222" text-anchor="end" textLength="17.8" lengthAdjust="spacingAndGlyphs">0.7</text>
<text x="635.6" y="352.3" font-size="13.8" fill="#222" text-anchor="end" textLength="17.8" lengthAdjust="spacingAndGlyphs">0.8</text>
<text x="635.6" y="375.2" font-size="13.8" fill="#222" text-anchor="end" textLength="17.8" lengthAdjust="spacingAndGlyphs">0.9</text>
<text x="635.6" y="398.1" font-size="13.8" fill="#222" text-anchor="end" textLength="7.0" lengthAdjust="spacingAndGlyphs">1</text>
<line x1="663.70" y1="405.80" x2="663.70" y2="408.80" stroke="#222" stroke-width="1" />
<text x="663.7" y="423.0" font-size="13" fill="#222" text-anchor="middle" textLength="25.5" lengthAdjust="spacingAndGlyphs">0.00</text>
<line x1="789.90" y1="405.80" x2="789.90" y2="408.80" stroke="#222" stroke-width="1" />
<text x="789.9" y="423.0" font-size="13" fill="#222" text-anchor="middle" textLength="25.5" lengthAdjust="spacingAndGlyphs">0.25</text>
<line x1="916.10" y1="405.80" x2="916.10" y2="408.80" stroke="#222" stroke-width="1" />
<text x="916.1" y="423.0" font-size="13" fill="#222" text-anchor="middle" textLength="25.5" lengthAdjust="spacingAndGlyphs">0.50</text>
<line x1="1042.30" y1="405.80" x2="1042.30" y2="408.80" stroke="#222" stroke-width="1" />
<text x="1042.3" y="423.0" font-size="13" fill="#222" text-anchor="middle" textLength="25.5" lengthAdjust="spacingAndGlyphs">0.75</text>
<line x1="1168.50" y1="405.80" x2="1168.50" y2="408.80" stroke="#222" stroke-width="1" />
<text x="1168.5" y="423.0" font-size="13" fill="#222" text-anchor="middle" textLength="25.5" lengthAdjust="spacingAndGlyphs">1.00</text>
<text x="849.8" y="439.9" font-size="14.5" fill="#222" text-anchor="start" textLength="132.3" lengthAdjust="spacingAndGlyphs">Rate of perturbagens</text>
<text transform="translate(604.5,337.5) rotate(-90)" x="0" y="0" font-size="11" fill="#222" text-anchor="middle" textLength="99.0" lengthAdjust="spacingAndGlyphs">Tanimoto similarity</text>
<circle cx="1098.5" cy="278.9" r="7.2" fill="#6b3e13"/><circle cx="1097" cy="278.9" r="7.2" fill="#d9a878"/><circle cx="1094.8" cy="278.9" r="7.2" fill="#efe9cb"/><circle cx="1132.4" cy="278.9" r="7.2" fill="#a4bbc3"/><circle cx="1136.7" cy="278.9" r="7.2" fill="#04c3c4"/><circle cx="1145.2" cy="278.9" r="7.2" fill="#0381a8"/><circle cx="860.5" cy="301.8" r="7.2" fill="#6b3e13"/><circle cx="858.5" cy="301.8" r="7.2" fill="#d9a878"/><circle cx="855.6" cy="301.8" r="7.2" fill="#efe9cb"/><circle cx="955.8" cy="301.8" r="7.2" fill="#a4bbc3"/><circle cx="966.2" cy="301.8" r="7.2" fill="#04c3c4"/><circle cx="976.7" cy="301.8" r="7.2" fill="#0381a8"/><circle cx="680.5" cy="324.4" r="7.2" fill="#6b3e13"/><circle cx="680" cy="324.4" r="7.2" fill="#d9a878"/><circle cx="678.9" cy="324.4" r="7.2" fill="#efe9cb"/><circle cx="710.6" cy="324.4" r="7.2" fill="#a4bbc3"/><circle cx="711.5" cy="324.4" r="7.2" fill="#04c3c4"/><circle cx="714.3" cy="324.4" r="7.2" fill="#0381a8"/><circle cx="668.5" cy="347" r="7.2" fill="#efe9cb"/><circle cx="688.3" cy="347" r="7.2" fill="#a4bbc3"/><circle cx="688.6" cy="347" r="7.2" fill="#04c3c4"/><circle cx="690.8" cy="347" r="7.2" fill="#0381a8"/><circle cx="665.7" cy="369.9" r="7.2" fill="#efe9cb"/><circle cx="684.2" cy="369.9" r="7.2" fill="#a4bbc3"/><circle cx="684.5" cy="369.9" r="7.2" fill="#04c3c4"/><circle cx="685.2" cy="369.9" r="7.2" fill="#0381a8"/><circle cx="665.7" cy="392.8" r="7.2" fill="#efe9cb"/><circle cx="681.2" cy="392.8" r="7.2" fill="#0381a8"/>
<circle cx="878.20" cy="461.80" r="7.2" fill="#a4bbc3" />
<text x="891.9" y="466.3" font-size="13" fill="#222" text-anchor="start" textLength="15.5" lengthAdjust="spacingAndGlyphs">HP</text>
<circle cx="930.90" cy="461.80" r="7.2" fill="#04c3c4" />
<text x="940.8" y="466.3" font-size="13" fill="#222" text-anchor="start" textLength="15.5" lengthAdjust="spacingAndGlyphs">HR</text>
<circle cx="982.30" cy="461.80" r="7.2" fill="#efe9cb" />
<text x="998.7" y="466.3" font-size="13" fill="#222" text-anchor="start" textLength="15.5" lengthAdjust="spacingAndGlyphs">LT</text>
<circle cx="1035.50" cy="461.80" r="7.2" fill="#0381a8" />
<text x="1049.6" y="466.3" font-size="13" fill="#222" text-anchor="start" textLength="15.5" lengthAdjust="spacingAndGlyphs">HT</text>
<circle cx="1089.80" cy="461.80" r="7.2" fill="#6b3e13" />
<text x="1106.1" y="466.3" font-size="13" fill="#222" text-anchor="start" textLength="15.5" lengthAdjust="spacingAndGlyphs">LP</text>
<circle cx="1143.70" cy="461.80" r="7.2" fill="#d9a878" />
<text x="1162.1" y="466.3" font-size="13" fill="#222" text-anchor="start" textLength="15.5" lengthAdjust="spacingAndGlyphs">LR</text>
<text x="584.6" y="506.7" font-size="23" font-weight="bold" fill="#000" text-anchor="start" textLength="17.6" lengthAdjust="spacingAndGlyphs">D</text>
<rect x="634.7" y="497.3" width="134.6" height="11.5" rx="0" fill="#e0e0e0" stroke="#b0b0b0" stroke-width="0.6"/>
<line x1="634.70" y1="508.80" x2="769.30" y2="508.80" stroke="#9a9a9a" stroke-width="1.1" />
<rect x="634.7" y="508.8" width="134.6" height="168.5" rx="0" fill="none" stroke="#bdbdbd" stroke-width="0.9"/>
<text x="702.0" y="506.0" font-size="6.5" fill="#444" text-anchor="middle">C2 ALL</text>
<rect x="638.1" y="624.9" width="19.2" height="45.0" rx="0" fill="#6b3e13" />
<rect x="659.9" y="580.3" width="19.2" height="89.6" rx="0" fill="#d9a878" />
<rect x="681.6" y="535.2" width="19.2" height="134.7" rx="0" fill="#efe9cb" />
<rect x="703.4" y="570.3" width="19.2" height="99.6" rx="0" fill="#a4bbc3" />
<rect x="725.1" y="532.0" width="19.2" height="137.9" rx="0" fill="#04c3c4" />
<rect x="746.9" y="521.6" width="19.2" height="148.3" rx="0" fill="#0381a8" />
<rect x="773.3" y="497.3" width="134.2" height="11.5" rx="0" fill="#e0e0e0" stroke="#b0b0b0" stroke-width="0.6"/>
<line x1="773.30" y1="508.80" x2="907.50" y2="508.80" stroke="#9a9a9a" stroke-width="1.1" />
<rect x="773.3" y="508.8" width="134.2" height="168.5" rx="0" fill="none" stroke="#bdbdbd" stroke-width="0.9"/>
<text x="840.4" y="506.0" font-size="6.5" fill="#444" text-anchor="middle">C2 CGP</text>
<rect x="776.7" y="624.9" width="19.2" height="45.0" rx="0" fill="#6b3e13" />
<rect x="798.4" y="580.3" width="19.2" height="89.6" rx="0" fill="#d9a878" />
<rect x="820.2" y="536.1" width="19.2" height="133.8" rx="0" fill="#efe9cb" />
<rect x="841.9" y="574.8" width="19.2" height="95.1" rx="0" fill="#a4bbc3" />
<rect x="863.7" y="537.5" width="19.2" height="132.4" rx="0" fill="#04c3c4" />
<rect x="885.4" y="526.6" width="19.2" height="143.3" rx="0" fill="#0381a8" />
<rect x="911.5" y="497.3" width="135.2" height="11.5" rx="0" fill="#e0e0e0" stroke="#b0b0b0" stroke-width="0.6"/>
<line x1="911.50" y1="508.80" x2="1046.70" y2="508.80" stroke="#9a9a9a" stroke-width="1.1" />
<rect x="911.5" y="508.8" width="135.2" height="168.5" rx="0" fill="none" stroke="#bdbdbd" stroke-width="0.9"/>
<text x="979.1" y="506.0" font-size="6.5" fill="#444" text-anchor="middle">C2 KEGG</text>
<rect x="914.9" y="649.9" width="19.2" height="20.0" rx="0" fill="#6b3e13" />
<rect x="936.6" y="631.2" width="19.2" height="38.7" rx="0" fill="#d9a878" />
<rect x="958.4" y="610.8" width="19.2" height="59.1" rx="0" fill="#efe9cb" />
<rect x="980.1" y="626.7" width="19.2" height="43.2" rx="0" fill="#a4bbc3" />
<rect x="1001.9" y="607.1" width="19.2" height="62.8" rx="0" fill="#04c3c4" />
<rect x="1023.6" y="603.9" width="19.2" height="66.0" rx="0" fill="#0381a8" />
<rect x="1050.1" y="497.3" width="134.4" height="11.5" rx="0" fill="#e0e0e0" stroke="#b0b0b0" stroke-width="0.6"/>
<line x1="1050.10" y1="508.80" x2="1184.50" y2="508.80" stroke="#9a9a9a" stroke-width="1.1" />
<rect x="1050.1" y="508.8" width="134.4" height="168.5" rx="0" fill="none" stroke="#bdbdbd" stroke-width="0.9"/>
<text x="1117.3" y="506.0" font-size="6.5" fill="#444" text-anchor="middle">C5 ALL</text>
<rect x="1053.5" y="624.9" width="19.2" height="45.0" rx="0" fill="#6b3e13" />
<rect x="1075.2" y="580.3" width="19.2" height="89.6" rx="0" fill="#d9a878" />
<rect x="1097.0" y="535.2" width="19.2" height="134.7" rx="0" fill="#efe9cb" />
<rect x="1118.8" y="573.0" width="19.2" height="96.9" rx="0" fill="#a4bbc3" />
<rect x="1140.5" y="532.0" width="19.2" height="137.9" rx="0" fill="#04c3c4" />
<rect x="1162.2" y="517.0" width="19.2" height="152.9" rx="0" fill="#0381a8" />
<text x="630.0" y="671.9" font-size="5.5" fill="#555" text-anchor="end">0</text>
<line x1="631.50" y1="669.90" x2="634.50" y2="669.90" stroke="#888" stroke-width="0.6" />
<text x="630.0" y="626.4" font-size="5.5" fill="#555" text-anchor="end">1</text>
<line x1="631.50" y1="624.40" x2="634.50" y2="624.40" stroke="#888" stroke-width="0.6" />
<text x="630.0" y="580.9" font-size="5.5" fill="#555" text-anchor="end">2</text>
<line x1="631.50" y1="578.90" x2="634.50" y2="578.90" stroke="#888" stroke-width="0.6" />
<text x="630.0" y="535.4" font-size="5.5" fill="#555" text-anchor="end">3</text>
<line x1="631.50" y1="533.40" x2="634.50" y2="533.40" stroke="#888" stroke-width="0.6" />
<text transform="translate(621.8,596.7) rotate(-90)" x="0" y="0" font-size="13" fill="#222" text-anchor="middle" textLength="137.3" lengthAdjust="spacingAndGlyphs">Average number of&#160; BCRGs</text>
<text x="587.4" y="733.7" font-size="23" font-weight="bold" fill="#000" text-anchor="start">E</text>
<path d="M688.8,795.6 L711.64,865.15 A73.2,73.2 0 1 1 688.8,722.4 Z" fill="#e69f00"/>
<path d="M688.8,795.6 L688.8,722.4 A73.2,73.2 0 0 1 711.64,865.15 Z" fill="#12336b"/>
<text x="625.9" y="786.5" font-size="14" fill="#f6f0e2" text-anchor="start" textLength="45.6" lengthAdjust="spacingAndGlyphs">55.05%</text>
<text x="701.9" y="810.0" font-size="14" fill="#f6f0e2" text-anchor="start" textLength="46.6" lengthAdjust="spacingAndGlyphs">44.95%</text>
<text x="771.5" y="734.0" font-size="23" font-weight="bold" fill="#000" text-anchor="start">F</text>
<path d="M872.5,794.5 L808.60,829.79 A73,73 0 0 1 872.5,721.5 Z" fill="#e69f00"/>
<path d="M872.5,794.5 L872.5,721.5 A73,73 0 1 1 808.60,829.79 Z" fill="#12336b"/>
<text x="809.3" y="782.8" font-size="14" fill="#f6f0e2" text-anchor="start" textLength="46.7" lengthAdjust="spacingAndGlyphs">33.03%</text>
<text x="881.3" y="807.9" font-size="14" fill="#f6f0e2" text-anchor="start" textLength="46.7" lengthAdjust="spacingAndGlyphs">66.97%</text>
<text x="953.4" y="733.5" font-size="23" font-weight="bold" fill="#000" text-anchor="start">G</text>
<path d="M1056,790.4 L1074.73,860.96 A73,73 0 1 1 1056,717.4 Z" fill="#dab9c1"/>
<path d="M1056,790.4 L1056,717.4 A73,73 0 0 1 1074.73,860.96 Z" fill="#a9b6d3"/>
<text x="992.0" y="784.1" font-size="14" fill="#f6f0e2" text-anchor="start" textLength="46.7" lengthAdjust="spacingAndGlyphs">54.13%</text>
<text x="1068.8" y="808.7" font-size="14" fill="#f6f0e2" text-anchor="start" textLength="45.9" lengthAdjust="spacingAndGlyphs">45.87%</text>
<rect x="1133.3" y="714.0" width="14.2" height="13.9" rx="0" fill="#e69f00" />
<text x="1152.0" y="722.6" font-size="10.3" fill="#222" text-anchor="start" textLength="42.0" lengthAdjust="spacingAndGlyphs">In progress</text>
<rect x="1133.3" y="730.0" width="14.2" height="13.3" rx="0" fill="#12336b" />
<text x="1152.0" y="738.2" font-size="10.3" fill="#222" text-anchor="start" textLength="49.0" lengthAdjust="spacingAndGlyphs">Did not tried</text>
<rect x="1133.3" y="746.0" width="14.2" height="12.5" rx="0" fill="#dab9c1" />
<text x="1152.0" y="753.9" font-size="10.3" fill="#222" text-anchor="start" textLength="17.0" lengthAdjust="spacingAndGlyphs">GBD</text>
<rect x="1133.3" y="760.1" width="14.2" height="13.1" rx="0" fill="#a9b6d3" />
<text x="1152.0" y="768.3" font-size="10.3" fill="#222" text-anchor="start" textLength="27.5" lengthAdjust="spacingAndGlyphs">N_GBD</text>
</svg>
</body></html>
